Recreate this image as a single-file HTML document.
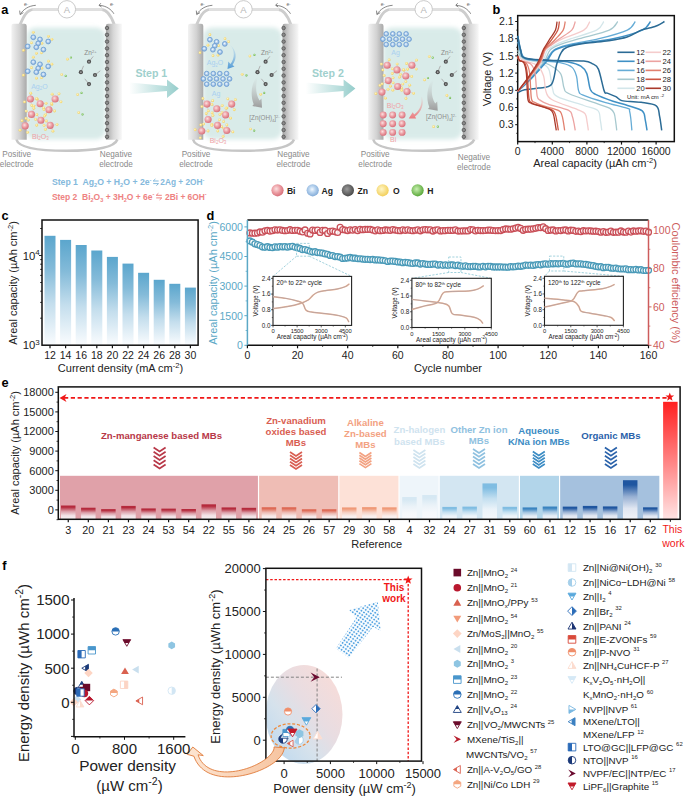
<!DOCTYPE html>
<html><head><meta charset="utf-8"><style>
html,body{margin:0;padding:0;background:#fff;}
svg{display:block;}
svg text{font-family:"Liberation Sans", sans-serif;}
</style></head><body>
<svg width="685" height="797" viewBox="0 0 685 797">
<defs>
<linearGradient id="gc" x1="0" y1="0" x2="0" y2="1"><stop offset="0" stop-color="#5ba6cd"/><stop offset="0.3" stop-color="#84bbd9"/><stop offset="0.62" stop-color="#c4deed"/><stop offset="1" stop-color="#fafcfe"/></linearGradient>
<linearGradient id="gthis" x1="0" y1="0" x2="0" y2="1"><stop offset="0" stop-color="#ff2020"/><stop offset="1" stop-color="#ffe4e4"/></linearGradient>
</defs>
<rect x="517.7" y="15.6" width="156.5999999999999" height="126.0" fill="none" stroke="#111" stroke-width="1.5"/>
<line x1="515.2" y1="124.70" x2="517.7" y2="124.70" stroke="#111" stroke-width="1"/>
<text x="513.70" y="128.30" font-size="10.5" fill="#222" text-anchor="end" font-weight="normal" >0.3</text>
<line x1="515.2" y1="107.50" x2="517.7" y2="107.50" stroke="#111" stroke-width="1"/>
<text x="513.70" y="111.10" font-size="10.5" fill="#222" text-anchor="end" font-weight="normal" >0.6</text>
<line x1="515.2" y1="90.30" x2="517.7" y2="90.30" stroke="#111" stroke-width="1"/>
<text x="513.70" y="93.90" font-size="10.5" fill="#222" text-anchor="end" font-weight="normal" >0.9</text>
<line x1="515.2" y1="73.10" x2="517.7" y2="73.10" stroke="#111" stroke-width="1"/>
<text x="513.70" y="76.70" font-size="10.5" fill="#222" text-anchor="end" font-weight="normal" >1.2</text>
<line x1="515.2" y1="55.91" x2="517.7" y2="55.91" stroke="#111" stroke-width="1"/>
<text x="513.70" y="59.51" font-size="10.5" fill="#222" text-anchor="end" font-weight="normal" >1.5</text>
<line x1="515.2" y1="38.71" x2="517.7" y2="38.71" stroke="#111" stroke-width="1"/>
<text x="513.70" y="42.31" font-size="10.5" fill="#222" text-anchor="end" font-weight="normal" >1.8</text>
<line x1="515.2" y1="21.51" x2="517.7" y2="21.51" stroke="#111" stroke-width="1"/>
<text x="513.70" y="25.11" font-size="10.5" fill="#222" text-anchor="end" font-weight="normal" >2.1</text>
<line x1="516.2" y1="133.30" x2="517.7" y2="133.30" stroke="#111" stroke-width="0.8"/>
<line x1="516.2" y1="116.10" x2="517.7" y2="116.10" stroke="#111" stroke-width="0.8"/>
<line x1="516.2" y1="98.90" x2="517.7" y2="98.90" stroke="#111" stroke-width="0.8"/>
<line x1="516.2" y1="81.70" x2="517.7" y2="81.70" stroke="#111" stroke-width="0.8"/>
<line x1="516.2" y1="64.50" x2="517.7" y2="64.50" stroke="#111" stroke-width="0.8"/>
<line x1="516.2" y1="47.31" x2="517.7" y2="47.31" stroke="#111" stroke-width="0.8"/>
<line x1="516.2" y1="30.11" x2="517.7" y2="30.11" stroke="#111" stroke-width="0.8"/>
<line x1="517.70" y1="141.6" x2="517.70" y2="144.6" stroke="#111" stroke-width="1.2"/>
<text x="517.70" y="155.20" font-size="10.5" fill="#222" text-anchor="middle" font-weight="normal" >0</text>
<line x1="552.30" y1="141.6" x2="552.30" y2="144.6" stroke="#111" stroke-width="1.2"/>
<text x="552.30" y="155.20" font-size="10.5" fill="#222" text-anchor="middle" font-weight="normal" >4000</text>
<line x1="586.90" y1="141.6" x2="586.90" y2="144.6" stroke="#111" stroke-width="1.2"/>
<text x="586.90" y="155.20" font-size="10.5" fill="#222" text-anchor="middle" font-weight="normal" >8000</text>
<line x1="621.50" y1="141.6" x2="621.50" y2="144.6" stroke="#111" stroke-width="1.2"/>
<text x="621.50" y="155.20" font-size="10.5" fill="#222" text-anchor="middle" font-weight="normal" >12000</text>
<line x1="656.10" y1="141.6" x2="656.10" y2="144.6" stroke="#111" stroke-width="1.2"/>
<text x="656.10" y="155.20" font-size="10.5" fill="#222" text-anchor="middle" font-weight="normal" >16000</text>
<line x1="535.00" y1="141.6" x2="535.00" y2="143.1" stroke="#111" stroke-width="0.8"/>
<line x1="569.60" y1="141.6" x2="569.60" y2="143.1" stroke="#111" stroke-width="0.8"/>
<line x1="604.20" y1="141.6" x2="604.20" y2="143.1" stroke="#111" stroke-width="0.8"/>
<line x1="638.80" y1="141.6" x2="638.80" y2="143.1" stroke="#111" stroke-width="0.8"/>
<text x="595.00" y="166.60" font-size="11" fill="#222" text-anchor="middle" font-weight="normal" >Areal capacity (µAh cm<tspan dy="-4" font-size="7.5">-2</tspan><tspan dy="4">)</tspan></text>
<text x="491.00" y="79.00" font-size="11" fill="#222" text-anchor="middle" font-weight="normal" transform="rotate(-90 491 79)">Voltage (V)</text>
<text x="492.60" y="14.00" font-size="12.8" fill="#000" text-anchor="start" font-weight="bold" >b</text>
<path d="M517.70 91.45 C519.77 89.16 525.99 82.66 530.13 77.69 C534.27 72.72 539.66 66.22 542.56 61.64 C545.46 57.05 545.20 53.04 547.54 50.17 C549.89 47.31 552.71 46.35 556.62 44.44 C560.54 42.53 564.41 41.09 571.06 38.71 C577.72 36.32 591.12 32.97 596.57 30.11 C602.02 27.24 602.56 22.94 603.76 21.51" fill="none" stroke="#d3e6ea" stroke-width="1.3"/>
<path d="M517.70 53.04 C518.13 53.71 519.00 55.91 520.30 57.05 C521.59 58.20 522.31 58.96 525.49 59.92 C528.66 60.87 535.45 61.26 539.33 62.78 C543.20 64.31 546.58 64.89 548.75 69.09 C550.93 73.30 550.93 83.42 552.39 88.01 C553.84 92.60 552.26 93.70 557.49 96.61 C562.72 99.52 577.08 103.20 583.79 105.50 C590.49 107.79 594.96 107.93 597.71 110.37 C600.47 112.81 599.63 116.77 600.31 120.11 C600.99 123.46 601.53 128.71 601.78 130.43" fill="none" stroke="#d3e6ea" stroke-width="1.3"/>
<path d="M517.70 91.45 C519.91 89.16 526.53 82.66 530.95 77.69 C535.36 72.72 541.01 66.22 544.19 61.64 C547.38 57.05 547.32 53.04 550.04 50.17 C552.77 47.31 555.69 46.35 560.55 44.44 C565.42 42.53 571.11 41.09 579.24 38.71 C587.36 36.32 602.88 32.97 609.30 30.11 C615.72 27.24 616.37 22.94 617.78 21.51" fill="none" stroke="#a7c9cf" stroke-width="1.3"/>
<path d="M517.70 50.17 C518.13 51.13 519.00 54.38 520.30 55.91 C521.59 57.43 522.31 58.39 525.49 59.34 C528.66 60.30 535.45 60.78 539.33 61.64 C543.20 62.50 545.24 62.55 548.75 64.50 C552.27 66.46 557.88 69.47 560.43 73.39 C562.98 77.31 562.61 84.62 564.06 88.01 C565.52 91.40 563.44 91.07 569.17 93.74 C574.89 96.42 591.60 101.63 598.40 104.06 C605.21 106.50 607.37 106.83 610.00 108.36 C612.62 109.89 613.20 110.99 614.15 113.24 C615.10 115.48 615.27 118.97 615.70 121.83 C616.14 124.70 616.57 129.00 616.74 130.43" fill="none" stroke="#a7c9cf" stroke-width="1.3"/>
<path d="M517.70 91.45 C520.01 89.16 526.92 82.66 531.53 77.69 C536.14 72.72 541.69 66.22 545.36 61.64 C549.03 57.05 549.46 53.04 553.55 50.17 C557.63 47.31 562.30 46.35 569.89 44.44 C577.48 42.53 589.52 41.09 599.09 38.71 C608.66 36.32 621.30 32.97 627.33 30.11 C633.37 27.24 633.97 22.94 635.30 21.51" fill="none" stroke="#66acd6" stroke-width="1.3"/>
<path d="M517.70 41.57 C518.20 43.48 519.43 50.17 520.73 53.04 C522.03 55.91 521.66 57.43 525.49 58.77 C529.31 60.11 537.58 60.35 543.65 61.06 C549.72 61.78 557.16 62.02 561.90 63.07 C566.64 64.12 569.67 65.17 572.11 67.37 C574.54 69.57 575.42 72.34 576.52 76.26 C577.62 80.17 577.47 87.68 578.68 90.88 C579.89 94.08 579.29 93.50 583.79 95.46 C588.28 97.42 598.38 100.48 605.67 102.63 C612.97 104.78 623.58 106.98 627.56 108.36 C631.53 109.75 629.00 109.17 629.54 110.94 C630.09 112.71 630.45 115.72 630.84 118.97 C631.23 122.22 631.71 128.52 631.88 130.43" fill="none" stroke="#66acd6" stroke-width="1.3"/>
<path d="M517.70 91.45 C520.10 89.16 527.31 82.66 532.12 77.69 C536.92 72.72 542.76 66.22 546.53 61.64 C550.30 57.05 550.24 53.04 554.71 50.17 C559.19 47.31 563.66 46.35 573.40 44.44 C583.13 42.53 601.63 41.09 613.11 38.71 C624.59 36.32 636.03 32.97 642.26 30.11 C648.48 27.24 649.11 22.94 650.48 21.51" fill="none" stroke="#3f90c5" stroke-width="1.5"/>
<path d="M517.70 35.84 C518.20 38.23 519.43 46.45 520.73 50.17 C522.03 53.90 520.94 56.48 525.49 58.20 C530.03 59.92 540.69 59.82 547.98 60.49 C555.26 61.16 563.69 61.26 569.17 62.21 C574.65 63.17 577.92 64.36 580.85 66.22 C583.77 68.09 585.14 69.52 586.73 73.39 C588.31 77.26 588.89 85.96 590.36 89.44 C591.83 92.93 591.77 92.36 595.55 94.32 C599.33 96.27 607.69 99.33 613.02 101.20 C618.36 103.06 622.68 103.87 627.56 105.50 C632.43 107.12 639.30 108.51 642.26 110.94 C645.22 113.38 644.49 116.87 645.29 120.11 C646.08 123.36 646.73 128.71 647.02 130.43" fill="none" stroke="#3f90c5" stroke-width="1.5"/>
<path d="M517.70 92.60 C518.85 92.12 521.16 90.49 524.62 89.73 C528.08 88.97 533.99 88.87 538.46 88.01 C542.93 87.15 548.41 88.49 551.44 84.57 C554.46 80.65 555.04 69.76 556.62 64.50 C558.21 59.25 559.22 55.91 560.95 53.04 C562.68 50.17 562.97 48.93 567.00 47.31 C571.04 45.68 578.25 44.39 585.17 43.29 C592.09 42.19 601.53 41.76 608.53 40.71 C615.52 39.66 621.69 38.75 627.12 36.99 C632.56 35.22 637.24 31.64 641.14 30.11 C645.03 28.58 647.75 28.58 650.48 27.81 C653.20 27.05 655.15 26.57 657.48 25.52 C659.82 24.47 663.32 22.18 664.49 21.51" fill="none" stroke="#2b6b95" stroke-width="1.5"/>
<path d="M517.70 35.84 C518.20 38.23 519.43 46.45 520.73 50.17 C522.03 53.90 519.50 56.48 525.49 58.20 C531.47 59.92 546.91 60.01 556.62 60.49 C566.34 60.97 577.79 60.49 583.79 61.06 C589.78 61.64 590.17 62.59 592.61 63.93 C595.05 65.27 596.47 64.60 598.40 69.09 C600.34 73.58 602.73 86.86 604.20 90.88 C605.67 94.89 605.28 92.21 607.23 93.17 C609.17 94.12 613.46 95.37 615.88 96.61 C618.30 97.85 618.83 99.76 621.76 100.62 C624.69 101.48 630.21 101.48 633.44 101.77 C636.67 102.06 637.33 101.67 641.14 102.34 C644.94 103.01 653.20 103.49 656.27 105.78 C659.34 108.08 658.65 111.99 659.56 116.10 C660.47 120.21 661.36 128.05 661.72 130.43" fill="none" stroke="#2b6b95" stroke-width="1.5"/>
<path d="M517.70 91.45 C519.65 89.16 525.52 82.66 529.43 77.69 C533.34 72.72 538.50 66.22 541.16 61.64 C543.81 57.05 543.49 53.04 545.36 50.17 C547.23 47.31 549.46 46.35 552.38 44.44 C555.30 42.53 557.64 41.09 562.89 38.71 C568.13 36.32 579.36 32.97 583.84 30.11 C588.31 27.24 588.76 22.94 589.75 21.51" fill="none" stroke="#f5cccc" stroke-width="1.3"/>
<path d="M517.70 55.91 C518.13 56.38 519.00 57.91 520.30 58.77 C521.59 59.63 522.60 59.92 525.49 61.06 C528.37 62.21 534.57 63.12 537.60 65.65 C540.62 68.18 542.28 72.05 543.65 76.26 C545.02 80.46 544.47 87.01 545.81 90.88 C547.15 94.75 546.33 96.32 551.69 99.48 C557.06 102.63 572.41 107.41 577.99 109.80 C583.57 112.18 583.66 111.80 585.17 113.81 C586.68 115.81 586.54 119.06 587.07 121.83 C587.61 124.61 588.15 129.00 588.37 130.43" fill="none" stroke="#f5cccc" stroke-width="1.3"/>
<path d="M517.70 91.45 C519.62 89.16 525.36 82.66 529.20 77.69 C533.03 72.72 538.07 66.22 540.69 61.64 C543.32 57.05 543.08 53.04 544.95 50.17 C546.81 47.31 549.46 46.35 551.87 44.44 C554.27 42.53 556.07 41.09 559.38 38.71 C562.70 36.32 569.12 32.97 571.77 30.11 C574.42 27.24 574.68 22.94 575.27 21.51" fill="none" stroke="#eca3a1" stroke-width="1.3"/>
<path d="M517.70 55.91 C517.99 56.67 517.27 59.15 519.43 60.49 C521.59 61.83 528.08 61.83 530.68 63.93 C533.27 66.03 533.92 67.75 535.00 73.10 C536.08 78.45 536.21 91.45 537.16 96.04 C538.11 100.62 538.91 99.28 540.71 100.62 C542.51 101.96 543.30 102.44 547.98 104.06 C552.65 105.69 564.70 108.36 568.74 110.37 C572.77 112.38 571.33 114.00 572.20 116.10 C573.06 118.20 573.42 120.59 573.93 122.98 C574.43 125.37 575.01 129.19 575.22 130.43" fill="none" stroke="#eca3a1" stroke-width="1.3"/>
<path d="M517.70 91.45 C519.58 89.16 525.21 82.66 528.96 77.69 C532.72 72.72 537.63 66.22 540.22 61.64 C542.82 57.05 542.86 53.04 544.52 50.17 C546.17 47.31 548.24 46.35 550.14 44.44 C552.03 42.53 553.71 41.09 555.88 38.71 C558.05 36.32 561.61 32.97 563.17 30.11 C564.72 27.24 564.88 22.94 565.22 21.51" fill="none" stroke="#e1806f" stroke-width="1.3"/>
<path d="M517.70 55.91 C517.99 56.67 517.99 59.25 519.43 60.49 C520.87 61.73 524.65 61.26 526.35 63.36 C528.05 65.46 528.80 67.28 529.64 73.10 C530.47 78.93 530.55 93.46 531.37 98.33 C532.19 103.20 532.95 101.20 534.57 102.34 C536.18 103.49 537.09 103.87 541.06 105.21 C545.02 106.55 554.89 108.74 558.36 110.37 C561.82 111.99 560.98 113.04 561.82 114.95 C562.65 116.87 562.90 119.25 563.37 121.83 C563.85 124.41 564.45 129.00 564.67 130.43" fill="none" stroke="#e1806f" stroke-width="1.3"/>
<path d="M517.70 91.45 C519.52 89.16 524.97 82.66 528.61 77.69 C532.25 72.72 537.02 66.22 539.52 61.64 C542.03 57.05 542.24 53.04 543.65 50.17 C545.06 47.31 546.52 46.35 547.98 44.44 C549.43 42.53 550.73 41.09 552.38 38.71 C554.02 36.32 556.68 32.97 557.84 30.11 C559.01 27.24 559.13 22.94 559.38 21.51" fill="none" stroke="#cd5642" stroke-width="1.3"/>
<path d="M517.70 55.91 C517.99 56.67 518.28 59.34 519.43 60.49 C520.58 61.64 523.32 60.68 524.62 62.78 C525.92 64.89 526.49 67.18 527.22 73.10 C527.94 79.03 528.15 93.36 528.95 98.33 C529.74 103.30 530.53 101.77 531.97 102.92 C533.41 104.06 534.28 104.06 537.60 105.21 C540.91 106.36 548.91 108.27 551.87 109.80 C554.82 111.32 554.48 112.38 555.33 114.38 C556.18 116.39 556.47 119.16 556.97 121.83 C557.48 124.51 558.12 129.00 558.36 130.43" fill="none" stroke="#cd5642" stroke-width="1.3"/>
<path d="M517.70 91.45 C519.42 89.16 524.59 82.66 528.03 77.69 C531.47 72.72 535.86 66.22 538.36 61.64 C540.86 57.05 541.66 53.04 543.03 50.17 C544.39 47.31 545.36 46.35 546.53 44.44 C547.70 42.53 548.55 41.09 550.04 38.71 C551.54 36.32 554.34 32.97 555.51 30.11 C556.68 27.24 556.79 22.94 557.05 21.51" fill="none" stroke="#a9392b" stroke-width="1.3"/>
<path d="M517.70 55.91 C517.99 56.67 518.42 59.34 519.43 60.49 C520.44 61.64 522.60 60.68 523.75 62.78 C524.91 64.89 525.67 67.08 526.35 73.10 C527.03 79.12 527.10 93.93 527.82 98.90 C528.54 103.87 529.32 101.91 530.68 102.92 C532.03 103.92 532.74 103.82 535.95 104.92 C539.17 106.02 547.05 107.93 549.96 109.51 C552.88 111.09 552.60 112.33 553.42 114.38 C554.25 116.44 554.42 119.16 554.90 121.83 C555.37 124.51 556.05 129.00 556.28 130.43" fill="none" stroke="#a9392b" stroke-width="1.3"/>
<line x1="617.4" y1="52.3" x2="634.6" y2="52.3" stroke="#2b6b95" stroke-width="1.6"/>
<text x="636.30" y="55.00" font-size="7.6" fill="#222" text-anchor="start" font-weight="normal" >12</text>
<line x1="645.5" y1="52.3" x2="661" y2="52.3" stroke="#f5cccc" stroke-width="1.6"/>
<text x="662.60" y="55.00" font-size="7.6" fill="#222" text-anchor="start" font-weight="normal" >22</text>
<line x1="617.4" y1="61.3" x2="634.6" y2="61.3" stroke="#3f90c5" stroke-width="1.6"/>
<text x="636.30" y="64.00" font-size="7.6" fill="#222" text-anchor="start" font-weight="normal" >14</text>
<line x1="645.5" y1="61.3" x2="661" y2="61.3" stroke="#eca3a1" stroke-width="1.6"/>
<text x="662.60" y="64.00" font-size="7.6" fill="#222" text-anchor="start" font-weight="normal" >24</text>
<line x1="617.4" y1="70.4" x2="634.6" y2="70.4" stroke="#66acd6" stroke-width="1.6"/>
<text x="636.30" y="73.10" font-size="7.6" fill="#222" text-anchor="start" font-weight="normal" >16</text>
<line x1="645.5" y1="70.4" x2="661" y2="70.4" stroke="#e1806f" stroke-width="1.6"/>
<text x="662.60" y="73.10" font-size="7.6" fill="#222" text-anchor="start" font-weight="normal" >26</text>
<line x1="617.4" y1="79.3" x2="634.6" y2="79.3" stroke="#a7c9cf" stroke-width="1.6"/>
<text x="636.30" y="82.00" font-size="7.6" fill="#222" text-anchor="start" font-weight="normal" >18</text>
<line x1="645.5" y1="79.3" x2="661" y2="79.3" stroke="#cd5642" stroke-width="1.6"/>
<text x="662.60" y="82.00" font-size="7.6" fill="#222" text-anchor="start" font-weight="normal" >28</text>
<line x1="617.4" y1="88.3" x2="634.6" y2="88.3" stroke="#d3e6ea" stroke-width="1.6"/>
<text x="636.30" y="91.00" font-size="7.6" fill="#222" text-anchor="start" font-weight="normal" >20</text>
<line x1="645.5" y1="88.3" x2="661" y2="88.3" stroke="#a9392b" stroke-width="1.6"/>
<text x="662.60" y="91.00" font-size="7.6" fill="#222" text-anchor="start" font-weight="normal" >30</text>
<text x="627.00" y="99.30" font-size="5.9" fill="#222" text-anchor="start" font-weight="normal" >Unit: mA cm<tspan dx="1.5" dy="-2.6" font-size="4.2">-2</tspan></text>
<rect x="44.50" y="235.8" width="11" height="109.40" fill="url(#gc)"/>
<rect x="60.10" y="239.9" width="11" height="105.30" fill="url(#gc)"/>
<rect x="75.70" y="245.0" width="11" height="100.20" fill="url(#gc)"/>
<rect x="91.30" y="250.5" width="11" height="94.70" fill="url(#gc)"/>
<rect x="106.90" y="256.9" width="11" height="88.30" fill="url(#gc)"/>
<rect x="122.50" y="263.6" width="11" height="81.60" fill="url(#gc)"/>
<rect x="138.10" y="272.8" width="11" height="72.40" fill="url(#gc)"/>
<rect x="153.70" y="279.8" width="11" height="65.40" fill="url(#gc)"/>
<rect x="169.30" y="283.8" width="11" height="61.40" fill="url(#gc)"/>
<rect x="184.90" y="287.6" width="11" height="57.60" fill="url(#gc)"/>
<rect x="42.0" y="220.0" width="156.1" height="125.19999999999999" fill="none" stroke="#111" stroke-width="1.5"/>
<line x1="40.2" y1="318.20" x2="42.0" y2="318.20" stroke="#111" stroke-width="0.9"/>
<line x1="40.2" y1="302.40" x2="42.0" y2="302.40" stroke="#111" stroke-width="0.9"/>
<line x1="40.2" y1="291.20" x2="42.0" y2="291.20" stroke="#111" stroke-width="0.9"/>
<line x1="40.2" y1="282.50" x2="42.0" y2="282.50" stroke="#111" stroke-width="0.9"/>
<line x1="40.2" y1="275.40" x2="42.0" y2="275.40" stroke="#111" stroke-width="0.9"/>
<line x1="40.2" y1="269.39" x2="42.0" y2="269.39" stroke="#111" stroke-width="0.9"/>
<line x1="40.2" y1="264.19" x2="42.0" y2="264.19" stroke="#111" stroke-width="0.9"/>
<line x1="40.2" y1="259.60" x2="42.0" y2="259.60" stroke="#111" stroke-width="0.9"/>
<line x1="39.0" y1="255.50" x2="42.0" y2="255.50" stroke="#111" stroke-width="0.9"/>
<line x1="40.2" y1="228.50" x2="42.0" y2="228.50" stroke="#111" stroke-width="0.9"/>
<text x="39.80" y="259.70" font-size="11.3" fill="#222" text-anchor="end" font-weight="normal" >10<tspan dy="-4.8" font-size="8">4</tspan></text>
<text x="39.80" y="349.40" font-size="11.3" fill="#222" text-anchor="end" font-weight="normal" >10<tspan dy="-4.8" font-size="8">3</tspan></text>
<line x1="50.00" y1="345.2" x2="50.00" y2="348.2" stroke="#111" stroke-width="1.2"/>
<text x="50.00" y="358.60" font-size="10.5" fill="#222" text-anchor="middle" font-weight="normal" >12</text>
<line x1="65.60" y1="345.2" x2="65.60" y2="348.2" stroke="#111" stroke-width="1.2"/>
<text x="65.60" y="358.60" font-size="10.5" fill="#222" text-anchor="middle" font-weight="normal" >14</text>
<line x1="81.20" y1="345.2" x2="81.20" y2="348.2" stroke="#111" stroke-width="1.2"/>
<text x="81.20" y="358.60" font-size="10.5" fill="#222" text-anchor="middle" font-weight="normal" >16</text>
<line x1="96.80" y1="345.2" x2="96.80" y2="348.2" stroke="#111" stroke-width="1.2"/>
<text x="96.80" y="358.60" font-size="10.5" fill="#222" text-anchor="middle" font-weight="normal" >18</text>
<line x1="112.40" y1="345.2" x2="112.40" y2="348.2" stroke="#111" stroke-width="1.2"/>
<text x="112.40" y="358.60" font-size="10.5" fill="#222" text-anchor="middle" font-weight="normal" >20</text>
<line x1="128.00" y1="345.2" x2="128.00" y2="348.2" stroke="#111" stroke-width="1.2"/>
<text x="128.00" y="358.60" font-size="10.5" fill="#222" text-anchor="middle" font-weight="normal" >22</text>
<line x1="143.60" y1="345.2" x2="143.60" y2="348.2" stroke="#111" stroke-width="1.2"/>
<text x="143.60" y="358.60" font-size="10.5" fill="#222" text-anchor="middle" font-weight="normal" >24</text>
<line x1="159.20" y1="345.2" x2="159.20" y2="348.2" stroke="#111" stroke-width="1.2"/>
<text x="159.20" y="358.60" font-size="10.5" fill="#222" text-anchor="middle" font-weight="normal" >26</text>
<line x1="174.80" y1="345.2" x2="174.80" y2="348.2" stroke="#111" stroke-width="1.2"/>
<text x="174.80" y="358.60" font-size="10.5" fill="#222" text-anchor="middle" font-weight="normal" >28</text>
<line x1="190.40" y1="345.2" x2="190.40" y2="348.2" stroke="#111" stroke-width="1.2"/>
<text x="190.40" y="358.60" font-size="10.5" fill="#222" text-anchor="middle" font-weight="normal" >30</text>
<text x="120.50" y="372.00" font-size="11" fill="#222" text-anchor="middle" font-weight="normal" >Current density (mA cm<tspan dy="-4" font-size="7.5">-2</tspan><tspan dy="4">)</tspan></text>
<text x="17.20" y="283.00" font-size="11" fill="#222" text-anchor="middle" font-weight="normal" transform="rotate(-90 17.2 283)">Areal capacity (µAh cm<tspan dy="-4" font-size="7.5">-2</tspan><tspan dy="4">)</tspan></text>
<text x="1.60" y="219.70" font-size="12.8" fill="#000" text-anchor="start" font-weight="bold" >c</text>
<polyline points="249.9,239.9 252.4,241.4 254.9,242.8 257.4,243.8 259.9,244.7 262.4,245.7 264.9,245.9 267.5,246.0 270.0,246.2 272.5,246.4 275.0,246.2 277.5,246.0 280.0,245.9 282.5,245.7 285.0,245.6 287.5,245.5 290.0,245.4 292.5,245.3 295.0,245.9 297.5,246.5 300.0,247.1 302.6,247.6 305.1,248.2 307.6,248.7 310.1,249.3 312.6,249.8 315.1,250.3 317.6,250.8 320.1,251.3 322.6,251.8 325.1,252.4 327.6,253.0 330.1,253.6 332.6,254.2 335.1,254.8 337.6,255.4 340.2,255.9 342.7,256.4 345.2,256.2 347.7,256.1 350.2,256.3 352.7,256.5 355.2,256.7 357.7,257.0 360.2,257.2 362.7,257.5 365.2,257.8 367.7,258.0 370.2,258.3 372.7,258.6 375.3,258.9 377.8,259.2 380.3,259.5 382.8,259.7 385.3,260.0 387.8,260.3 390.3,260.6 392.8,260.9 395.3,261.2 397.8,261.4 400.3,261.6 402.8,261.8 405.3,262.0 407.8,262.2 410.3,262.4 412.9,262.6 415.4,262.8 417.9,263.0 420.4,263.2 422.9,263.4 425.4,263.5 427.9,263.7 430.4,263.8 432.9,264.0 435.4,264.2 437.9,264.3 440.4,264.5 442.9,264.6 445.4,264.8 448.0,264.9 450.5,265.1 453.0,265.2 455.5,265.3 458.0,265.5 460.5,265.6 463.0,265.7 465.5,265.9 468.0,266.0 470.5,266.1 473.0,266.3 475.5,266.4 478.0,266.4 480.5,266.5 483.0,266.6 485.6,266.7 488.1,267.1 490.6,267.5 493.1,267.9 495.6,268.3 498.1,268.7 500.6,268.8 503.1,268.9 505.6,269.0 508.1,269.1 510.6,268.9 513.1,268.6 515.6,268.3 518.1,268.1 520.6,267.8 523.2,267.6 525.7,267.4 528.2,267.2 530.7,266.6 533.2,266.0 535.7,265.5 538.2,264.9 540.7,264.4 543.2,263.8 545.7,263.6 548.2,263.4 550.7,263.4 553.2,263.4 555.7,263.3 558.3,263.3 560.8,263.3 563.3,263.3 565.8,263.3 568.3,263.2 570.8,263.7 573.3,264.1 575.8,264.7 578.3,265.2 580.8,265.3 583.3,265.4 585.8,265.5 588.3,266.0 590.8,266.5 593.3,267.0 595.9,267.5 598.4,268.0 600.9,268.2 603.4,268.4 605.9,268.3 608.4,268.2 610.9,268.1 613.4,268.0 615.9,267.9 618.4,267.8 620.9,267.7 623.4,267.6 625.9,267.7 628.4,267.9 631.0,268.1 633.5,268.3 636.0,268.4 638.5,268.6 641.0,268.8 643.5,269.0 646.0,269.1 648.5,269.3" fill="none" stroke="#e8b850" stroke-width="1.6"/>
<circle cx="249.91" cy="240.97" r="2.95" fill="#fff" fill-opacity="0.8" stroke="#4a9ab8" stroke-width="1.3"/>
<circle cx="252.41" cy="242.15" r="2.95" fill="#fff" fill-opacity="0.8" stroke="#4a9ab8" stroke-width="1.3"/>
<circle cx="254.92" cy="243.80" r="2.95" fill="#fff" fill-opacity="0.8" stroke="#4a9ab8" stroke-width="1.3"/>
<circle cx="257.43" cy="244.56" r="2.95" fill="#fff" fill-opacity="0.8" stroke="#4a9ab8" stroke-width="1.3"/>
<circle cx="259.93" cy="245.52" r="2.95" fill="#fff" fill-opacity="0.8" stroke="#4a9ab8" stroke-width="1.3"/>
<circle cx="262.44" cy="247.06" r="2.95" fill="#fff" fill-opacity="0.8" stroke="#4a9ab8" stroke-width="1.3"/>
<circle cx="264.95" cy="247.31" r="2.95" fill="#fff" fill-opacity="0.8" stroke="#4a9ab8" stroke-width="1.3"/>
<circle cx="267.45" cy="246.70" r="2.95" fill="#fff" fill-opacity="0.8" stroke="#4a9ab8" stroke-width="1.3"/>
<circle cx="269.96" cy="247.46" r="2.95" fill="#fff" fill-opacity="0.8" stroke="#4a9ab8" stroke-width="1.3"/>
<circle cx="272.47" cy="247.68" r="2.95" fill="#fff" fill-opacity="0.8" stroke="#4a9ab8" stroke-width="1.3"/>
<circle cx="274.98" cy="246.79" r="2.95" fill="#fff" fill-opacity="0.8" stroke="#4a9ab8" stroke-width="1.3"/>
<circle cx="277.48" cy="247.16" r="2.95" fill="#fff" fill-opacity="0.8" stroke="#4a9ab8" stroke-width="1.3"/>
<circle cx="279.99" cy="246.65" r="2.95" fill="#fff" fill-opacity="0.8" stroke="#4a9ab8" stroke-width="1.3"/>
<circle cx="282.50" cy="246.85" r="2.95" fill="#fff" fill-opacity="0.8" stroke="#4a9ab8" stroke-width="1.3"/>
<circle cx="285.00" cy="246.64" r="2.95" fill="#fff" fill-opacity="0.8" stroke="#4a9ab8" stroke-width="1.3"/>
<circle cx="287.51" cy="247.08" r="2.95" fill="#fff" fill-opacity="0.8" stroke="#4a9ab8" stroke-width="1.3"/>
<circle cx="290.02" cy="246.55" r="2.95" fill="#fff" fill-opacity="0.8" stroke="#4a9ab8" stroke-width="1.3"/>
<circle cx="292.52" cy="246.27" r="2.95" fill="#fff" fill-opacity="0.8" stroke="#4a9ab8" stroke-width="1.3"/>
<circle cx="295.03" cy="247.27" r="2.95" fill="#fff" fill-opacity="0.8" stroke="#4a9ab8" stroke-width="1.3"/>
<circle cx="297.54" cy="247.71" r="2.95" fill="#fff" fill-opacity="0.8" stroke="#4a9ab8" stroke-width="1.3"/>
<circle cx="300.04" cy="248.44" r="2.95" fill="#fff" fill-opacity="0.8" stroke="#4a9ab8" stroke-width="1.3"/>
<circle cx="302.55" cy="249.65" r="2.95" fill="#fff" fill-opacity="0.8" stroke="#4a9ab8" stroke-width="1.3"/>
<circle cx="305.06" cy="249.59" r="2.95" fill="#fff" fill-opacity="0.8" stroke="#4a9ab8" stroke-width="1.3"/>
<circle cx="307.56" cy="250.37" r="2.95" fill="#fff" fill-opacity="0.8" stroke="#4a9ab8" stroke-width="1.3"/>
<circle cx="310.07" cy="251.27" r="2.95" fill="#fff" fill-opacity="0.8" stroke="#4a9ab8" stroke-width="1.3"/>
<circle cx="312.58" cy="252.03" r="2.95" fill="#fff" fill-opacity="0.8" stroke="#4a9ab8" stroke-width="1.3"/>
<circle cx="315.09" cy="251.70" r="2.95" fill="#fff" fill-opacity="0.8" stroke="#4a9ab8" stroke-width="1.3"/>
<circle cx="317.59" cy="252.58" r="2.95" fill="#fff" fill-opacity="0.8" stroke="#4a9ab8" stroke-width="1.3"/>
<circle cx="320.10" cy="252.83" r="2.95" fill="#fff" fill-opacity="0.8" stroke="#4a9ab8" stroke-width="1.3"/>
<circle cx="322.61" cy="253.17" r="2.95" fill="#fff" fill-opacity="0.8" stroke="#4a9ab8" stroke-width="1.3"/>
<circle cx="325.11" cy="253.92" r="2.95" fill="#fff" fill-opacity="0.8" stroke="#4a9ab8" stroke-width="1.3"/>
<circle cx="327.62" cy="254.31" r="2.95" fill="#fff" fill-opacity="0.8" stroke="#4a9ab8" stroke-width="1.3"/>
<circle cx="330.13" cy="255.42" r="2.95" fill="#fff" fill-opacity="0.8" stroke="#4a9ab8" stroke-width="1.3"/>
<circle cx="332.63" cy="255.61" r="2.95" fill="#fff" fill-opacity="0.8" stroke="#4a9ab8" stroke-width="1.3"/>
<circle cx="335.14" cy="256.55" r="2.95" fill="#fff" fill-opacity="0.8" stroke="#4a9ab8" stroke-width="1.3"/>
<circle cx="337.65" cy="256.60" r="2.95" fill="#fff" fill-opacity="0.8" stroke="#4a9ab8" stroke-width="1.3"/>
<circle cx="340.15" cy="257.18" r="2.95" fill="#fff" fill-opacity="0.8" stroke="#4a9ab8" stroke-width="1.3"/>
<circle cx="342.66" cy="258.48" r="2.95" fill="#fff" fill-opacity="0.8" stroke="#4a9ab8" stroke-width="1.3"/>
<circle cx="345.17" cy="258.24" r="2.95" fill="#fff" fill-opacity="0.8" stroke="#4a9ab8" stroke-width="1.3"/>
<circle cx="347.68" cy="257.96" r="2.95" fill="#fff" fill-opacity="0.8" stroke="#4a9ab8" stroke-width="1.3"/>
<circle cx="350.18" cy="257.44" r="2.95" fill="#fff" fill-opacity="0.8" stroke="#4a9ab8" stroke-width="1.3"/>
<circle cx="352.69" cy="258.18" r="2.95" fill="#fff" fill-opacity="0.8" stroke="#4a9ab8" stroke-width="1.3"/>
<circle cx="355.20" cy="258.21" r="2.95" fill="#fff" fill-opacity="0.8" stroke="#4a9ab8" stroke-width="1.3"/>
<circle cx="357.70" cy="258.75" r="2.95" fill="#fff" fill-opacity="0.8" stroke="#4a9ab8" stroke-width="1.3"/>
<circle cx="360.21" cy="258.76" r="2.95" fill="#fff" fill-opacity="0.8" stroke="#4a9ab8" stroke-width="1.3"/>
<circle cx="362.72" cy="259.10" r="2.95" fill="#fff" fill-opacity="0.8" stroke="#4a9ab8" stroke-width="1.3"/>
<circle cx="365.22" cy="259.35" r="2.95" fill="#fff" fill-opacity="0.8" stroke="#4a9ab8" stroke-width="1.3"/>
<circle cx="367.73" cy="259.34" r="2.95" fill="#fff" fill-opacity="0.8" stroke="#4a9ab8" stroke-width="1.3"/>
<circle cx="370.24" cy="259.55" r="2.95" fill="#fff" fill-opacity="0.8" stroke="#4a9ab8" stroke-width="1.3"/>
<circle cx="372.74" cy="259.46" r="2.95" fill="#fff" fill-opacity="0.8" stroke="#4a9ab8" stroke-width="1.3"/>
<circle cx="375.25" cy="259.89" r="2.95" fill="#fff" fill-opacity="0.8" stroke="#4a9ab8" stroke-width="1.3"/>
<circle cx="377.76" cy="259.87" r="2.95" fill="#fff" fill-opacity="0.8" stroke="#4a9ab8" stroke-width="1.3"/>
<circle cx="380.26" cy="260.15" r="2.95" fill="#fff" fill-opacity="0.8" stroke="#4a9ab8" stroke-width="1.3"/>
<circle cx="382.77" cy="260.24" r="2.95" fill="#fff" fill-opacity="0.8" stroke="#4a9ab8" stroke-width="1.3"/>
<circle cx="385.28" cy="260.77" r="2.95" fill="#fff" fill-opacity="0.8" stroke="#4a9ab8" stroke-width="1.3"/>
<circle cx="387.79" cy="261.49" r="2.95" fill="#fff" fill-opacity="0.8" stroke="#4a9ab8" stroke-width="1.3"/>
<circle cx="390.29" cy="261.02" r="2.95" fill="#fff" fill-opacity="0.8" stroke="#4a9ab8" stroke-width="1.3"/>
<circle cx="392.80" cy="261.13" r="2.95" fill="#fff" fill-opacity="0.8" stroke="#4a9ab8" stroke-width="1.3"/>
<circle cx="395.31" cy="261.41" r="2.95" fill="#fff" fill-opacity="0.8" stroke="#4a9ab8" stroke-width="1.3"/>
<circle cx="397.81" cy="261.96" r="2.95" fill="#fff" fill-opacity="0.8" stroke="#4a9ab8" stroke-width="1.3"/>
<circle cx="400.32" cy="261.99" r="2.95" fill="#fff" fill-opacity="0.8" stroke="#4a9ab8" stroke-width="1.3"/>
<circle cx="402.83" cy="262.67" r="2.95" fill="#fff" fill-opacity="0.8" stroke="#4a9ab8" stroke-width="1.3"/>
<circle cx="405.33" cy="262.23" r="2.95" fill="#fff" fill-opacity="0.8" stroke="#4a9ab8" stroke-width="1.3"/>
<circle cx="407.84" cy="262.66" r="2.95" fill="#fff" fill-opacity="0.8" stroke="#4a9ab8" stroke-width="1.3"/>
<circle cx="410.35" cy="263.13" r="2.95" fill="#fff" fill-opacity="0.8" stroke="#4a9ab8" stroke-width="1.3"/>
<circle cx="412.85" cy="263.52" r="2.95" fill="#fff" fill-opacity="0.8" stroke="#4a9ab8" stroke-width="1.3"/>
<circle cx="415.36" cy="262.92" r="2.95" fill="#fff" fill-opacity="0.8" stroke="#4a9ab8" stroke-width="1.3"/>
<circle cx="417.87" cy="262.96" r="2.95" fill="#fff" fill-opacity="0.8" stroke="#4a9ab8" stroke-width="1.3"/>
<circle cx="420.37" cy="264.03" r="2.95" fill="#fff" fill-opacity="0.8" stroke="#4a9ab8" stroke-width="1.3"/>
<circle cx="422.88" cy="263.50" r="2.95" fill="#fff" fill-opacity="0.8" stroke="#4a9ab8" stroke-width="1.3"/>
<circle cx="425.39" cy="264.03" r="2.95" fill="#fff" fill-opacity="0.8" stroke="#4a9ab8" stroke-width="1.3"/>
<circle cx="427.89" cy="264.42" r="2.95" fill="#fff" fill-opacity="0.8" stroke="#4a9ab8" stroke-width="1.3"/>
<circle cx="430.40" cy="264.42" r="2.95" fill="#fff" fill-opacity="0.8" stroke="#4a9ab8" stroke-width="1.3"/>
<circle cx="432.91" cy="264.09" r="2.95" fill="#fff" fill-opacity="0.8" stroke="#4a9ab8" stroke-width="1.3"/>
<circle cx="435.42" cy="264.12" r="2.95" fill="#fff" fill-opacity="0.8" stroke="#4a9ab8" stroke-width="1.3"/>
<circle cx="437.92" cy="265.08" r="2.95" fill="#fff" fill-opacity="0.8" stroke="#4a9ab8" stroke-width="1.3"/>
<circle cx="440.43" cy="264.66" r="2.95" fill="#fff" fill-opacity="0.8" stroke="#4a9ab8" stroke-width="1.3"/>
<circle cx="442.94" cy="265.36" r="2.95" fill="#fff" fill-opacity="0.8" stroke="#4a9ab8" stroke-width="1.3"/>
<circle cx="445.44" cy="264.83" r="2.95" fill="#fff" fill-opacity="0.8" stroke="#4a9ab8" stroke-width="1.3"/>
<circle cx="447.95" cy="265.35" r="2.95" fill="#fff" fill-opacity="0.8" stroke="#4a9ab8" stroke-width="1.3"/>
<circle cx="450.46" cy="264.93" r="2.95" fill="#fff" fill-opacity="0.8" stroke="#4a9ab8" stroke-width="1.3"/>
<circle cx="452.96" cy="264.95" r="2.95" fill="#fff" fill-opacity="0.8" stroke="#4a9ab8" stroke-width="1.3"/>
<circle cx="455.47" cy="265.53" r="2.95" fill="#fff" fill-opacity="0.8" stroke="#4a9ab8" stroke-width="1.3"/>
<circle cx="457.98" cy="265.16" r="2.95" fill="#fff" fill-opacity="0.8" stroke="#4a9ab8" stroke-width="1.3"/>
<circle cx="460.48" cy="265.96" r="2.95" fill="#fff" fill-opacity="0.8" stroke="#4a9ab8" stroke-width="1.3"/>
<circle cx="462.99" cy="266.31" r="2.95" fill="#fff" fill-opacity="0.8" stroke="#4a9ab8" stroke-width="1.3"/>
<circle cx="465.50" cy="265.91" r="2.95" fill="#fff" fill-opacity="0.8" stroke="#4a9ab8" stroke-width="1.3"/>
<circle cx="468.00" cy="266.59" r="2.95" fill="#fff" fill-opacity="0.8" stroke="#4a9ab8" stroke-width="1.3"/>
<circle cx="470.51" cy="266.55" r="2.95" fill="#fff" fill-opacity="0.8" stroke="#4a9ab8" stroke-width="1.3"/>
<circle cx="473.02" cy="266.46" r="2.95" fill="#fff" fill-opacity="0.8" stroke="#4a9ab8" stroke-width="1.3"/>
<circle cx="475.53" cy="266.32" r="2.95" fill="#fff" fill-opacity="0.8" stroke="#4a9ab8" stroke-width="1.3"/>
<circle cx="478.03" cy="266.82" r="2.95" fill="#fff" fill-opacity="0.8" stroke="#4a9ab8" stroke-width="1.3"/>
<circle cx="480.54" cy="267.00" r="2.95" fill="#fff" fill-opacity="0.8" stroke="#4a9ab8" stroke-width="1.3"/>
<circle cx="483.05" cy="266.24" r="2.95" fill="#fff" fill-opacity="0.8" stroke="#4a9ab8" stroke-width="1.3"/>
<circle cx="485.55" cy="266.85" r="2.95" fill="#fff" fill-opacity="0.8" stroke="#4a9ab8" stroke-width="1.3"/>
<circle cx="488.06" cy="266.27" r="2.95" fill="#fff" fill-opacity="0.8" stroke="#4a9ab8" stroke-width="1.3"/>
<circle cx="490.57" cy="266.39" r="2.95" fill="#fff" fill-opacity="0.8" stroke="#4a9ab8" stroke-width="1.3"/>
<circle cx="493.07" cy="266.96" r="2.95" fill="#fff" fill-opacity="0.8" stroke="#4a9ab8" stroke-width="1.3"/>
<circle cx="495.58" cy="266.94" r="2.95" fill="#fff" fill-opacity="0.8" stroke="#4a9ab8" stroke-width="1.3"/>
<circle cx="498.09" cy="266.94" r="2.95" fill="#fff" fill-opacity="0.8" stroke="#4a9ab8" stroke-width="1.3"/>
<circle cx="500.59" cy="266.92" r="2.95" fill="#fff" fill-opacity="0.8" stroke="#4a9ab8" stroke-width="1.3"/>
<circle cx="503.10" cy="267.06" r="2.95" fill="#fff" fill-opacity="0.8" stroke="#4a9ab8" stroke-width="1.3"/>
<circle cx="505.61" cy="267.20" r="2.95" fill="#fff" fill-opacity="0.8" stroke="#4a9ab8" stroke-width="1.3"/>
<circle cx="508.12" cy="267.23" r="2.95" fill="#fff" fill-opacity="0.8" stroke="#4a9ab8" stroke-width="1.3"/>
<circle cx="510.62" cy="266.66" r="2.95" fill="#fff" fill-opacity="0.8" stroke="#4a9ab8" stroke-width="1.3"/>
<circle cx="513.13" cy="266.82" r="2.95" fill="#fff" fill-opacity="0.8" stroke="#4a9ab8" stroke-width="1.3"/>
<circle cx="515.64" cy="266.63" r="2.95" fill="#fff" fill-opacity="0.8" stroke="#4a9ab8" stroke-width="1.3"/>
<circle cx="518.14" cy="266.08" r="2.95" fill="#fff" fill-opacity="0.8" stroke="#4a9ab8" stroke-width="1.3"/>
<circle cx="520.65" cy="266.30" r="2.95" fill="#fff" fill-opacity="0.8" stroke="#4a9ab8" stroke-width="1.3"/>
<circle cx="523.16" cy="265.97" r="2.95" fill="#fff" fill-opacity="0.8" stroke="#4a9ab8" stroke-width="1.3"/>
<circle cx="525.66" cy="265.11" r="2.95" fill="#fff" fill-opacity="0.8" stroke="#4a9ab8" stroke-width="1.3"/>
<circle cx="528.17" cy="265.36" r="2.95" fill="#fff" fill-opacity="0.8" stroke="#4a9ab8" stroke-width="1.3"/>
<circle cx="530.68" cy="265.13" r="2.95" fill="#fff" fill-opacity="0.8" stroke="#4a9ab8" stroke-width="1.3"/>
<circle cx="533.18" cy="265.47" r="2.95" fill="#fff" fill-opacity="0.8" stroke="#4a9ab8" stroke-width="1.3"/>
<circle cx="535.69" cy="264.87" r="2.95" fill="#fff" fill-opacity="0.8" stroke="#4a9ab8" stroke-width="1.3"/>
<circle cx="538.20" cy="264.51" r="2.95" fill="#fff" fill-opacity="0.8" stroke="#4a9ab8" stroke-width="1.3"/>
<circle cx="540.70" cy="264.87" r="2.95" fill="#fff" fill-opacity="0.8" stroke="#4a9ab8" stroke-width="1.3"/>
<circle cx="543.21" cy="264.08" r="2.95" fill="#fff" fill-opacity="0.8" stroke="#4a9ab8" stroke-width="1.3"/>
<circle cx="545.72" cy="263.87" r="2.95" fill="#fff" fill-opacity="0.8" stroke="#4a9ab8" stroke-width="1.3"/>
<circle cx="548.23" cy="264.24" r="2.95" fill="#fff" fill-opacity="0.8" stroke="#4a9ab8" stroke-width="1.3"/>
<circle cx="550.73" cy="263.66" r="2.95" fill="#fff" fill-opacity="0.8" stroke="#4a9ab8" stroke-width="1.3"/>
<circle cx="553.24" cy="263.80" r="2.95" fill="#fff" fill-opacity="0.8" stroke="#4a9ab8" stroke-width="1.3"/>
<circle cx="555.75" cy="263.57" r="2.95" fill="#fff" fill-opacity="0.8" stroke="#4a9ab8" stroke-width="1.3"/>
<circle cx="558.25" cy="263.87" r="2.95" fill="#fff" fill-opacity="0.8" stroke="#4a9ab8" stroke-width="1.3"/>
<circle cx="560.76" cy="263.50" r="2.95" fill="#fff" fill-opacity="0.8" stroke="#4a9ab8" stroke-width="1.3"/>
<circle cx="563.27" cy="263.45" r="2.95" fill="#fff" fill-opacity="0.8" stroke="#4a9ab8" stroke-width="1.3"/>
<circle cx="565.77" cy="264.13" r="2.95" fill="#fff" fill-opacity="0.8" stroke="#4a9ab8" stroke-width="1.3"/>
<circle cx="568.28" cy="264.08" r="2.95" fill="#fff" fill-opacity="0.8" stroke="#4a9ab8" stroke-width="1.3"/>
<circle cx="570.79" cy="263.45" r="2.95" fill="#fff" fill-opacity="0.8" stroke="#4a9ab8" stroke-width="1.3"/>
<circle cx="573.29" cy="263.15" r="2.95" fill="#fff" fill-opacity="0.8" stroke="#4a9ab8" stroke-width="1.3"/>
<circle cx="575.80" cy="263.97" r="2.95" fill="#fff" fill-opacity="0.8" stroke="#4a9ab8" stroke-width="1.3"/>
<circle cx="578.31" cy="263.88" r="2.95" fill="#fff" fill-opacity="0.8" stroke="#4a9ab8" stroke-width="1.3"/>
<circle cx="580.81" cy="263.87" r="2.95" fill="#fff" fill-opacity="0.8" stroke="#4a9ab8" stroke-width="1.3"/>
<circle cx="583.32" cy="264.26" r="2.95" fill="#fff" fill-opacity="0.8" stroke="#4a9ab8" stroke-width="1.3"/>
<circle cx="585.83" cy="264.33" r="2.95" fill="#fff" fill-opacity="0.8" stroke="#4a9ab8" stroke-width="1.3"/>
<circle cx="588.34" cy="264.89" r="2.95" fill="#fff" fill-opacity="0.8" stroke="#4a9ab8" stroke-width="1.3"/>
<circle cx="590.84" cy="265.35" r="2.95" fill="#fff" fill-opacity="0.8" stroke="#4a9ab8" stroke-width="1.3"/>
<circle cx="593.35" cy="265.64" r="2.95" fill="#fff" fill-opacity="0.8" stroke="#4a9ab8" stroke-width="1.3"/>
<circle cx="595.86" cy="266.45" r="2.95" fill="#fff" fill-opacity="0.8" stroke="#4a9ab8" stroke-width="1.3"/>
<circle cx="598.36" cy="266.88" r="2.95" fill="#fff" fill-opacity="0.8" stroke="#4a9ab8" stroke-width="1.3"/>
<circle cx="600.87" cy="266.71" r="2.95" fill="#fff" fill-opacity="0.8" stroke="#4a9ab8" stroke-width="1.3"/>
<circle cx="603.38" cy="267.66" r="2.95" fill="#fff" fill-opacity="0.8" stroke="#4a9ab8" stroke-width="1.3"/>
<circle cx="605.88" cy="267.34" r="2.95" fill="#fff" fill-opacity="0.8" stroke="#4a9ab8" stroke-width="1.3"/>
<circle cx="608.39" cy="267.40" r="2.95" fill="#fff" fill-opacity="0.8" stroke="#4a9ab8" stroke-width="1.3"/>
<circle cx="610.90" cy="268.03" r="2.95" fill="#fff" fill-opacity="0.8" stroke="#4a9ab8" stroke-width="1.3"/>
<circle cx="613.40" cy="268.34" r="2.95" fill="#fff" fill-opacity="0.8" stroke="#4a9ab8" stroke-width="1.3"/>
<circle cx="615.91" cy="267.98" r="2.95" fill="#fff" fill-opacity="0.8" stroke="#4a9ab8" stroke-width="1.3"/>
<circle cx="618.42" cy="268.76" r="2.95" fill="#fff" fill-opacity="0.8" stroke="#4a9ab8" stroke-width="1.3"/>
<circle cx="620.92" cy="269.02" r="2.95" fill="#fff" fill-opacity="0.8" stroke="#4a9ab8" stroke-width="1.3"/>
<circle cx="623.43" cy="269.00" r="2.95" fill="#fff" fill-opacity="0.8" stroke="#4a9ab8" stroke-width="1.3"/>
<circle cx="625.94" cy="268.89" r="2.95" fill="#fff" fill-opacity="0.8" stroke="#4a9ab8" stroke-width="1.3"/>
<circle cx="628.45" cy="269.64" r="2.95" fill="#fff" fill-opacity="0.8" stroke="#4a9ab8" stroke-width="1.3"/>
<circle cx="630.95" cy="269.58" r="2.95" fill="#fff" fill-opacity="0.8" stroke="#4a9ab8" stroke-width="1.3"/>
<circle cx="633.46" cy="269.73" r="2.95" fill="#fff" fill-opacity="0.8" stroke="#4a9ab8" stroke-width="1.3"/>
<circle cx="635.97" cy="269.39" r="2.95" fill="#fff" fill-opacity="0.8" stroke="#4a9ab8" stroke-width="1.3"/>
<circle cx="638.47" cy="269.94" r="2.95" fill="#fff" fill-opacity="0.8" stroke="#4a9ab8" stroke-width="1.3"/>
<circle cx="640.98" cy="269.69" r="2.95" fill="#fff" fill-opacity="0.8" stroke="#4a9ab8" stroke-width="1.3"/>
<circle cx="643.49" cy="270.52" r="2.95" fill="#fff" fill-opacity="0.8" stroke="#4a9ab8" stroke-width="1.3"/>
<circle cx="645.99" cy="270.51" r="2.95" fill="#fff" fill-opacity="0.8" stroke="#4a9ab8" stroke-width="1.3"/>
<circle cx="648.50" cy="270.36" r="2.95" fill="#fff" fill-opacity="0.8" stroke="#4a9ab8" stroke-width="1.3"/>
<circle cx="249.91" cy="232.96" r="2.95" fill="#fff" fill-opacity="0.8" stroke="#c94f58" stroke-width="1.3"/>
<circle cx="252.41" cy="233.25" r="2.95" fill="#fff" fill-opacity="0.8" stroke="#c94f58" stroke-width="1.3"/>
<circle cx="254.92" cy="233.21" r="2.95" fill="#fff" fill-opacity="0.8" stroke="#c94f58" stroke-width="1.3"/>
<circle cx="257.43" cy="232.99" r="2.95" fill="#fff" fill-opacity="0.8" stroke="#c94f58" stroke-width="1.3"/>
<circle cx="259.93" cy="231.97" r="2.95" fill="#fff" fill-opacity="0.8" stroke="#c94f58" stroke-width="1.3"/>
<circle cx="262.44" cy="232.15" r="2.95" fill="#fff" fill-opacity="0.8" stroke="#c94f58" stroke-width="1.3"/>
<circle cx="264.95" cy="230.86" r="2.95" fill="#fff" fill-opacity="0.8" stroke="#c94f58" stroke-width="1.3"/>
<circle cx="267.45" cy="230.46" r="2.95" fill="#fff" fill-opacity="0.8" stroke="#c94f58" stroke-width="1.3"/>
<circle cx="269.96" cy="231.12" r="2.95" fill="#fff" fill-opacity="0.8" stroke="#c94f58" stroke-width="1.3"/>
<circle cx="272.47" cy="230.63" r="2.95" fill="#fff" fill-opacity="0.8" stroke="#c94f58" stroke-width="1.3"/>
<circle cx="274.98" cy="229.80" r="2.95" fill="#fff" fill-opacity="0.8" stroke="#c94f58" stroke-width="1.3"/>
<circle cx="277.48" cy="230.04" r="2.95" fill="#fff" fill-opacity="0.8" stroke="#c94f58" stroke-width="1.3"/>
<circle cx="279.99" cy="229.76" r="2.95" fill="#fff" fill-opacity="0.8" stroke="#c94f58" stroke-width="1.3"/>
<circle cx="282.50" cy="230.45" r="2.95" fill="#fff" fill-opacity="0.8" stroke="#c94f58" stroke-width="1.3"/>
<circle cx="285.00" cy="230.76" r="2.95" fill="#fff" fill-opacity="0.8" stroke="#c94f58" stroke-width="1.3"/>
<circle cx="287.51" cy="230.50" r="2.95" fill="#fff" fill-opacity="0.8" stroke="#c94f58" stroke-width="1.3"/>
<circle cx="290.02" cy="229.71" r="2.95" fill="#fff" fill-opacity="0.8" stroke="#c94f58" stroke-width="1.3"/>
<circle cx="292.52" cy="230.49" r="2.95" fill="#fff" fill-opacity="0.8" stroke="#c94f58" stroke-width="1.3"/>
<circle cx="295.03" cy="230.36" r="2.95" fill="#fff" fill-opacity="0.8" stroke="#c94f58" stroke-width="1.3"/>
<circle cx="297.54" cy="230.23" r="2.95" fill="#fff" fill-opacity="0.8" stroke="#c94f58" stroke-width="1.3"/>
<circle cx="300.04" cy="231.21" r="2.95" fill="#fff" fill-opacity="0.8" stroke="#c94f58" stroke-width="1.3"/>
<circle cx="302.55" cy="232.02" r="2.95" fill="#fff" fill-opacity="0.8" stroke="#c94f58" stroke-width="1.3"/>
<circle cx="305.06" cy="229.93" r="2.95" fill="#fff" fill-opacity="0.8" stroke="#c94f58" stroke-width="1.3"/>
<circle cx="307.56" cy="233.23" r="2.95" fill="#fff" fill-opacity="0.8" stroke="#c94f58" stroke-width="1.3"/>
<circle cx="310.07" cy="233.94" r="2.95" fill="#fff" fill-opacity="0.8" stroke="#c94f58" stroke-width="1.3"/>
<circle cx="312.58" cy="230.05" r="2.95" fill="#fff" fill-opacity="0.8" stroke="#c94f58" stroke-width="1.3"/>
<circle cx="315.09" cy="230.39" r="2.95" fill="#fff" fill-opacity="0.8" stroke="#c94f58" stroke-width="1.3"/>
<circle cx="317.59" cy="230.01" r="2.95" fill="#fff" fill-opacity="0.8" stroke="#c94f58" stroke-width="1.3"/>
<circle cx="320.10" cy="232.42" r="2.95" fill="#fff" fill-opacity="0.8" stroke="#c94f58" stroke-width="1.3"/>
<circle cx="322.61" cy="230.31" r="2.95" fill="#fff" fill-opacity="0.8" stroke="#c94f58" stroke-width="1.3"/>
<circle cx="325.11" cy="230.47" r="2.95" fill="#fff" fill-opacity="0.8" stroke="#c94f58" stroke-width="1.3"/>
<circle cx="327.62" cy="233.51" r="2.95" fill="#fff" fill-opacity="0.8" stroke="#c94f58" stroke-width="1.3"/>
<circle cx="330.13" cy="231.37" r="2.95" fill="#fff" fill-opacity="0.8" stroke="#c94f58" stroke-width="1.3"/>
<circle cx="332.63" cy="231.05" r="2.95" fill="#fff" fill-opacity="0.8" stroke="#c94f58" stroke-width="1.3"/>
<circle cx="335.14" cy="231.84" r="2.95" fill="#fff" fill-opacity="0.8" stroke="#c94f58" stroke-width="1.3"/>
<circle cx="337.65" cy="232.52" r="2.95" fill="#fff" fill-opacity="0.8" stroke="#c94f58" stroke-width="1.3"/>
<circle cx="340.15" cy="227.35" r="2.95" fill="#fff" fill-opacity="0.8" stroke="#c94f58" stroke-width="1.3"/>
<circle cx="342.66" cy="229.58" r="2.95" fill="#fff" fill-opacity="0.8" stroke="#c94f58" stroke-width="1.3"/>
<circle cx="345.17" cy="230.04" r="2.95" fill="#fff" fill-opacity="0.8" stroke="#c94f58" stroke-width="1.3"/>
<circle cx="347.68" cy="230.57" r="2.95" fill="#fff" fill-opacity="0.8" stroke="#c94f58" stroke-width="1.3"/>
<circle cx="350.18" cy="229.79" r="2.95" fill="#fff" fill-opacity="0.8" stroke="#c94f58" stroke-width="1.3"/>
<circle cx="352.69" cy="230.27" r="2.95" fill="#fff" fill-opacity="0.8" stroke="#c94f58" stroke-width="1.3"/>
<circle cx="355.20" cy="229.49" r="2.95" fill="#fff" fill-opacity="0.8" stroke="#c94f58" stroke-width="1.3"/>
<circle cx="357.70" cy="230.68" r="2.95" fill="#fff" fill-opacity="0.8" stroke="#c94f58" stroke-width="1.3"/>
<circle cx="360.21" cy="229.38" r="2.95" fill="#fff" fill-opacity="0.8" stroke="#c94f58" stroke-width="1.3"/>
<circle cx="362.72" cy="229.73" r="2.95" fill="#fff" fill-opacity="0.8" stroke="#c94f58" stroke-width="1.3"/>
<circle cx="365.22" cy="229.39" r="2.95" fill="#fff" fill-opacity="0.8" stroke="#c94f58" stroke-width="1.3"/>
<circle cx="367.73" cy="229.45" r="2.95" fill="#fff" fill-opacity="0.8" stroke="#c94f58" stroke-width="1.3"/>
<circle cx="370.24" cy="229.47" r="2.95" fill="#fff" fill-opacity="0.8" stroke="#c94f58" stroke-width="1.3"/>
<circle cx="372.74" cy="229.98" r="2.95" fill="#fff" fill-opacity="0.8" stroke="#c94f58" stroke-width="1.3"/>
<circle cx="375.25" cy="230.87" r="2.95" fill="#fff" fill-opacity="0.8" stroke="#c94f58" stroke-width="1.3"/>
<circle cx="377.76" cy="229.76" r="2.95" fill="#fff" fill-opacity="0.8" stroke="#c94f58" stroke-width="1.3"/>
<circle cx="380.26" cy="230.66" r="2.95" fill="#fff" fill-opacity="0.8" stroke="#c94f58" stroke-width="1.3"/>
<circle cx="382.77" cy="230.48" r="2.95" fill="#fff" fill-opacity="0.8" stroke="#c94f58" stroke-width="1.3"/>
<circle cx="385.28" cy="229.95" r="2.95" fill="#fff" fill-opacity="0.8" stroke="#c94f58" stroke-width="1.3"/>
<circle cx="387.79" cy="230.18" r="2.95" fill="#fff" fill-opacity="0.8" stroke="#c94f58" stroke-width="1.3"/>
<circle cx="390.29" cy="230.37" r="2.95" fill="#fff" fill-opacity="0.8" stroke="#c94f58" stroke-width="1.3"/>
<circle cx="392.80" cy="229.58" r="2.95" fill="#fff" fill-opacity="0.8" stroke="#c94f58" stroke-width="1.3"/>
<circle cx="395.31" cy="230.10" r="2.95" fill="#fff" fill-opacity="0.8" stroke="#c94f58" stroke-width="1.3"/>
<circle cx="397.81" cy="230.54" r="2.95" fill="#fff" fill-opacity="0.8" stroke="#c94f58" stroke-width="1.3"/>
<circle cx="400.32" cy="230.67" r="2.95" fill="#fff" fill-opacity="0.8" stroke="#c94f58" stroke-width="1.3"/>
<circle cx="402.83" cy="229.74" r="2.95" fill="#fff" fill-opacity="0.8" stroke="#c94f58" stroke-width="1.3"/>
<circle cx="405.33" cy="230.33" r="2.95" fill="#fff" fill-opacity="0.8" stroke="#c94f58" stroke-width="1.3"/>
<circle cx="407.84" cy="229.86" r="2.95" fill="#fff" fill-opacity="0.8" stroke="#c94f58" stroke-width="1.3"/>
<circle cx="410.35" cy="230.52" r="2.95" fill="#fff" fill-opacity="0.8" stroke="#c94f58" stroke-width="1.3"/>
<circle cx="412.85" cy="230.76" r="2.95" fill="#fff" fill-opacity="0.8" stroke="#c94f58" stroke-width="1.3"/>
<circle cx="415.36" cy="230.24" r="2.95" fill="#fff" fill-opacity="0.8" stroke="#c94f58" stroke-width="1.3"/>
<circle cx="417.87" cy="229.81" r="2.95" fill="#fff" fill-opacity="0.8" stroke="#c94f58" stroke-width="1.3"/>
<circle cx="420.37" cy="230.80" r="2.95" fill="#fff" fill-opacity="0.8" stroke="#c94f58" stroke-width="1.3"/>
<circle cx="422.88" cy="229.84" r="2.95" fill="#fff" fill-opacity="0.8" stroke="#c94f58" stroke-width="1.3"/>
<circle cx="425.39" cy="229.64" r="2.95" fill="#fff" fill-opacity="0.8" stroke="#c94f58" stroke-width="1.3"/>
<circle cx="427.89" cy="229.82" r="2.95" fill="#fff" fill-opacity="0.8" stroke="#c94f58" stroke-width="1.3"/>
<circle cx="430.40" cy="229.80" r="2.95" fill="#fff" fill-opacity="0.8" stroke="#c94f58" stroke-width="1.3"/>
<circle cx="432.91" cy="231.05" r="2.95" fill="#fff" fill-opacity="0.8" stroke="#c94f58" stroke-width="1.3"/>
<circle cx="435.42" cy="230.09" r="2.95" fill="#fff" fill-opacity="0.8" stroke="#c94f58" stroke-width="1.3"/>
<circle cx="437.92" cy="229.74" r="2.95" fill="#fff" fill-opacity="0.8" stroke="#c94f58" stroke-width="1.3"/>
<circle cx="440.43" cy="230.98" r="2.95" fill="#fff" fill-opacity="0.8" stroke="#c94f58" stroke-width="1.3"/>
<circle cx="442.94" cy="230.64" r="2.95" fill="#fff" fill-opacity="0.8" stroke="#c94f58" stroke-width="1.3"/>
<circle cx="445.44" cy="230.65" r="2.95" fill="#fff" fill-opacity="0.8" stroke="#c94f58" stroke-width="1.3"/>
<circle cx="447.95" cy="230.25" r="2.95" fill="#fff" fill-opacity="0.8" stroke="#c94f58" stroke-width="1.3"/>
<circle cx="450.46" cy="230.41" r="2.95" fill="#fff" fill-opacity="0.8" stroke="#c94f58" stroke-width="1.3"/>
<circle cx="452.96" cy="230.33" r="2.95" fill="#fff" fill-opacity="0.8" stroke="#c94f58" stroke-width="1.3"/>
<circle cx="455.47" cy="229.87" r="2.95" fill="#fff" fill-opacity="0.8" stroke="#c94f58" stroke-width="1.3"/>
<circle cx="457.98" cy="231.06" r="2.95" fill="#fff" fill-opacity="0.8" stroke="#c94f58" stroke-width="1.3"/>
<circle cx="460.48" cy="230.98" r="2.95" fill="#fff" fill-opacity="0.8" stroke="#c94f58" stroke-width="1.3"/>
<circle cx="462.99" cy="230.87" r="2.95" fill="#fff" fill-opacity="0.8" stroke="#c94f58" stroke-width="1.3"/>
<circle cx="465.50" cy="230.87" r="2.95" fill="#fff" fill-opacity="0.8" stroke="#c94f58" stroke-width="1.3"/>
<circle cx="468.00" cy="230.95" r="2.95" fill="#fff" fill-opacity="0.8" stroke="#c94f58" stroke-width="1.3"/>
<circle cx="470.51" cy="229.56" r="2.95" fill="#fff" fill-opacity="0.8" stroke="#c94f58" stroke-width="1.3"/>
<circle cx="473.02" cy="229.75" r="2.95" fill="#fff" fill-opacity="0.8" stroke="#c94f58" stroke-width="1.3"/>
<circle cx="475.53" cy="230.93" r="2.95" fill="#fff" fill-opacity="0.8" stroke="#c94f58" stroke-width="1.3"/>
<circle cx="478.03" cy="230.29" r="2.95" fill="#fff" fill-opacity="0.8" stroke="#c94f58" stroke-width="1.3"/>
<circle cx="480.54" cy="230.57" r="2.95" fill="#fff" fill-opacity="0.8" stroke="#c94f58" stroke-width="1.3"/>
<circle cx="483.05" cy="230.58" r="2.95" fill="#fff" fill-opacity="0.8" stroke="#c94f58" stroke-width="1.3"/>
<circle cx="485.55" cy="230.52" r="2.95" fill="#fff" fill-opacity="0.8" stroke="#c94f58" stroke-width="1.3"/>
<circle cx="488.06" cy="230.07" r="2.95" fill="#fff" fill-opacity="0.8" stroke="#c94f58" stroke-width="1.3"/>
<circle cx="490.57" cy="230.16" r="2.95" fill="#fff" fill-opacity="0.8" stroke="#c94f58" stroke-width="1.3"/>
<circle cx="493.07" cy="230.51" r="2.95" fill="#fff" fill-opacity="0.8" stroke="#c94f58" stroke-width="1.3"/>
<circle cx="495.58" cy="230.77" r="2.95" fill="#fff" fill-opacity="0.8" stroke="#c94f58" stroke-width="1.3"/>
<circle cx="498.09" cy="230.55" r="2.95" fill="#fff" fill-opacity="0.8" stroke="#c94f58" stroke-width="1.3"/>
<circle cx="500.59" cy="230.53" r="2.95" fill="#fff" fill-opacity="0.8" stroke="#c94f58" stroke-width="1.3"/>
<circle cx="503.10" cy="229.53" r="2.95" fill="#fff" fill-opacity="0.8" stroke="#c94f58" stroke-width="1.3"/>
<circle cx="505.61" cy="228.95" r="2.95" fill="#fff" fill-opacity="0.8" stroke="#c94f58" stroke-width="1.3"/>
<circle cx="508.12" cy="229.13" r="2.95" fill="#fff" fill-opacity="0.8" stroke="#c94f58" stroke-width="1.3"/>
<circle cx="510.62" cy="229.26" r="2.95" fill="#fff" fill-opacity="0.8" stroke="#c94f58" stroke-width="1.3"/>
<circle cx="513.13" cy="228.77" r="2.95" fill="#fff" fill-opacity="0.8" stroke="#c94f58" stroke-width="1.3"/>
<circle cx="515.64" cy="228.13" r="2.95" fill="#fff" fill-opacity="0.8" stroke="#c94f58" stroke-width="1.3"/>
<circle cx="518.14" cy="227.44" r="2.95" fill="#fff" fill-opacity="0.8" stroke="#c94f58" stroke-width="1.3"/>
<circle cx="520.65" cy="228.42" r="2.95" fill="#fff" fill-opacity="0.8" stroke="#c94f58" stroke-width="1.3"/>
<circle cx="523.16" cy="230.28" r="2.95" fill="#fff" fill-opacity="0.8" stroke="#c94f58" stroke-width="1.3"/>
<circle cx="525.66" cy="229.28" r="2.95" fill="#fff" fill-opacity="0.8" stroke="#c94f58" stroke-width="1.3"/>
<circle cx="528.17" cy="229.19" r="2.95" fill="#fff" fill-opacity="0.8" stroke="#c94f58" stroke-width="1.3"/>
<circle cx="530.68" cy="229.13" r="2.95" fill="#fff" fill-opacity="0.8" stroke="#c94f58" stroke-width="1.3"/>
<circle cx="533.18" cy="228.86" r="2.95" fill="#fff" fill-opacity="0.8" stroke="#c94f58" stroke-width="1.3"/>
<circle cx="535.69" cy="228.31" r="2.95" fill="#fff" fill-opacity="0.8" stroke="#c94f58" stroke-width="1.3"/>
<circle cx="538.20" cy="227.63" r="2.95" fill="#fff" fill-opacity="0.8" stroke="#c94f58" stroke-width="1.3"/>
<circle cx="540.70" cy="227.70" r="2.95" fill="#fff" fill-opacity="0.8" stroke="#c94f58" stroke-width="1.3"/>
<circle cx="543.21" cy="226.92" r="2.95" fill="#fff" fill-opacity="0.8" stroke="#c94f58" stroke-width="1.3"/>
<circle cx="545.72" cy="228.72" r="2.95" fill="#fff" fill-opacity="0.8" stroke="#c94f58" stroke-width="1.3"/>
<circle cx="548.23" cy="230.49" r="2.95" fill="#fff" fill-opacity="0.8" stroke="#c94f58" stroke-width="1.3"/>
<circle cx="550.73" cy="230.12" r="2.95" fill="#fff" fill-opacity="0.8" stroke="#c94f58" stroke-width="1.3"/>
<circle cx="553.24" cy="229.95" r="2.95" fill="#fff" fill-opacity="0.8" stroke="#c94f58" stroke-width="1.3"/>
<circle cx="555.75" cy="230.99" r="2.95" fill="#fff" fill-opacity="0.8" stroke="#c94f58" stroke-width="1.3"/>
<circle cx="558.25" cy="230.52" r="2.95" fill="#fff" fill-opacity="0.8" stroke="#c94f58" stroke-width="1.3"/>
<circle cx="560.76" cy="230.60" r="2.95" fill="#fff" fill-opacity="0.8" stroke="#c94f58" stroke-width="1.3"/>
<circle cx="563.27" cy="229.98" r="2.95" fill="#fff" fill-opacity="0.8" stroke="#c94f58" stroke-width="1.3"/>
<circle cx="565.77" cy="229.97" r="2.95" fill="#fff" fill-opacity="0.8" stroke="#c94f58" stroke-width="1.3"/>
<circle cx="568.28" cy="230.91" r="2.95" fill="#fff" fill-opacity="0.8" stroke="#c94f58" stroke-width="1.3"/>
<circle cx="570.79" cy="230.18" r="2.95" fill="#fff" fill-opacity="0.8" stroke="#c94f58" stroke-width="1.3"/>
<circle cx="573.29" cy="230.42" r="2.95" fill="#fff" fill-opacity="0.8" stroke="#c94f58" stroke-width="1.3"/>
<circle cx="575.80" cy="231.31" r="2.95" fill="#fff" fill-opacity="0.8" stroke="#c94f58" stroke-width="1.3"/>
<circle cx="578.31" cy="231.08" r="2.95" fill="#fff" fill-opacity="0.8" stroke="#c94f58" stroke-width="1.3"/>
<circle cx="580.81" cy="231.68" r="2.95" fill="#fff" fill-opacity="0.8" stroke="#c94f58" stroke-width="1.3"/>
<circle cx="583.32" cy="230.69" r="2.95" fill="#fff" fill-opacity="0.8" stroke="#c94f58" stroke-width="1.3"/>
<circle cx="585.83" cy="231.00" r="2.95" fill="#fff" fill-opacity="0.8" stroke="#c94f58" stroke-width="1.3"/>
<circle cx="588.34" cy="230.73" r="2.95" fill="#fff" fill-opacity="0.8" stroke="#c94f58" stroke-width="1.3"/>
<circle cx="590.84" cy="230.96" r="2.95" fill="#fff" fill-opacity="0.8" stroke="#c94f58" stroke-width="1.3"/>
<circle cx="593.35" cy="231.23" r="2.95" fill="#fff" fill-opacity="0.8" stroke="#c94f58" stroke-width="1.3"/>
<circle cx="595.86" cy="231.20" r="2.95" fill="#fff" fill-opacity="0.8" stroke="#c94f58" stroke-width="1.3"/>
<circle cx="598.36" cy="231.54" r="2.95" fill="#fff" fill-opacity="0.8" stroke="#c94f58" stroke-width="1.3"/>
<circle cx="600.87" cy="232.24" r="2.95" fill="#fff" fill-opacity="0.8" stroke="#c94f58" stroke-width="1.3"/>
<circle cx="603.38" cy="231.48" r="2.95" fill="#fff" fill-opacity="0.8" stroke="#c94f58" stroke-width="1.3"/>
<circle cx="605.88" cy="232.37" r="2.95" fill="#fff" fill-opacity="0.8" stroke="#c94f58" stroke-width="1.3"/>
<circle cx="608.39" cy="232.15" r="2.95" fill="#fff" fill-opacity="0.8" stroke="#c94f58" stroke-width="1.3"/>
<circle cx="610.90" cy="231.17" r="2.95" fill="#fff" fill-opacity="0.8" stroke="#c94f58" stroke-width="1.3"/>
<circle cx="613.40" cy="232.28" r="2.95" fill="#fff" fill-opacity="0.8" stroke="#c94f58" stroke-width="1.3"/>
<circle cx="615.91" cy="232.20" r="2.95" fill="#fff" fill-opacity="0.8" stroke="#c94f58" stroke-width="1.3"/>
<circle cx="618.42" cy="232.17" r="2.95" fill="#fff" fill-opacity="0.8" stroke="#c94f58" stroke-width="1.3"/>
<circle cx="620.92" cy="230.97" r="2.95" fill="#fff" fill-opacity="0.8" stroke="#c94f58" stroke-width="1.3"/>
<circle cx="623.43" cy="232.03" r="2.95" fill="#fff" fill-opacity="0.8" stroke="#c94f58" stroke-width="1.3"/>
<circle cx="625.94" cy="232.26" r="2.95" fill="#fff" fill-opacity="0.8" stroke="#c94f58" stroke-width="1.3"/>
<circle cx="628.45" cy="231.00" r="2.95" fill="#fff" fill-opacity="0.8" stroke="#c94f58" stroke-width="1.3"/>
<circle cx="630.95" cy="232.09" r="2.95" fill="#fff" fill-opacity="0.8" stroke="#c94f58" stroke-width="1.3"/>
<circle cx="633.46" cy="230.97" r="2.95" fill="#fff" fill-opacity="0.8" stroke="#c94f58" stroke-width="1.3"/>
<circle cx="635.97" cy="231.23" r="2.95" fill="#fff" fill-opacity="0.8" stroke="#c94f58" stroke-width="1.3"/>
<circle cx="638.47" cy="230.97" r="2.95" fill="#fff" fill-opacity="0.8" stroke="#c94f58" stroke-width="1.3"/>
<circle cx="640.98" cy="230.78" r="2.95" fill="#fff" fill-opacity="0.8" stroke="#c94f58" stroke-width="1.3"/>
<circle cx="643.49" cy="231.34" r="2.95" fill="#fff" fill-opacity="0.8" stroke="#c94f58" stroke-width="1.3"/>
<circle cx="645.99" cy="230.99" r="2.95" fill="#fff" fill-opacity="0.8" stroke="#c94f58" stroke-width="1.3"/>
<circle cx="648.50" cy="232.16" r="2.95" fill="#fff" fill-opacity="0.8" stroke="#c94f58" stroke-width="1.3"/>
<line x1="247.4" y1="220.0" x2="648.5" y2="220.0" stroke="#111" stroke-width="1.5"/>
<line x1="247.4" y1="345.3" x2="648.5" y2="345.3" stroke="#111" stroke-width="1.5"/>
<line x1="247.4" y1="220.0" x2="247.4" y2="345.3" stroke="#5ba8c6" stroke-width="1.5"/>
<line x1="648.5" y1="220.0" x2="648.5" y2="345.3" stroke="#cd5c5c" stroke-width="1.5"/>
<line x1="244.4" y1="345.30" x2="247.4" y2="345.30" stroke="#5ba8c6" stroke-width="1"/>
<text x="242.90" y="349.10" font-size="10.5" fill="#5ba8c6" text-anchor="end" font-weight="normal" >0</text>
<line x1="244.4" y1="315.70" x2="247.4" y2="315.70" stroke="#5ba8c6" stroke-width="1"/>
<text x="242.90" y="319.50" font-size="10.5" fill="#5ba8c6" text-anchor="end" font-weight="normal" >1500</text>
<line x1="244.4" y1="286.10" x2="247.4" y2="286.10" stroke="#5ba8c6" stroke-width="1"/>
<text x="242.90" y="289.90" font-size="10.5" fill="#5ba8c6" text-anchor="end" font-weight="normal" >3000</text>
<line x1="244.4" y1="256.50" x2="247.4" y2="256.50" stroke="#5ba8c6" stroke-width="1"/>
<text x="242.90" y="260.30" font-size="10.5" fill="#5ba8c6" text-anchor="end" font-weight="normal" >4500</text>
<line x1="244.4" y1="226.90" x2="247.4" y2="226.90" stroke="#5ba8c6" stroke-width="1"/>
<text x="242.90" y="230.70" font-size="10.5" fill="#5ba8c6" text-anchor="end" font-weight="normal" >6000</text>
<line x1="245.6" y1="330.50" x2="247.4" y2="330.50" stroke="#5ba8c6" stroke-width="0.8"/>
<line x1="245.6" y1="300.90" x2="247.4" y2="300.90" stroke="#5ba8c6" stroke-width="0.8"/>
<line x1="245.6" y1="271.30" x2="247.4" y2="271.30" stroke="#5ba8c6" stroke-width="0.8"/>
<line x1="245.6" y1="241.70" x2="247.4" y2="241.70" stroke="#5ba8c6" stroke-width="0.8"/>
<line x1="648.5" y1="345.30" x2="651.5" y2="345.30" stroke="#cd5c5c" stroke-width="1"/>
<text x="653.00" y="349.10" font-size="10.5" fill="#cd5c5c" text-anchor="start" font-weight="normal" >40</text>
<line x1="648.5" y1="306.90" x2="651.5" y2="306.90" stroke="#cd5c5c" stroke-width="1"/>
<text x="653.00" y="310.70" font-size="10.5" fill="#cd5c5c" text-anchor="start" font-weight="normal" >60</text>
<line x1="648.5" y1="268.50" x2="651.5" y2="268.50" stroke="#cd5c5c" stroke-width="1"/>
<text x="653.00" y="272.30" font-size="10.5" fill="#cd5c5c" text-anchor="start" font-weight="normal" >80</text>
<line x1="648.5" y1="230.10" x2="651.5" y2="230.10" stroke="#cd5c5c" stroke-width="1"/>
<text x="653.00" y="233.90" font-size="10.5" fill="#cd5c5c" text-anchor="start" font-weight="normal" >100</text>
<line x1="648.5" y1="326.10" x2="650.3" y2="326.10" stroke="#cd5c5c" stroke-width="0.8"/>
<line x1="648.5" y1="287.70" x2="650.3" y2="287.70" stroke="#cd5c5c" stroke-width="0.8"/>
<line x1="648.5" y1="249.30" x2="650.3" y2="249.30" stroke="#cd5c5c" stroke-width="0.8"/>
<line x1="247.40" y1="345.3" x2="247.40" y2="348.3" stroke="#111" stroke-width="1.2"/>
<text x="247.40" y="358.50" font-size="10.5" fill="#222" text-anchor="middle" font-weight="normal" >0</text>
<line x1="297.54" y1="345.3" x2="297.54" y2="348.3" stroke="#111" stroke-width="1.2"/>
<text x="297.54" y="358.50" font-size="10.5" fill="#222" text-anchor="middle" font-weight="normal" >20</text>
<line x1="347.68" y1="345.3" x2="347.68" y2="348.3" stroke="#111" stroke-width="1.2"/>
<text x="347.68" y="358.50" font-size="10.5" fill="#222" text-anchor="middle" font-weight="normal" >40</text>
<line x1="397.81" y1="345.3" x2="397.81" y2="348.3" stroke="#111" stroke-width="1.2"/>
<text x="397.81" y="358.50" font-size="10.5" fill="#222" text-anchor="middle" font-weight="normal" >60</text>
<line x1="447.95" y1="345.3" x2="447.95" y2="348.3" stroke="#111" stroke-width="1.2"/>
<text x="447.95" y="358.50" font-size="10.5" fill="#222" text-anchor="middle" font-weight="normal" >80</text>
<line x1="498.09" y1="345.3" x2="498.09" y2="348.3" stroke="#111" stroke-width="1.2"/>
<text x="498.09" y="358.50" font-size="10.5" fill="#222" text-anchor="middle" font-weight="normal" >100</text>
<line x1="548.23" y1="345.3" x2="548.23" y2="348.3" stroke="#111" stroke-width="1.2"/>
<text x="548.23" y="358.50" font-size="10.5" fill="#222" text-anchor="middle" font-weight="normal" >120</text>
<line x1="598.36" y1="345.3" x2="598.36" y2="348.3" stroke="#111" stroke-width="1.2"/>
<text x="598.36" y="358.50" font-size="10.5" fill="#222" text-anchor="middle" font-weight="normal" >140</text>
<line x1="648.50" y1="345.3" x2="648.50" y2="348.3" stroke="#111" stroke-width="1.2"/>
<text x="648.50" y="358.50" font-size="10.5" fill="#222" text-anchor="middle" font-weight="normal" >160</text>
<line x1="272.47" y1="345.3" x2="272.47" y2="346.90000000000003" stroke="#111" stroke-width="0.8"/>
<line x1="322.61" y1="345.3" x2="322.61" y2="346.90000000000003" stroke="#111" stroke-width="0.8"/>
<line x1="372.74" y1="345.3" x2="372.74" y2="346.90000000000003" stroke="#111" stroke-width="0.8"/>
<line x1="422.88" y1="345.3" x2="422.88" y2="346.90000000000003" stroke="#111" stroke-width="0.8"/>
<line x1="473.02" y1="345.3" x2="473.02" y2="346.90000000000003" stroke="#111" stroke-width="0.8"/>
<line x1="523.16" y1="345.3" x2="523.16" y2="346.90000000000003" stroke="#111" stroke-width="0.8"/>
<line x1="573.29" y1="345.3" x2="573.29" y2="346.90000000000003" stroke="#111" stroke-width="0.8"/>
<line x1="623.43" y1="345.3" x2="623.43" y2="346.90000000000003" stroke="#111" stroke-width="0.8"/>
<text x="448.00" y="371.50" font-size="11" fill="#222" text-anchor="middle" font-weight="normal" >Cycle number</text>
<text x="216.50" y="283.00" font-size="11" fill="#5ba8c6" text-anchor="middle" font-weight="normal" transform="rotate(-90 216.5 283)">Areal capacity (µAh cm<tspan dy="-4" font-size="7.5">-2</tspan><tspan dy="4">)</tspan></text>
<text x="672.00" y="283.00" font-size="11" fill="#cd5c5c" text-anchor="middle" font-weight="normal" transform="rotate(90 672 283)">Coulombic efficiency (%)</text>
<text x="206.60" y="219.50" font-size="12.8" fill="#000" text-anchor="start" font-weight="bold" >d</text>
<rect x="296.53" y="243.4" width="12.79" height="12.799999999999983" fill="none" stroke="#8cc6d4" stroke-width="0.8" stroke-dasharray="2.2 1.4"/>
<line x1="296.53" y1="256.2" x2="273.0" y2="276.4" stroke="#8cc6d4" stroke-width="0.8" stroke-dasharray="2.2 1.4"/>
<line x1="309.32" y1="256.2" x2="351.6" y2="276.4" stroke="#8cc6d4" stroke-width="0.8" stroke-dasharray="2.2 1.4"/>
<rect x="273.0" y="276.4" width="78.60" height="49.00" fill="#fff" stroke="#222" stroke-width="1.1"/>
<line x1="271.0" y1="325.40" x2="273.0" y2="325.40" stroke="#222" stroke-width="0.7"/>
<text x="270.40" y="327.70" font-size="6.3" fill="#222" text-anchor="end" font-weight="normal" >0.0</text>
<line x1="271.0" y1="309.73" x2="273.0" y2="309.73" stroke="#222" stroke-width="0.7"/>
<text x="270.40" y="312.03" font-size="6.3" fill="#222" text-anchor="end" font-weight="normal" >0.8</text>
<line x1="271.0" y1="294.07" x2="273.0" y2="294.07" stroke="#222" stroke-width="0.7"/>
<text x="270.40" y="296.37" font-size="6.3" fill="#222" text-anchor="end" font-weight="normal" >1.6</text>
<line x1="271.0" y1="278.40" x2="273.0" y2="278.40" stroke="#222" stroke-width="0.7"/>
<text x="270.40" y="280.70" font-size="6.3" fill="#222" text-anchor="end" font-weight="normal" >2.4</text>
<line x1="271.8" y1="317.57" x2="273.0" y2="317.57" stroke="#222" stroke-width="0.6"/>
<line x1="271.8" y1="301.90" x2="273.0" y2="301.90" stroke="#222" stroke-width="0.6"/>
<line x1="271.8" y1="286.23" x2="273.0" y2="286.23" stroke="#222" stroke-width="0.6"/>
<line x1="273.00" y1="325.4" x2="273.00" y2="327.4" stroke="#222" stroke-width="0.7"/>
<text x="273.00" y="333.40" font-size="5.8" fill="#222" text-anchor="middle" font-weight="normal" >0</text>
<line x1="297.11" y1="325.4" x2="297.11" y2="327.4" stroke="#222" stroke-width="0.7"/>
<text x="297.11" y="333.40" font-size="5.8" fill="#222" text-anchor="middle" font-weight="normal" >1500</text>
<line x1="321.22" y1="325.4" x2="321.22" y2="327.4" stroke="#222" stroke-width="0.7"/>
<text x="321.22" y="333.40" font-size="5.8" fill="#222" text-anchor="middle" font-weight="normal" >3000</text>
<line x1="345.33" y1="325.4" x2="345.33" y2="327.4" stroke="#222" stroke-width="0.7"/>
<text x="345.33" y="333.40" font-size="5.8" fill="#222" text-anchor="middle" font-weight="normal" >4500</text>
<line x1="285.06" y1="325.4" x2="285.06" y2="326.59999999999997" stroke="#222" stroke-width="0.6"/>
<line x1="309.17" y1="325.4" x2="309.17" y2="326.59999999999997" stroke="#222" stroke-width="0.6"/>
<line x1="333.28" y1="325.4" x2="333.28" y2="326.59999999999997" stroke="#222" stroke-width="0.6"/>
<text x="312.30" y="339.40" font-size="6.3" fill="#222" text-anchor="middle" font-weight="normal" >Areal capacity (µAh cm<tspan dy="-2.5" font-size="4.5">-2</tspan><tspan dy="2.5">)</tspan></text>
<text x="258.20" y="300.90" font-size="6.3" fill="#222" text-anchor="middle" font-weight="normal" transform="rotate(-90 258.2 300.9)">Voltage (V)</text>
<text x="276.50" y="285.40" font-size="6.3" fill="#222" text-anchor="start" font-weight="normal" >20<tspan dy="-2.5" font-size="4">th</tspan><tspan dy="2.5"> to 22</tspan><tspan dy="-2.5" font-size="4">th</tspan><tspan dy="2.5"> cycle</tspan></text>
<path d="M273.00 308.56 C275.41 308.23 282.91 307.45 287.47 306.60 C292.02 305.75 296.84 304.58 300.33 303.47 C303.81 302.36 306.22 301.35 308.36 299.94 C310.51 298.54 311.58 296.35 313.18 295.05 C314.79 293.74 315.86 292.86 318.01 292.11 C320.15 291.36 322.83 291.06 326.04 290.54 C329.26 290.02 334.08 289.63 337.29 288.97 C340.51 288.32 343.32 287.47 345.33 286.62 C347.34 285.78 348.68 284.34 349.35 283.88" fill="none" stroke="#f0b08a" stroke-width="1.5"/>
<path d="M273.00 308.56 C275.41 308.23 282.91 307.45 287.47 306.60 C292.02 305.75 296.84 304.58 300.33 303.47 C303.81 302.36 306.22 301.35 308.36 299.94 C310.51 298.54 311.58 296.35 313.18 295.05 C314.79 293.74 315.86 292.86 318.01 292.11 C320.15 291.36 322.83 291.06 326.04 290.54 C329.26 290.02 334.08 289.63 337.29 288.97 C340.51 288.32 343.32 287.47 345.33 286.62 C347.34 285.78 348.68 284.34 349.35 283.88" fill="none" stroke="#8298bc" stroke-width="0.5"/>
<path d="M273.00 296.61 C275.14 296.91 281.84 297.66 285.86 298.38 C289.88 299.09 294.30 300.07 297.11 300.92 C299.92 301.77 301.26 301.93 302.74 303.47 C304.21 305.00 304.48 308.69 305.95 310.12 C307.42 311.56 308.23 311.50 311.58 312.08 C314.93 312.67 321.49 313.06 326.04 313.65 C330.60 314.24 335.55 314.89 338.90 315.61 C342.25 316.33 344.47 316.88 346.13 317.96 C347.80 319.04 348.41 321.39 348.87 322.07" fill="none" stroke="#f0b08a" stroke-width="1.5"/>
<path d="M273.00 296.61 C275.14 296.91 281.84 297.66 285.86 298.38 C289.88 299.09 294.30 300.07 297.11 300.92 C299.92 301.77 301.26 301.93 302.74 303.47 C304.21 305.00 304.48 308.69 305.95 310.12 C307.42 311.56 308.23 311.50 311.58 312.08 C314.93 312.67 321.49 313.06 326.04 313.65 C330.60 314.24 335.55 314.89 338.90 315.61 C342.25 316.33 344.47 316.88 346.13 317.96 C347.80 319.04 348.41 321.39 348.87 322.07" fill="none" stroke="#8298bc" stroke-width="0.5"/>
<rect x="448.70" y="257.0" width="12.28" height="15.5" fill="none" stroke="#8cc6d4" stroke-width="0.8" stroke-dasharray="2.2 1.4"/>
<line x1="448.70" y1="272.5" x2="411.9" y2="278.3" stroke="#8cc6d4" stroke-width="0.8" stroke-dasharray="2.2 1.4"/>
<line x1="460.99" y1="272.5" x2="491.3" y2="278.3" stroke="#8cc6d4" stroke-width="0.8" stroke-dasharray="2.2 1.4"/>
<rect x="411.9" y="278.3" width="79.40" height="49.20" fill="#fff" stroke="#222" stroke-width="1.1"/>
<line x1="409.9" y1="327.50" x2="411.9" y2="327.50" stroke="#222" stroke-width="0.7"/>
<text x="409.30" y="329.80" font-size="6.3" fill="#222" text-anchor="end" font-weight="normal" >0.0</text>
<line x1="409.9" y1="311.77" x2="411.9" y2="311.77" stroke="#222" stroke-width="0.7"/>
<text x="409.30" y="314.07" font-size="6.3" fill="#222" text-anchor="end" font-weight="normal" >0.8</text>
<line x1="409.9" y1="296.03" x2="411.9" y2="296.03" stroke="#222" stroke-width="0.7"/>
<text x="409.30" y="298.33" font-size="6.3" fill="#222" text-anchor="end" font-weight="normal" >1.6</text>
<line x1="409.9" y1="280.30" x2="411.9" y2="280.30" stroke="#222" stroke-width="0.7"/>
<text x="409.30" y="282.60" font-size="6.3" fill="#222" text-anchor="end" font-weight="normal" >2.4</text>
<line x1="410.7" y1="319.63" x2="411.9" y2="319.63" stroke="#222" stroke-width="0.6"/>
<line x1="410.7" y1="303.90" x2="411.9" y2="303.90" stroke="#222" stroke-width="0.6"/>
<line x1="410.7" y1="288.17" x2="411.9" y2="288.17" stroke="#222" stroke-width="0.6"/>
<line x1="411.90" y1="327.5" x2="411.90" y2="329.5" stroke="#222" stroke-width="0.7"/>
<text x="411.90" y="335.50" font-size="5.8" fill="#222" text-anchor="middle" font-weight="normal" >0</text>
<line x1="438.37" y1="327.5" x2="438.37" y2="329.5" stroke="#222" stroke-width="0.7"/>
<text x="438.37" y="335.50" font-size="5.8" fill="#222" text-anchor="middle" font-weight="normal" >1500</text>
<line x1="464.83" y1="327.5" x2="464.83" y2="329.5" stroke="#222" stroke-width="0.7"/>
<text x="464.83" y="335.50" font-size="5.8" fill="#222" text-anchor="middle" font-weight="normal" >3000</text>
<line x1="491.30" y1="327.5" x2="491.30" y2="329.5" stroke="#222" stroke-width="0.7"/>
<text x="491.30" y="335.50" font-size="5.8" fill="#222" text-anchor="middle" font-weight="normal" >4500</text>
<line x1="425.13" y1="327.5" x2="425.13" y2="328.7" stroke="#222" stroke-width="0.6"/>
<line x1="451.60" y1="327.5" x2="451.60" y2="328.7" stroke="#222" stroke-width="0.6"/>
<line x1="478.07" y1="327.5" x2="478.07" y2="328.7" stroke="#222" stroke-width="0.6"/>
<text x="451.60" y="341.50" font-size="6.3" fill="#222" text-anchor="middle" font-weight="normal" >Areal capacity (µAh cm<tspan dy="-2.5" font-size="4.5">-2</tspan><tspan dy="2.5">)</tspan></text>
<text x="397.10" y="302.90" font-size="6.3" fill="#222" text-anchor="middle" font-weight="normal" transform="rotate(-90 397.09999999999997 302.9)">Voltage (V)</text>
<text x="415.40" y="287.30" font-size="6.3" fill="#222" text-anchor="start" font-weight="normal" >80<tspan dy="-2.5" font-size="4">th</tspan><tspan dy="2.5"> to 82</tspan><tspan dy="-2.5" font-size="4">th</tspan><tspan dy="2.5"> cycle</tspan></text>
<path d="M411.90 309.41 C414.08 308.82 420.72 307.01 424.96 305.87 C429.19 304.72 434.37 304.56 437.31 302.52 C440.25 300.49 440.85 295.48 442.60 293.67 C444.35 291.87 443.44 292.17 447.81 291.71 C452.17 291.25 463.83 291.35 468.80 290.92 C473.77 290.49 475.14 290.03 477.63 289.15 C480.11 288.26 482.70 286.20 483.71 285.61" fill="none" stroke="#f0b08a" stroke-width="1.5"/>
<path d="M411.90 309.41 C414.08 308.82 420.72 307.01 424.96 305.87 C429.19 304.72 434.37 304.56 437.31 302.52 C440.25 300.49 440.85 295.48 442.60 293.67 C444.35 291.87 443.44 292.17 447.81 291.71 C452.17 291.25 463.83 291.35 468.80 290.92 C473.77 290.49 475.14 290.03 477.63 289.15 C480.11 288.26 482.70 286.20 483.71 285.61" fill="none" stroke="#8298bc" stroke-width="0.5"/>
<path d="M411.90 299.38 C414.08 299.64 419.84 300.29 424.96 300.95 C430.07 301.61 438.63 302.49 442.60 303.31 C446.57 304.13 447.16 304.13 448.78 305.87 C450.39 307.60 450.42 312.19 452.31 313.73 C454.19 315.27 456.44 314.52 460.07 315.11 C463.70 315.70 470.74 316.45 474.10 317.27 C477.45 318.09 478.71 318.98 480.18 320.03 C481.65 321.08 482.46 322.98 482.92 323.57" fill="none" stroke="#f0b08a" stroke-width="1.5"/>
<path d="M411.90 299.38 C414.08 299.64 419.84 300.29 424.96 300.95 C430.07 301.61 438.63 302.49 442.60 303.31 C446.57 304.13 447.16 304.13 448.78 305.87 C450.39 307.60 450.42 312.19 452.31 313.73 C454.19 315.27 456.44 314.52 460.07 315.11 C463.70 315.70 470.74 316.45 474.10 317.27 C477.45 318.09 478.71 318.98 480.18 320.03 C481.65 321.08 482.46 322.98 482.92 323.57" fill="none" stroke="#8298bc" stroke-width="0.5"/>
<rect x="549.48" y="256.1" width="14.29" height="14.899999999999977" fill="none" stroke="#8cc6d4" stroke-width="0.8" stroke-dasharray="2.2 1.4"/>
<line x1="549.48" y1="271.0" x2="544.5" y2="276.3" stroke="#8cc6d4" stroke-width="0.8" stroke-dasharray="2.2 1.4"/>
<line x1="563.77" y1="271.0" x2="623.4" y2="276.3" stroke="#8cc6d4" stroke-width="0.8" stroke-dasharray="2.2 1.4"/>
<rect x="544.5" y="276.3" width="78.90" height="49.00" fill="#fff" stroke="#222" stroke-width="1.1"/>
<line x1="542.5" y1="325.30" x2="544.5" y2="325.30" stroke="#222" stroke-width="0.7"/>
<text x="541.90" y="327.60" font-size="6.3" fill="#222" text-anchor="end" font-weight="normal" >0.0</text>
<line x1="542.5" y1="309.63" x2="544.5" y2="309.63" stroke="#222" stroke-width="0.7"/>
<text x="541.90" y="311.93" font-size="6.3" fill="#222" text-anchor="end" font-weight="normal" >0.8</text>
<line x1="542.5" y1="293.97" x2="544.5" y2="293.97" stroke="#222" stroke-width="0.7"/>
<text x="541.90" y="296.27" font-size="6.3" fill="#222" text-anchor="end" font-weight="normal" >1.6</text>
<line x1="542.5" y1="278.30" x2="544.5" y2="278.30" stroke="#222" stroke-width="0.7"/>
<text x="541.90" y="280.60" font-size="6.3" fill="#222" text-anchor="end" font-weight="normal" >2.4</text>
<line x1="543.3" y1="317.47" x2="544.5" y2="317.47" stroke="#222" stroke-width="0.6"/>
<line x1="543.3" y1="301.80" x2="544.5" y2="301.80" stroke="#222" stroke-width="0.6"/>
<line x1="543.3" y1="286.13" x2="544.5" y2="286.13" stroke="#222" stroke-width="0.6"/>
<line x1="544.50" y1="325.3" x2="544.50" y2="327.3" stroke="#222" stroke-width="0.7"/>
<text x="544.50" y="333.30" font-size="5.8" fill="#222" text-anchor="middle" font-weight="normal" >0</text>
<line x1="570.80" y1="325.3" x2="570.80" y2="327.3" stroke="#222" stroke-width="0.7"/>
<text x="570.80" y="333.30" font-size="5.8" fill="#222" text-anchor="middle" font-weight="normal" >1500</text>
<line x1="597.10" y1="325.3" x2="597.10" y2="327.3" stroke="#222" stroke-width="0.7"/>
<text x="597.10" y="333.30" font-size="5.8" fill="#222" text-anchor="middle" font-weight="normal" >3000</text>
<line x1="623.40" y1="325.3" x2="623.40" y2="327.3" stroke="#222" stroke-width="0.7"/>
<text x="623.40" y="333.30" font-size="5.8" fill="#222" text-anchor="middle" font-weight="normal" >4500</text>
<line x1="557.65" y1="325.3" x2="557.65" y2="326.5" stroke="#222" stroke-width="0.6"/>
<line x1="583.95" y1="325.3" x2="583.95" y2="326.5" stroke="#222" stroke-width="0.6"/>
<line x1="610.25" y1="325.3" x2="610.25" y2="326.5" stroke="#222" stroke-width="0.6"/>
<text x="583.95" y="339.30" font-size="6.3" fill="#222" text-anchor="middle" font-weight="normal" >Areal capacity (µAh cm<tspan dy="-2.5" font-size="4.5">-2</tspan><tspan dy="2.5">)</tspan></text>
<text x="529.70" y="300.80" font-size="6.3" fill="#222" text-anchor="middle" font-weight="normal" transform="rotate(-90 529.7 300.8)">Voltage (V)</text>
<text x="548.00" y="285.30" font-size="6.3" fill="#222" text-anchor="start" font-weight="normal" >120<tspan dy="-2.5" font-size="4">th</tspan><tspan dy="2.5"> to 122</tspan><tspan dy="-2.5" font-size="4">th</tspan><tspan dy="2.5"> cycle</tspan></text>
<path d="M544.50 307.09 C547.71 306.37 559.11 303.95 563.79 302.78 C568.46 301.60 570.22 301.80 572.55 300.04 C574.89 298.28 576.06 293.74 577.81 292.20 C579.57 290.67 578.98 291.42 583.07 290.83 C587.16 290.25 597.68 289.46 602.36 288.68 C607.04 287.90 609.08 286.85 611.13 286.13 C613.17 285.42 614.05 284.66 614.63 284.37" fill="none" stroke="#f0b08a" stroke-width="1.5"/>
<path d="M544.50 307.09 C547.71 306.37 559.11 303.95 563.79 302.78 C568.46 301.60 570.22 301.80 572.55 300.04 C574.89 298.28 576.06 293.74 577.81 292.20 C579.57 290.67 578.98 291.42 583.07 290.83 C587.16 290.25 597.68 289.46 602.36 288.68 C607.04 287.90 609.08 286.85 611.13 286.13 C613.17 285.42 614.05 284.66 614.63 284.37" fill="none" stroke="#8298bc" stroke-width="0.5"/>
<path d="M544.50 298.28 C547.71 298.57 558.82 299.45 563.79 300.04 C568.75 300.62 571.82 300.76 574.31 301.80 C576.79 302.84 577.52 304.70 578.69 306.30 C579.86 307.90 579.42 310.25 581.32 311.40 C583.22 312.54 586.29 312.44 590.09 313.16 C593.89 313.88 600.61 314.99 604.11 315.70 C607.62 316.42 609.37 316.59 611.13 317.47 C612.88 318.35 614.05 320.40 614.63 320.99" fill="none" stroke="#f0b08a" stroke-width="1.5"/>
<path d="M544.50 298.28 C547.71 298.57 558.82 299.45 563.79 300.04 C568.75 300.62 571.82 300.76 574.31 301.80 C576.79 302.84 577.52 304.70 578.69 306.30 C579.86 307.90 579.42 310.25 581.32 311.40 C583.22 312.54 586.29 312.44 590.09 313.16 C593.89 313.88 600.61 314.99 604.11 315.70 C607.62 316.42 609.37 316.59 611.13 317.47 C612.88 318.35 614.05 320.40 614.63 320.99" fill="none" stroke="#8298bc" stroke-width="0.5"/>
<rect x="60.00" y="475.8" width="197.93" height="43.50" fill="#e0a1a9"/>
<linearGradient id="eg0" x1="0" y1="0" x2="0" y2="1"><stop offset="0" stop-color="#b52a3c"/><stop offset="0.12" stop-color="#b52a3c"/><stop offset="0.42" stop-color="#db9ca6"/><stop offset="0.72" stop-color="#f2e1e5"/><stop offset="1" stop-color="#f7f2f4"/></linearGradient>
<rect x="61.00" y="505.5" width="14.5" height="13.80" fill="url(#eg0)"/>
<rect x="81.07" y="507.7" width="14.5" height="11.60" fill="url(#eg0)"/>
<rect x="101.14" y="509.1" width="14.5" height="10.20" fill="url(#eg0)"/>
<rect x="121.21" y="505.9" width="14.5" height="13.40" fill="url(#eg0)"/>
<rect x="141.28" y="508.4" width="14.5" height="10.90" fill="url(#eg0)"/>
<rect x="161.35" y="508.6" width="14.5" height="10.70" fill="url(#eg0)"/>
<rect x="181.42" y="509.0" width="14.5" height="10.30" fill="url(#eg0)"/>
<rect x="201.49" y="504.3" width="14.5" height="15.00" fill="url(#eg0)"/>
<rect x="221.56" y="507.4" width="14.5" height="11.90" fill="url(#eg0)"/>
<rect x="241.63" y="507.8" width="14.5" height="11.50" fill="url(#eg0)"/>
<rect x="259.10" y="475.8" width="79.11" height="43.50" fill="#efbdb5"/>
<linearGradient id="eg1" x1="0" y1="0" x2="0" y2="1"><stop offset="0" stop-color="#de6a55"/><stop offset="0.12" stop-color="#de6a55"/><stop offset="0.42" stop-color="#edb9b1"/><stop offset="0.72" stop-color="#f7e9e8"/><stop offset="1" stop-color="#f9f4f5"/></linearGradient>
<rect x="261.70" y="507.2" width="14.5" height="12.10" fill="url(#eg1)"/>
<rect x="281.77" y="507.2" width="14.5" height="12.10" fill="url(#eg1)"/>
<rect x="301.84" y="509.2" width="14.5" height="10.10" fill="url(#eg1)"/>
<rect x="321.91" y="509.2" width="14.5" height="10.10" fill="url(#eg1)"/>
<rect x="339.38" y="475.8" width="59.04" height="43.50" fill="#fde1d7"/>
<linearGradient id="eg2" x1="0" y1="0" x2="0" y2="1"><stop offset="0" stop-color="#f09a78"/><stop offset="0.12" stop-color="#f09a78"/><stop offset="0.42" stop-color="#f6cfc1"/><stop offset="0.72" stop-color="#f9eeec"/><stop offset="1" stop-color="#faf6f7"/></linearGradient>
<rect x="341.98" y="507.4" width="14.5" height="11.90" fill="url(#eg2)"/>
<rect x="362.05" y="507.1" width="14.5" height="12.20" fill="url(#eg2)"/>
<rect x="382.12" y="507.3" width="14.5" height="12.00" fill="url(#eg2)"/>
<rect x="399.59" y="475.8" width="38.97" height="43.50" fill="#eef5fa"/>
<linearGradient id="eg3" x1="0" y1="0" x2="0" y2="1"><stop offset="0" stop-color="#d6e8f3"/><stop offset="0.12" stop-color="#d6e8f3"/><stop offset="0.42" stop-color="#eaf2f8"/><stop offset="0.72" stop-color="#f6f8fb"/><stop offset="1" stop-color="#f9f9fc"/></linearGradient>
<rect x="402.19" y="497.0" width="14.5" height="22.30" fill="url(#eg3)"/>
<rect x="422.26" y="495.0" width="14.5" height="24.30" fill="url(#eg3)"/>
<rect x="439.73" y="475.8" width="79.11" height="43.50" fill="#d3e6f2"/>
<linearGradient id="eg4" x1="0" y1="0" x2="0" y2="1"><stop offset="0" stop-color="#80bde2"/><stop offset="0.12" stop-color="#80bde2"/><stop offset="0.42" stop-color="#c3dff0"/><stop offset="0.72" stop-color="#ebf3f9"/><stop offset="1" stop-color="#f5f8fb"/></linearGradient>
<rect x="442.33" y="506.9" width="14.5" height="12.40" fill="url(#eg4)"/>
<rect x="462.40" y="506.6" width="14.5" height="12.70" fill="url(#eg4)"/>
<rect x="482.47" y="483.4" width="14.5" height="35.90" fill="url(#eg4)"/>
<rect x="502.54" y="506.8" width="14.5" height="12.50" fill="url(#eg4)"/>
<rect x="520.01" y="475.8" width="38.97" height="43.50" fill="#b2d5ea"/>
<linearGradient id="eg5" x1="0" y1="0" x2="0" y2="1"><stop offset="0" stop-color="#3a84c0"/><stop offset="0.12" stop-color="#3a84c0"/><stop offset="0.42" stop-color="#a4c5e1"/><stop offset="0.72" stop-color="#e3ecf5"/><stop offset="1" stop-color="#f2f5fa"/></linearGradient>
<rect x="522.61" y="507.4" width="14.5" height="11.90" fill="url(#eg5)"/>
<rect x="542.68" y="506.5" width="14.5" height="12.80" fill="url(#eg5)"/>
<rect x="560.15" y="475.8" width="99.18" height="43.50" fill="#a5c1de"/>
<linearGradient id="eg6" x1="0" y1="0" x2="0" y2="1"><stop offset="0" stop-color="#1f56a0"/><stop offset="0.12" stop-color="#1f56a0"/><stop offset="0.42" stop-color="#97b0d3"/><stop offset="0.72" stop-color="#e0e6f1"/><stop offset="1" stop-color="#f1f3f8"/></linearGradient>
<rect x="562.75" y="506.6" width="14.5" height="12.70" fill="url(#eg6)"/>
<rect x="582.82" y="505.9" width="14.5" height="13.40" fill="url(#eg6)"/>
<rect x="602.89" y="506.4" width="14.5" height="12.90" fill="url(#eg6)"/>
<rect x="622.96" y="480.2" width="14.5" height="39.10" fill="url(#eg6)"/>
<rect x="643.03" y="507.3" width="14.5" height="12.00" fill="url(#eg6)"/>
<rect x="663.10" y="401.8" width="14.5" height="117.50" fill="url(#gthis)"/>
<line x1="64" y1="397.9" x2="667" y2="397.9" stroke="#f01818" stroke-width="1.6" stroke-dasharray="4.2 2.6"/>
<path d="M59.5 397.9 L66.5 393.9 L64.5 397.9 L66.5 401.9 Z" fill="#f01818"/>
<polygon points="669.80,392.40 670.92,395.46 674.17,395.58 671.61,397.59 672.50,400.72 669.80,398.90 667.10,400.72 667.99,397.59 665.43,395.58 668.68,395.46" fill="#f01818"/>
<rect x="58.3" y="386.9" width="621.8000000000001" height="132.39999999999998" fill="none" stroke="#111" stroke-width="1.5"/>
<line x1="55.3" y1="509.90" x2="58.3" y2="509.90" stroke="#111" stroke-width="1"/>
<text x="53.80" y="513.80" font-size="11.0" fill="#222" text-anchor="end" font-weight="normal" >0</text>
<line x1="55.3" y1="490.30" x2="58.3" y2="490.30" stroke="#111" stroke-width="1"/>
<text x="53.80" y="494.20" font-size="11.0" fill="#222" text-anchor="end" font-weight="normal" >3000</text>
<line x1="55.3" y1="470.70" x2="58.3" y2="470.70" stroke="#111" stroke-width="1"/>
<text x="53.80" y="474.60" font-size="11.0" fill="#222" text-anchor="end" font-weight="normal" >6000</text>
<line x1="55.3" y1="451.10" x2="58.3" y2="451.10" stroke="#111" stroke-width="1"/>
<text x="53.80" y="455.00" font-size="11.0" fill="#222" text-anchor="end" font-weight="normal" >9000</text>
<line x1="55.3" y1="431.50" x2="58.3" y2="431.50" stroke="#111" stroke-width="1"/>
<text x="53.80" y="435.40" font-size="11.0" fill="#222" text-anchor="end" font-weight="normal" >12000</text>
<line x1="55.3" y1="411.90" x2="58.3" y2="411.90" stroke="#111" stroke-width="1"/>
<text x="53.80" y="415.80" font-size="11.0" fill="#222" text-anchor="end" font-weight="normal" >15000</text>
<line x1="55.3" y1="392.30" x2="58.3" y2="392.30" stroke="#111" stroke-width="1"/>
<text x="53.80" y="396.20" font-size="11.0" fill="#222" text-anchor="end" font-weight="normal" >18000</text>
<line x1="56.5" y1="519.70" x2="58.3" y2="519.70" stroke="#111" stroke-width="0.8"/>
<line x1="56.5" y1="500.10" x2="58.3" y2="500.10" stroke="#111" stroke-width="0.8"/>
<line x1="56.5" y1="480.50" x2="58.3" y2="480.50" stroke="#111" stroke-width="0.8"/>
<line x1="56.5" y1="460.90" x2="58.3" y2="460.90" stroke="#111" stroke-width="0.8"/>
<line x1="56.5" y1="441.30" x2="58.3" y2="441.30" stroke="#111" stroke-width="0.8"/>
<line x1="56.5" y1="421.70" x2="58.3" y2="421.70" stroke="#111" stroke-width="0.8"/>
<line x1="56.5" y1="402.10" x2="58.3" y2="402.10" stroke="#111" stroke-width="0.8"/>
<line x1="68.25" y1="519.3" x2="68.25" y2="522.3" stroke="#111" stroke-width="1.2"/>
<text x="68.25" y="533.80" font-size="10.8" fill="#222" text-anchor="middle" font-weight="normal" >3</text>
<line x1="88.32" y1="519.3" x2="88.32" y2="522.3" stroke="#111" stroke-width="1.2"/>
<text x="88.32" y="533.80" font-size="10.8" fill="#222" text-anchor="middle" font-weight="normal" >20</text>
<line x1="108.39" y1="519.3" x2="108.39" y2="522.3" stroke="#111" stroke-width="1.2"/>
<text x="108.39" y="533.80" font-size="10.8" fill="#222" text-anchor="middle" font-weight="normal" >21</text>
<line x1="128.46" y1="519.3" x2="128.46" y2="522.3" stroke="#111" stroke-width="1.2"/>
<text x="128.46" y="533.80" font-size="10.8" fill="#222" text-anchor="middle" font-weight="normal" >23</text>
<line x1="148.53" y1="519.3" x2="148.53" y2="522.3" stroke="#111" stroke-width="1.2"/>
<text x="148.53" y="533.80" font-size="10.8" fill="#222" text-anchor="middle" font-weight="normal" >24</text>
<line x1="168.60" y1="519.3" x2="168.60" y2="522.3" stroke="#111" stroke-width="1.2"/>
<text x="168.60" y="533.80" font-size="10.8" fill="#222" text-anchor="middle" font-weight="normal" >53</text>
<line x1="188.67" y1="519.3" x2="188.67" y2="522.3" stroke="#111" stroke-width="1.2"/>
<text x="188.67" y="533.80" font-size="10.8" fill="#222" text-anchor="middle" font-weight="normal" >54</text>
<line x1="208.74" y1="519.3" x2="208.74" y2="522.3" stroke="#111" stroke-width="1.2"/>
<text x="208.74" y="533.80" font-size="10.8" fill="#222" text-anchor="middle" font-weight="normal" >22</text>
<line x1="228.81" y1="519.3" x2="228.81" y2="522.3" stroke="#111" stroke-width="1.2"/>
<text x="228.81" y="533.80" font-size="10.8" fill="#222" text-anchor="middle" font-weight="normal" >55</text>
<line x1="248.88" y1="519.3" x2="248.88" y2="522.3" stroke="#111" stroke-width="1.2"/>
<text x="248.88" y="533.80" font-size="10.8" fill="#222" text-anchor="middle" font-weight="normal" >56</text>
<line x1="268.95" y1="519.3" x2="268.95" y2="522.3" stroke="#111" stroke-width="1.2"/>
<text x="268.95" y="533.80" font-size="10.8" fill="#222" text-anchor="middle" font-weight="normal" >24</text>
<line x1="289.02" y1="519.3" x2="289.02" y2="522.3" stroke="#111" stroke-width="1.2"/>
<text x="289.02" y="533.80" font-size="10.8" fill="#222" text-anchor="middle" font-weight="normal" >25</text>
<line x1="309.09" y1="519.3" x2="309.09" y2="522.3" stroke="#111" stroke-width="1.2"/>
<text x="309.09" y="533.80" font-size="10.8" fill="#222" text-anchor="middle" font-weight="normal" >26</text>
<line x1="329.16" y1="519.3" x2="329.16" y2="522.3" stroke="#111" stroke-width="1.2"/>
<text x="329.16" y="533.80" font-size="10.8" fill="#222" text-anchor="middle" font-weight="normal" >57</text>
<line x1="349.23" y1="519.3" x2="349.23" y2="522.3" stroke="#111" stroke-width="1.2"/>
<text x="349.23" y="533.80" font-size="10.8" fill="#222" text-anchor="middle" font-weight="normal" >29</text>
<line x1="369.30" y1="519.3" x2="369.30" y2="522.3" stroke="#111" stroke-width="1.2"/>
<text x="369.30" y="533.80" font-size="10.8" fill="#222" text-anchor="middle" font-weight="normal" >30</text>
<line x1="389.37" y1="519.3" x2="389.37" y2="522.3" stroke="#111" stroke-width="1.2"/>
<text x="389.37" y="533.80" font-size="10.8" fill="#222" text-anchor="middle" font-weight="normal" >58</text>
<line x1="409.44" y1="519.3" x2="409.44" y2="522.3" stroke="#111" stroke-width="1.2"/>
<text x="409.44" y="533.80" font-size="10.8" fill="#222" text-anchor="middle" font-weight="normal" >4</text>
<line x1="429.51" y1="519.3" x2="429.51" y2="522.3" stroke="#111" stroke-width="1.2"/>
<text x="429.51" y="533.80" font-size="10.8" fill="#222" text-anchor="middle" font-weight="normal" >32</text>
<line x1="449.58" y1="519.3" x2="449.58" y2="522.3" stroke="#111" stroke-width="1.2"/>
<text x="449.58" y="533.80" font-size="10.8" fill="#222" text-anchor="middle" font-weight="normal" >24</text>
<line x1="469.65" y1="519.3" x2="469.65" y2="522.3" stroke="#111" stroke-width="1.2"/>
<text x="469.65" y="533.80" font-size="10.8" fill="#222" text-anchor="middle" font-weight="normal" >27</text>
<line x1="489.72" y1="519.3" x2="489.72" y2="522.3" stroke="#111" stroke-width="1.2"/>
<text x="489.72" y="533.80" font-size="10.8" fill="#222" text-anchor="middle" font-weight="normal" >31</text>
<line x1="509.79" y1="519.3" x2="509.79" y2="522.3" stroke="#111" stroke-width="1.2"/>
<text x="509.79" y="533.80" font-size="10.8" fill="#222" text-anchor="middle" font-weight="normal" >59</text>
<line x1="529.86" y1="519.3" x2="529.86" y2="522.3" stroke="#111" stroke-width="1.2"/>
<text x="529.86" y="533.80" font-size="10.8" fill="#222" text-anchor="middle" font-weight="normal" >60</text>
<line x1="549.93" y1="519.3" x2="549.93" y2="522.3" stroke="#111" stroke-width="1.2"/>
<text x="549.93" y="533.80" font-size="10.8" fill="#222" text-anchor="middle" font-weight="normal" >61</text>
<line x1="570.00" y1="519.3" x2="570.00" y2="522.3" stroke="#111" stroke-width="1.2"/>
<text x="570.00" y="533.80" font-size="10.8" fill="#222" text-anchor="middle" font-weight="normal" >12</text>
<line x1="590.07" y1="519.3" x2="590.07" y2="522.3" stroke="#111" stroke-width="1.2"/>
<text x="590.07" y="533.80" font-size="10.8" fill="#222" text-anchor="middle" font-weight="normal" >15</text>
<line x1="610.14" y1="519.3" x2="610.14" y2="522.3" stroke="#111" stroke-width="1.2"/>
<text x="610.14" y="533.80" font-size="10.8" fill="#222" text-anchor="middle" font-weight="normal" >16</text>
<line x1="630.21" y1="519.3" x2="630.21" y2="522.3" stroke="#111" stroke-width="1.2"/>
<text x="630.21" y="533.80" font-size="10.8" fill="#222" text-anchor="middle" font-weight="normal" >17</text>
<line x1="650.28" y1="519.3" x2="650.28" y2="522.3" stroke="#111" stroke-width="1.2"/>
<text x="650.28" y="533.80" font-size="10.8" fill="#222" text-anchor="middle" font-weight="normal" >62</text>
<line x1="670.35" y1="519.3" x2="670.35" y2="521.8" stroke="#111" stroke-width="1"/>
<text x="672.35" y="533.30" font-size="10.5" fill="#f01818" text-anchor="middle" font-weight="normal" >This</text>
<text x="673.35" y="547.30" font-size="10.5" fill="#f01818" text-anchor="middle" font-weight="normal" >work</text>
<text x="376.70" y="548.00" font-size="11" fill="#222" text-anchor="middle" font-weight="normal" >Reference</text>
<text x="18.70" y="453.00" font-size="11" fill="#222" text-anchor="middle" font-weight="normal" transform="rotate(-90 18.7 453)">Areal capacity (µAh cm<tspan dy="-4" font-size="7.5">-2</tspan><tspan dy="4">)</tspan></text>
<text x="1.40" y="386.60" font-size="12.8" fill="#000" text-anchor="start" font-weight="bold" >e</text>
<text x="161.50" y="438.50" font-size="9.6" fill="#b83848" text-anchor="middle" font-weight="bold" >Zn-manganese based MBs</text>
<polyline points="153.60,447.50 159.60,451.50 165.60,447.50" fill="none" stroke="#b83848" stroke-width="1.7"/>
<polyline points="153.60,451.75 159.60,455.75 165.60,451.75" fill="none" stroke="#b83848" stroke-width="1.7"/>
<polyline points="153.60,456.00 159.60,460.00 165.60,456.00" fill="none" stroke="#b83848" stroke-width="1.7"/>
<polyline points="153.60,460.25 159.60,464.25 165.60,460.25" fill="none" stroke="#b83848" stroke-width="1.7"/>
<polyline points="153.60,464.50 159.60,468.50 165.60,464.50" fill="none" stroke="#b83848" stroke-width="1.7"/>
<text x="296.00" y="423.60" font-size="9.6" fill="#d95e52" text-anchor="middle" font-weight="bold" >Zn-vanadium</text>
<text x="296.00" y="435.10" font-size="9.6" fill="#d95e52" text-anchor="middle" font-weight="bold" >oxides based</text>
<text x="296.00" y="446.00" font-size="9.6" fill="#d95e52" text-anchor="middle" font-weight="bold" >MBs</text>
<polyline points="290.00,452.00 296.00,456.00 302.00,452.00" fill="none" stroke="#d95e52" stroke-width="1.7"/>
<polyline points="290.00,455.25 296.00,459.25 302.00,455.25" fill="none" stroke="#d95e52" stroke-width="1.7"/>
<polyline points="290.00,458.50 296.00,462.50 302.00,458.50" fill="none" stroke="#d95e52" stroke-width="1.7"/>
<polyline points="290.00,461.75 296.00,465.75 302.00,461.75" fill="none" stroke="#d95e52" stroke-width="1.7"/>
<polyline points="290.00,465.00 296.00,469.00 302.00,465.00" fill="none" stroke="#d95e52" stroke-width="1.7"/>
<text x="365.40" y="425.60" font-size="9.6" fill="#f3a282" text-anchor="middle" font-weight="bold" >Alkaline</text>
<text x="365.40" y="437.10" font-size="9.6" fill="#f3a282" text-anchor="middle" font-weight="bold" >Zn-based</text>
<text x="365.40" y="448.10" font-size="9.6" fill="#f3a282" text-anchor="middle" font-weight="bold" >MBs</text>
<polyline points="359.40,452.50 365.40,456.50 371.40,452.50" fill="none" stroke="#f3a282" stroke-width="1.7"/>
<polyline points="359.40,455.27 365.40,459.27 371.40,455.27" fill="none" stroke="#f3a282" stroke-width="1.7"/>
<polyline points="359.40,458.05 365.40,462.05 371.40,458.05" fill="none" stroke="#f3a282" stroke-width="1.7"/>
<polyline points="359.40,460.83 365.40,464.83 371.40,460.83" fill="none" stroke="#f3a282" stroke-width="1.7"/>
<polyline points="359.40,463.60 365.40,467.60 371.40,463.60" fill="none" stroke="#f3a282" stroke-width="1.7"/>
<text x="419.40" y="433.40" font-size="9.6" fill="#cfe3ef" text-anchor="middle" font-weight="bold" >Zn-halogen</text>
<text x="419.40" y="444.90" font-size="9.6" fill="#cfe3ef" text-anchor="middle" font-weight="bold" >based MBs</text>
<polyline points="413.40,450.00 419.40,454.00 425.40,450.00" fill="none" stroke="#cfe3ef" stroke-width="1.7"/>
<polyline points="413.40,453.50 419.40,457.50 425.40,453.50" fill="none" stroke="#cfe3ef" stroke-width="1.7"/>
<polyline points="413.40,457.00 419.40,461.00 425.40,457.00" fill="none" stroke="#cfe3ef" stroke-width="1.7"/>
<polyline points="413.40,460.50 419.40,464.50 425.40,460.50" fill="none" stroke="#cfe3ef" stroke-width="1.7"/>
<polyline points="413.40,464.00 419.40,468.00 425.40,464.00" fill="none" stroke="#cfe3ef" stroke-width="1.7"/>
<text x="479.00" y="433.30" font-size="9.6" fill="#8fc1e0" text-anchor="middle" font-weight="bold" >Other Zn ion</text>
<text x="479.00" y="444.40" font-size="9.6" fill="#8fc1e0" text-anchor="middle" font-weight="bold" >MBs</text>
<polyline points="473.00,449.00 479.00,453.00 485.00,449.00" fill="none" stroke="#8fc1e0" stroke-width="1.7"/>
<polyline points="473.00,452.75 479.00,456.75 485.00,452.75" fill="none" stroke="#8fc1e0" stroke-width="1.7"/>
<polyline points="473.00,456.50 479.00,460.50 485.00,456.50" fill="none" stroke="#8fc1e0" stroke-width="1.7"/>
<polyline points="473.00,460.25 479.00,464.25 485.00,460.25" fill="none" stroke="#8fc1e0" stroke-width="1.7"/>
<polyline points="473.00,464.00 479.00,468.00 485.00,464.00" fill="none" stroke="#8fc1e0" stroke-width="1.7"/>
<text x="538.80" y="434.30" font-size="9.6" fill="#3c8cc4" text-anchor="middle" font-weight="bold" >Aqueous</text>
<text x="538.80" y="445.00" font-size="9.6" fill="#3c8cc4" text-anchor="middle" font-weight="bold" >K/Na ion MBs</text>
<polyline points="532.80,451.50 538.80,455.50 544.80,451.50" fill="none" stroke="#3c8cc4" stroke-width="1.7"/>
<polyline points="532.80,454.62 538.80,458.62 544.80,454.62" fill="none" stroke="#3c8cc4" stroke-width="1.7"/>
<polyline points="532.80,457.75 538.80,461.75 544.80,457.75" fill="none" stroke="#3c8cc4" stroke-width="1.7"/>
<polyline points="532.80,460.88 538.80,464.88 544.80,460.88" fill="none" stroke="#3c8cc4" stroke-width="1.7"/>
<polyline points="532.80,464.00 538.80,468.00 544.80,464.00" fill="none" stroke="#3c8cc4" stroke-width="1.7"/>
<text x="610.90" y="438.90" font-size="9.6" fill="#2a62aa" text-anchor="middle" font-weight="bold" >Organic MBs</text>
<polyline points="604.90,447.50 610.90,451.50 616.90,447.50" fill="none" stroke="#2a62aa" stroke-width="1.7"/>
<polyline points="604.90,451.62 610.90,455.62 616.90,451.62" fill="none" stroke="#2a62aa" stroke-width="1.7"/>
<polyline points="604.90,455.75 610.90,459.75 616.90,455.75" fill="none" stroke="#2a62aa" stroke-width="1.7"/>
<polyline points="604.90,459.88 610.90,463.88 616.90,459.88" fill="none" stroke="#2a62aa" stroke-width="1.7"/>
<polyline points="604.90,464.00 610.90,468.00 616.90,464.00" fill="none" stroke="#2a62aa" stroke-width="1.7"/>
<defs>
<clipPath id="ht" clipPathUnits="objectBoundingBox"><rect x="-0.1" y="-0.1" width="1.2" height="0.6"/></clipPath>
<clipPath id="hb" clipPathUnits="objectBoundingBox"><rect x="-0.1" y="0.5" width="1.2" height="0.6"/></clipPath>
<clipPath id="hl" clipPathUnits="objectBoundingBox"><rect x="-0.1" y="-0.1" width="0.6" height="1.2"/></clipPath>
<clipPath id="hr" clipPathUnits="objectBoundingBox"><rect x="0.5" y="-0.1" width="0.6" height="1.2"/></clipPath>
<linearGradient id="ellg" x1="0.15" y1="0.85" x2="0.85" y2="0.15"><stop offset="0" stop-color="#c4dbee"/><stop offset="0.3" stop-color="#d6e2ec"/><stop offset="0.6" stop-color="#e8dde2"/><stop offset="1" stop-color="#f5dcda"/></linearGradient>
<pattern id="dots" width="3.1" height="3.1" patternUnits="userSpaceOnUse" patternTransform="rotate(35)"><circle cx="1.55" cy="1.55" r="1.0" fill="#58a6e2"/></pattern>
<linearGradient id="arrg" x1="0" y1="0" x2="1" y2="0"><stop offset="0" stop-color="#fde5d2"/><stop offset="1" stop-color="#f6c4a0"/></linearGradient>
</defs>
<path d="M453.50 568.80h7.60v7.60h-7.60z" fill="#6b0b2b"/>
<text x="466.90" y="576.10" font-size="9.8" fill="#222" xml:space="preserve"><tspan dy="0.00" font-size="9.80">Zn||MnO</tspan><tspan dy="2.16" font-size="6.08">2</tspan><tspan dy="-2.16" font-size="9.80"> </tspan><tspan dy="-4.41" font-size="5.88">24</tspan></text>
<path d="M453.50 587.70a3.80 3.80 0 1 0 7.60 0a3.80 3.80 0 1 0 -7.60 0z" fill="#b9182f"/>
<text x="466.90" y="591.20" font-size="9.8" fill="#222" xml:space="preserve"><tspan dy="0.00" font-size="9.80">Zn||MnO</tspan><tspan dy="2.16" font-size="6.08">2</tspan><tspan dy="-2.16" font-size="9.80"> </tspan><tspan dy="-4.41" font-size="5.88">21</tspan></text>
<path d="M457.30 598.90L461.29 605.74L453.31 605.74z" fill="#d9614f"/>
<text x="466.90" y="606.20" font-size="9.8" fill="#222" xml:space="preserve"><tspan dy="0.00" font-size="9.80">Zn||MnO</tspan><tspan dy="2.16" font-size="6.08">x</tspan><tspan dy="-2.16" font-size="9.80">/PPy </tspan><tspan dy="-4.41" font-size="5.88">53</tspan></text>
<path d="M453.31 615.66L461.29 615.66L457.30 622.50z" fill="#f29b7a"/>
<text x="466.90" y="622.20" font-size="9.8" fill="#222" xml:space="preserve"><tspan dy="0.00" font-size="9.80">Zn||MnO</tspan><tspan dy="2.16" font-size="6.08">2</tspan><tspan dy="-2.16" font-size="9.80"> </tspan><tspan dy="-4.41" font-size="5.88">54</tspan></text>
<path d="M457.30 629.23L461.67 633.60L457.30 637.97L452.93 633.60z" fill="#fdd5c4"/>
<text x="466.90" y="637.10" font-size="9.8" fill="#222" xml:space="preserve"><tspan dy="0.00" font-size="9.80">Zn/MoS</tspan><tspan dy="2.16" font-size="6.08">2</tspan><tspan dy="-2.16" font-size="9.80">||MnO</tspan><tspan dy="2.16" font-size="6.08">2</tspan><tspan dy="-2.16" font-size="9.80"> </tspan><tspan dy="-4.41" font-size="5.88">55</tspan></text>
<path d="M453.50 649.00L460.34 645.01L460.34 652.99z" fill="#c9dfee"/>
<text x="466.90" y="652.50" font-size="9.8" fill="#222" xml:space="preserve"><tspan dy="0.00" font-size="9.80">Zn||MnO</tspan><tspan dy="2.16" font-size="6.08">2</tspan><tspan dy="-2.16" font-size="9.80"> </tspan><tspan dy="-4.41" font-size="5.88">20</tspan></text>
<path d="M460.76 665.70L457.30 667.69L453.84 665.70L453.84 661.71L457.30 659.71L460.76 661.71z" fill="#8ec5e2"/>
<text x="466.90" y="667.20" font-size="9.8" fill="#222" xml:space="preserve"><tspan dy="0.00" font-size="9.80">Zn||MnO</tspan><tspan dy="2.16" font-size="6.08">2</tspan><tspan dy="-2.16" font-size="9.80"> </tspan><tspan dy="-4.41" font-size="5.88">3</tspan></text>
<path d="M453.50 675.80h7.60v7.60h-7.60z" fill="#fff" stroke="#4996cc" stroke-width="0.9"/>
<path d="M453.50 675.80h7.60v7.60h-7.60z" fill="#4996cc" clip-path="url(#ht)"/>
<text x="466.90" y="683.10" font-size="9.8" fill="#222" xml:space="preserve"><tspan dy="0.00" font-size="9.80">Zn||MnO</tspan><tspan dy="2.16" font-size="6.08">2</tspan><tspan dy="-2.16" font-size="9.80"> </tspan><tspan dy="-4.41" font-size="5.88">23</tspan></text>
<path d="M453.50 694.50a3.80 3.80 0 1 0 7.60 0a3.80 3.80 0 1 0 -7.60 0z" fill="#fff" stroke="#2a6fb6" stroke-width="0.9"/>
<path d="M453.50 694.50a3.80 3.80 0 1 0 7.60 0a3.80 3.80 0 1 0 -7.60 0z" fill="#2a6fb6" clip-path="url(#ht)"/>
<text x="466.90" y="698.00" font-size="9.8" fill="#222" xml:space="preserve"><tspan dy="0.00" font-size="9.80">Zn||MnO</tspan><tspan dy="2.16" font-size="6.08">2</tspan><tspan dy="-2.16" font-size="9.80"> </tspan><tspan dy="-4.41" font-size="5.88">22</tspan></text>
<path d="M457.30 705.60L461.29 712.44L453.31 712.44z" fill="#fff" stroke="#1b3f80" stroke-width="0.9"/>
<path d="M457.30 705.60L461.29 712.44L453.31 712.44z" fill="#1b3f80" clip-path="url(#ht)"/>
<text x="466.90" y="712.90" font-size="9.8" fill="#222" xml:space="preserve"><tspan dy="0.00" font-size="9.80">Zn||V</tspan><tspan dy="2.16" font-size="6.08">6</tspan><tspan dy="-2.16" font-size="9.80">O</tspan><tspan dy="2.16" font-size="6.08">13</tspan><tspan dy="-2.16" font-size="9.80"> </tspan><tspan dy="-4.41" font-size="5.88">24</tspan></text>
<path d="M453.31 721.76L461.29 721.76L457.30 728.60z" fill="#fff" stroke="#6b0b2b" stroke-width="0.9"/>
<path d="M453.31 721.76L461.29 721.76L457.30 728.60z" fill="#6b0b2b" clip-path="url(#ht)"/>
<text x="466.90" y="728.30" font-size="9.8" fill="#222" xml:space="preserve"><tspan dy="0.00" font-size="9.80">Zn||VO</tspan><tspan dy="2.16" font-size="6.08">2</tspan><tspan dy="-2.16" font-size="9.80">/MWCNTs </tspan><tspan dy="-4.41" font-size="5.88">25</tspan></text>
<path d="M453.50 735.40L461.10 739.20L453.50 743.00L456.54 739.20z" fill="#b8202f"/>
<text x="466.90" y="742.70" font-size="9.8" fill="#222" xml:space="preserve"><tspan dy="0.00" font-size="9.80">MXene/TiS</tspan><tspan dy="2.16" font-size="6.08">2</tspan><tspan dy="-2.16" font-size="9.80">||</tspan></text>
<text x="466.00" y="757.60" font-size="9.8" fill="#222" xml:space="preserve"><tspan dy="0.00" font-size="9.80">MWCNTs/VO</tspan><tspan dy="2.16" font-size="6.08">2</tspan><tspan dy="-2.16" font-size="9.80"> </tspan><tspan dy="-4.41" font-size="5.88">57</tspan></text>
<path d="M453.50 769.50L460.34 765.51L460.34 773.49z" fill="#fff" stroke="#da604f" stroke-width="0.9"/>
<path d="M453.50 769.50L460.34 765.51L460.34 773.49z" fill="#da604f" clip-path="url(#hl)"/>
<text x="466.90" y="773.00" font-size="9.8" fill="#222" xml:space="preserve"><tspan dy="0.00" font-size="9.80">Zn||A-V</tspan><tspan dy="2.16" font-size="6.08">2</tspan><tspan dy="-2.16" font-size="9.80">O</tspan><tspan dy="2.16" font-size="6.08">5</tspan><tspan dy="-2.16" font-size="9.80">/GO </tspan><tspan dy="-4.41" font-size="5.88">28</tspan></text>
<path d="M460.76 786.20L457.30 788.19L453.84 786.20L453.84 782.21L457.30 780.21L460.76 782.21z" fill="#fff" stroke="#f4a680" stroke-width="0.9"/>
<path d="M460.76 786.20L457.30 788.19L453.84 786.20L453.84 782.21L457.30 780.21L460.76 782.21z" fill="#f4a680" clip-path="url(#ht)"/>
<text x="466.90" y="787.70" font-size="9.8" fill="#222" xml:space="preserve"><tspan dy="0.00" font-size="9.80">Zn||Ni/Co LDH </tspan><tspan dy="-4.41" font-size="5.88">29</tspan></text>
<path d="M568.20 563.80h7.60v7.60h-7.60z" fill="#fff" stroke="#d3e6f3" stroke-width="0.9"/>
<path d="M568.20 563.80h7.60v7.60h-7.60z" fill="#d3e6f3" clip-path="url(#hl)"/>
<text x="582.90" y="571.10" font-size="9.8" fill="#222" xml:space="preserve"><tspan dy="0.00" font-size="9.80">Zn||Ni@Ni(OH)</tspan><tspan dy="2.16" font-size="6.08">2</tspan><tspan dy="-2.16" font-size="9.80"> </tspan><tspan dy="-4.41" font-size="5.88">30</tspan></text>
<path d="M568.20 582.50a3.80 3.80 0 1 0 7.60 0a3.80 3.80 0 1 0 -7.60 0z" fill="#fff" stroke="#a5cfea" stroke-width="0.9"/>
<path d="M568.20 582.50a3.80 3.80 0 1 0 7.60 0a3.80 3.80 0 1 0 -7.60 0z" fill="#a5cfea" clip-path="url(#hl)"/>
<text x="582.90" y="586.00" font-size="9.8" fill="#222" xml:space="preserve"><tspan dy="0.00" font-size="9.80">Zn||NiCo−LDH@Ni </tspan><tspan dy="-4.41" font-size="5.88">58</tspan></text>
<path d="M568.01 593.16L575.99 593.16L572.00 600.00z" fill="#fff" stroke="#5aa9dc" stroke-width="0.9"/>
<path d="M568.01 593.16L575.99 593.16L572.00 600.00z" fill="#5aa9dc" clip-path="url(#ht)"/>
<text x="582.90" y="599.70" font-size="9.8" fill="#222" xml:space="preserve"><tspan dy="0.00" font-size="9.80">Zn||I</tspan><tspan dy="2.16" font-size="6.08">2</tspan><tspan dy="-2.16" font-size="9.80"> </tspan><tspan dy="-4.41" font-size="5.88">4</tspan></text>
<path d="M572.00 606.73L576.37 611.10L572.00 615.47L567.63 611.10z" fill="#fff" stroke="#2b6cb8" stroke-width="0.9"/>
<path d="M572.00 606.73L576.37 611.10L572.00 615.47L567.63 611.10z" fill="#2b6cb8" clip-path="url(#hr)"/>
<text x="582.90" y="614.60" font-size="9.8" fill="#222" xml:space="preserve"><tspan dy="0.00" font-size="9.80">Zn||Br</tspan><tspan dy="2.16" font-size="6.08">2</tspan><tspan dy="-2.16" font-size="9.80"> </tspan><tspan dy="-4.41" font-size="5.88">32</tspan></text>
<path d="M572.00 622.20L575.99 629.04L568.01 629.04z" fill="#fff" stroke="#1a3272" stroke-width="0.9"/>
<path d="M572.00 622.20L575.99 629.04L568.01 629.04z" fill="#1a3272" clip-path="url(#hr)"/>
<text x="582.90" y="629.50" font-size="9.8" fill="#222" xml:space="preserve"><tspan dy="0.00" font-size="9.80">Zn||PANI </tspan><tspan dy="-4.41" font-size="5.88">24</tspan></text>
<path d="M568.20 635.60h7.60v7.60h-7.60z" fill="#fff" stroke="#d9493a" stroke-width="0.9"/>
<path d="M568.20 635.60h7.60v7.60h-7.60z" fill="#d9493a" clip-path="url(#ht)"/>
<text x="582.90" y="642.90" font-size="9.8" fill="#222" xml:space="preserve"><tspan dy="0.00" font-size="9.80">Zn||E-ZVONFs </tspan><tspan dy="-4.41" font-size="5.88">59</tspan></text>
<path d="M568.20 652.20a3.80 3.80 0 1 0 7.60 0a3.80 3.80 0 1 0 -7.60 0z" fill="#fff" stroke="#f08e6a" stroke-width="0.9"/>
<path d="M568.20 652.20a3.80 3.80 0 1 0 7.60 0a3.80 3.80 0 1 0 -7.60 0z" fill="#f08e6a" clip-path="url(#ht)"/>
<text x="582.90" y="655.70" font-size="9.8" fill="#222" xml:space="preserve"><tspan dy="0.00" font-size="9.80">Zn||P-NVO </tspan><tspan dy="-4.41" font-size="5.88">31</tspan></text>
<path d="M572.00 661.60L575.99 668.44L568.01 668.44z" fill="#fff" stroke="#fcdccf" stroke-width="0.9"/>
<path d="M572.00 661.60L575.99 668.44L568.01 668.44z" fill="#fcdccf" clip-path="url(#hr)"/>
<text x="582.90" y="668.90" font-size="9.8" fill="#222" xml:space="preserve"><tspan dy="0.00" font-size="9.80">Zn||NH</tspan><tspan dy="2.16" font-size="6.08">4</tspan><tspan dy="-2.16" font-size="9.80">CuHCF-P </tspan><tspan dy="-4.41" font-size="5.88">27</tspan></text>
<path d="M568.01 676.56L575.99 676.56L572.00 683.40z" fill="#fff" stroke="#d6e9f6" stroke-width="0.9"/>
<path d="M568.01 676.56L575.99 676.56L572.00 683.40z" fill="#d6e9f6" clip-path="url(#ht)"/>
<text x="582.90" y="683.10" font-size="9.8" fill="#222" xml:space="preserve"><tspan dy="0.00" font-size="9.80">K</tspan><tspan dy="2.16" font-size="6.08">x</tspan><tspan dy="-2.16" font-size="9.80">V</tspan><tspan dy="2.16" font-size="6.08">2</tspan><tspan dy="-2.16" font-size="9.80">O</tspan><tspan dy="2.16" font-size="6.08">5</tspan><tspan dy="-2.16" font-size="9.80">·nH</tspan><tspan dy="2.16" font-size="6.08">2</tspan><tspan dy="-2.16" font-size="9.80">O||</tspan></text>
<text x="582.90" y="698.00" font-size="9.8" fill="#222" xml:space="preserve"><tspan dy="0.00" font-size="9.80">K</tspan><tspan dy="2.16" font-size="6.08">x</tspan><tspan dy="-2.16" font-size="9.80">MnO</tspan><tspan dy="2.16" font-size="6.08">2</tspan><tspan dy="-2.16" font-size="9.80">·nH</tspan><tspan dy="2.16" font-size="6.08">2</tspan><tspan dy="-2.16" font-size="9.80">O </tspan><tspan dy="-4.41" font-size="5.88">60</tspan></text>
<path d="M575.80 709.40L568.96 705.41L568.96 713.39z" fill="#fff" stroke="#7ab8e1" stroke-width="0.9"/>
<path d="M575.80 709.40L568.96 705.41L568.96 713.39z" fill="#7ab8e1" clip-path="url(#hb)"/>
<text x="582.90" y="712.90" font-size="9.8" fill="#222" xml:space="preserve"><tspan dy="0.00" font-size="9.80">NVP||NVP </tspan><tspan dy="-4.41" font-size="5.88">61</tspan></text>
<path d="M568.20 721.70L575.04 717.71L575.04 725.69z" fill="#fff" stroke="#3b80c1" stroke-width="0.9"/>
<path d="M568.20 721.70L575.04 717.71L575.04 725.69z" fill="#3b80c1" clip-path="url(#hr)"/>
<text x="582.90" y="725.20" font-size="9.8" fill="#222" xml:space="preserve"><tspan dy="0.00" font-size="9.80">MXene/LTO||</tspan></text>
<text x="582.90" y="738.00" font-size="9.8" fill="#222" xml:space="preserve"><tspan dy="0.00" font-size="9.80">MXene/LFP </tspan><tspan dy="-4.41" font-size="5.88">12</tspan></text>
<path d="M568.20 743.30h7.60v7.60h-7.60z" fill="#fff" stroke="#2a6ab8" stroke-width="0.9"/>
<path d="M568.20 743.30h7.60v7.60h-7.60z" fill="#2a6ab8" clip-path="url(#hl)"/>
<text x="582.90" y="750.60" font-size="9.8" fill="#222" xml:space="preserve"><tspan dy="0.00" font-size="9.80">LTO@GC||LFP@GC </tspan><tspan dy="-4.41" font-size="5.88">62</tspan></text>
<path d="M568.20 760.20a3.80 3.80 0 1 0 7.60 0a3.80 3.80 0 1 0 -7.60 0z" fill="#fff" stroke="#1a3878" stroke-width="0.9"/>
<path d="M568.20 760.20a3.80 3.80 0 1 0 7.60 0a3.80 3.80 0 1 0 -7.60 0z" fill="#1a3878" clip-path="url(#hl)"/>
<text x="582.90" y="763.70" font-size="9.8" fill="#222" xml:space="preserve"><tspan dy="0.00" font-size="9.80">NTO||NVP </tspan><tspan dy="-4.41" font-size="5.88">16</tspan></text>
<path d="M568.20 769.60L575.80 773.40L568.20 777.20L571.24 773.40z" fill="#6b0b30"/>
<text x="582.90" y="776.90" font-size="9.8" fill="#222" xml:space="preserve"><tspan dy="0.00" font-size="9.80">NVPF/EC||NTP/EC </tspan><tspan dy="-4.41" font-size="5.88">17</tspan></text>
<path d="M568.01 782.96L575.99 782.96L572.00 789.80z" fill="#fff" stroke="#c21a2a" stroke-width="0.9"/>
<path d="M568.01 782.96L575.99 782.96L572.00 789.80z" fill="#c21a2a" clip-path="url(#ht)"/>
<text x="582.90" y="789.50" font-size="9.8" fill="#222" xml:space="preserve"><tspan dy="0.00" font-size="9.80">LiPF</tspan><tspan dy="2.16" font-size="6.08">6</tspan><tspan dy="-2.16" font-size="9.80">||Graphite </tspan><tspan dy="-4.41" font-size="5.88">15</tspan></text>
<ellipse cx="304" cy="714.6" rx="38.5" ry="49.5" fill="url(#ellg)"/>
<line x1="265.9" y1="677.2" x2="342" y2="677.2" stroke="#777" stroke-width="0.9" stroke-dasharray="3 2"/>
<line x1="317.1" y1="668.5" x2="317.1" y2="761.1" stroke="#777" stroke-width="0.9" stroke-dasharray="3 2"/>
<line x1="265.9" y1="579.7" x2="408.2" y2="579.7" stroke="#f01818" stroke-width="1.3" stroke-dasharray="2.5 1.8"/>
<line x1="408.2" y1="579.7" x2="408.2" y2="761.1" stroke="#f01818" stroke-width="1.3" stroke-dasharray="2.5 1.8"/>
<polygon points="408.20,575.40 409.32,578.46 412.57,578.58 410.01,580.59 410.90,583.72 408.20,581.90 405.50,583.72 406.39,580.59 403.83,578.58 407.08,578.46" fill="#f01818"/>
<text x="394.00" y="590.80" font-size="10" fill="#f01818" text-anchor="middle" font-weight="bold" >This</text>
<text x="394.00" y="602.10" font-size="10" fill="#f01818" text-anchor="middle" font-weight="bold" >work</text>
<path d="M377.8 601.7 L380.7 630.9 L373.1 626.8 L349.2 657.7 L335.8 648.4 L356.2 618 L349.2 609.9 Z" fill="url(#dots)"/>
<path d="M284.40 711.50a3.60 3.60 0 1 0 7.20 0a3.60 3.60 0 1 0 -7.20 0z" fill="#fff" stroke="#f08e6a" stroke-width="0.9"/>
<path d="M284.40 711.50a3.60 3.60 0 1 0 7.20 0a3.60 3.60 0 1 0 -7.20 0z" fill="#f08e6a" clip-path="url(#ht)"/>
<path d="M316.00 704.56L320.14 708.70L316.00 712.84L311.86 708.70z" fill="#fff" stroke="#2b6cb8" stroke-width="0.9"/>
<path d="M316.00 704.56L320.14 708.70L316.00 712.84L311.86 708.70z" fill="#2b6cb8" clip-path="url(#hr)"/>
<path d="M301.99 717.64L310.81 717.64L306.40 725.20z" fill="#fff" stroke="#5aa9dc" stroke-width="0.9"/>
<path d="M301.99 717.64L310.81 717.64L306.40 725.20z" fill="#5aa9dc" clip-path="url(#ht)"/>
<path d="M317.60 731.30L322.01 738.86L313.19 738.86z" fill="#fff" stroke="#fcdccf" stroke-width="0.9"/>
<path d="M317.60 731.30L322.01 738.86L313.19 738.86z" fill="#fcdccf" clip-path="url(#hr)"/>
<path d="M310.60 672.60L319.80 677.20L310.60 681.80L314.28 677.20z" fill="#6b0b30"/>
<path d="M294.70 740.00a4.30 4.30 0 1 0 8.60 0a4.30 4.30 0 1 0 -8.60 0z" fill="#fff" stroke="#a5cfea" stroke-width="0.9"/>
<path d="M294.70 740.00a4.30 4.30 0 1 0 8.60 0a4.30 4.30 0 1 0 -8.60 0z" fill="#a5cfea" clip-path="url(#hl)"/>
<path d="M303.41 736.06L299.50 738.31L295.59 736.06L295.59 731.54L299.50 729.28L303.41 731.54z" fill="#8ec5e2"/>
<path d="M278.80 739.00a4.20 4.20 0 1 0 8.40 0a4.20 4.20 0 1 0 -8.40 0z" fill="#fff" stroke="#1a3878" stroke-width="0.9"/>
<path d="M278.80 739.00a4.20 4.20 0 1 0 8.40 0a4.20 4.20 0 1 0 -8.40 0z" fill="#1a3878" clip-path="url(#hl)"/>
<path d="M284.30 731.00L288.50 738.20L280.10 738.20z" fill="#fff" stroke="#1b3f80" stroke-width="0.9"/>
<path d="M284.30 731.00L288.50 738.20L280.10 738.20z" fill="#1b3f80" clip-path="url(#ht)"/>
<path d="M282.90 729.40h7.20v7.20h-7.20z" fill="#fff" stroke="#4996cc" stroke-width="0.9"/>
<path d="M282.90 729.40h7.20v7.20h-7.20z" fill="#4996cc" clip-path="url(#ht)"/>
<path d="M286.40 729.80a3.60 3.60 0 1 0 7.20 0a3.60 3.60 0 1 0 -7.20 0z" fill="#fff" stroke="#2a6fb6" stroke-width="0.9"/>
<path d="M286.40 729.80a3.60 3.60 0 1 0 7.20 0a3.60 3.60 0 1 0 -7.20 0z" fill="#2a6fb6" clip-path="url(#ht)"/>
<path d="M288.30 736.80L296.70 736.80L292.50 744.00z" fill="#fff" stroke="#d6e9f6" stroke-width="0.9"/>
<path d="M288.30 736.80L296.70 736.80L292.50 744.00z" fill="#d6e9f6" clip-path="url(#ht)"/>
<path d="M287.99 729.06L297.01 729.06L292.50 736.80z" fill="#fff" stroke="#c21a2a" stroke-width="0.9"/>
<path d="M287.99 729.06L297.01 729.06L292.50 736.80z" fill="#c21a2a" clip-path="url(#ht)"/>
<path d="M287.30 743.50L293.06 740.14L293.06 746.86z" fill="#fff" stroke="#da604f" stroke-width="0.9"/>
<path d="M287.30 743.50L293.06 740.14L293.06 746.86z" fill="#da604f" clip-path="url(#hl)"/>
<ellipse cx="290.6" cy="736" rx="19.5" ry="12.2" fill="none" stroke="#ee8a3c" stroke-width="1.3" stroke-dasharray="3 1.8"/>
<rect x="265.9" y="568.3" width="155.60000000000002" height="192.80000000000007" fill="none" stroke="#111" stroke-width="1.5"/>
<line x1="262.9" y1="740.20" x2="265.9" y2="740.20" stroke="#111" stroke-width="1"/>
<text x="260.70" y="744.90" font-size="13" fill="#222" text-anchor="end" font-weight="normal" >0</text>
<line x1="262.9" y1="697.30" x2="265.9" y2="697.30" stroke="#111" stroke-width="1"/>
<text x="260.70" y="702.00" font-size="13" fill="#222" text-anchor="end" font-weight="normal" >5000</text>
<line x1="262.9" y1="654.40" x2="265.9" y2="654.40" stroke="#111" stroke-width="1"/>
<text x="260.70" y="659.10" font-size="13" fill="#222" text-anchor="end" font-weight="normal" >10000</text>
<line x1="262.9" y1="611.50" x2="265.9" y2="611.50" stroke="#111" stroke-width="1"/>
<text x="260.70" y="616.20" font-size="13" fill="#222" text-anchor="end" font-weight="normal" >15000</text>
<line x1="262.9" y1="568.60" x2="265.9" y2="568.60" stroke="#111" stroke-width="1"/>
<text x="260.70" y="573.30" font-size="13" fill="#222" text-anchor="end" font-weight="normal" >20000</text>
<line x1="264.09999999999997" y1="718.75" x2="265.9" y2="718.75" stroke="#111" stroke-width="0.8"/>
<line x1="264.09999999999997" y1="675.85" x2="265.9" y2="675.85" stroke="#111" stroke-width="0.8"/>
<line x1="264.09999999999997" y1="632.95" x2="265.9" y2="632.95" stroke="#111" stroke-width="0.8"/>
<line x1="264.09999999999997" y1="590.05" x2="265.9" y2="590.05" stroke="#111" stroke-width="0.8"/>
<line x1="284.10" y1="761.1" x2="284.10" y2="764.1" stroke="#111" stroke-width="1"/>
<text x="284.10" y="777.90" font-size="13" fill="#222" text-anchor="middle" font-weight="normal" >0</text>
<line x1="330.40" y1="761.1" x2="330.40" y2="764.1" stroke="#111" stroke-width="1"/>
<text x="330.40" y="777.90" font-size="13" fill="#222" text-anchor="middle" font-weight="normal" >5000</text>
<line x1="376.70" y1="761.1" x2="376.70" y2="764.1" stroke="#111" stroke-width="1"/>
<text x="376.70" y="777.90" font-size="13" fill="#222" text-anchor="middle" font-weight="normal" >10000</text>
<line x1="423.00" y1="761.1" x2="423.00" y2="764.1" stroke="#111" stroke-width="1"/>
<text x="423.00" y="777.90" font-size="13" fill="#222" text-anchor="middle" font-weight="normal" >15000</text>
<line x1="307.25" y1="761.1" x2="307.25" y2="762.9" stroke="#111" stroke-width="0.8"/>
<line x1="353.55" y1="761.1" x2="353.55" y2="762.9" stroke="#111" stroke-width="0.8"/>
<line x1="399.85" y1="761.1" x2="399.85" y2="762.9" stroke="#111" stroke-width="0.8"/>
<text x="344.60" y="793.20" font-size="13" fill="#222" text-anchor="middle" font-weight="normal" >Power density (µW cm<tspan dy="-5" font-size="9">-2</tspan><tspan dy="5">)</tspan></text>
<text x="220.50" y="666.60" font-size="13" fill="#222" text-anchor="middle" font-weight="normal" transform="rotate(-90 220.5 666.6)">Energy density (µWh cm<tspan dy="-5" font-size="9">-2</tspan><tspan dy="5">)</tspan></text>
<path d="M274.02 746.93 L274.06 747.87 L273.95 748.80 L273.63 749.88 L273.09 751.09 L272.32 752.39 L271.32 753.74 L270.10 755.14 L268.69 756.55 L267.08 757.95 L265.30 759.34 L263.36 760.70 L261.27 762.02 L259.06 763.29 L256.73 764.50 L254.30 765.64 L251.78 766.72 L249.18 767.71 L246.52 768.61 L243.82 769.42 L241.08 770.12 L238.31 770.72 L235.54 771.21 L232.77 771.57 L230.01 771.82 L227.29 771.93 L224.61 771.90 L221.98 771.74 L219.43 771.43 L216.95 770.97 L214.57 770.36 L212.29 769.59 L210.13 768.66 L208.10 767.56 L206.20 766.30 L204.44 764.87 L202.84 763.25 L201.39 761.45 L200.11 759.45 L199.01 757.24 L198.08 754.77 L203.30 755.60 L192.80 747.00 L187.20 754.30 L193.92 756.23 L195.01 759.01 L196.33 761.61 L197.86 763.99 L199.59 766.15 L201.50 768.09 L203.58 769.81 L205.80 771.33 L208.16 772.65 L210.64 773.77 L213.22 774.70 L215.89 775.46 L218.65 776.05 L221.47 776.48 L224.35 776.76 L227.27 776.89 L230.24 776.88 L233.22 776.74 L236.22 776.48 L239.23 776.10 L242.22 775.60 L245.20 775.00 L248.15 774.30 L251.06 773.50 L253.92 772.61 L256.72 771.63 L259.45 770.58 L262.10 769.45 L264.66 768.25 L267.12 766.98 L269.46 765.64 L271.69 764.24 L273.79 762.77 L275.75 761.23 L277.57 759.62 L279.23 757.93 L280.72 756.15 L282.01 754.25 L283.09 752.21 L283.90 750.03 L284.38 747.87 Z" fill="url(#arrg)" stroke="#e07a3a" stroke-width="0.9" stroke-linejoin="round"/>
<path d="M111.90 631.40a3.70 3.70 0 1 0 7.40 0a3.70 3.70 0 1 0 -7.40 0z" fill="#fff" stroke="#2a6fb6" stroke-width="0.9"/>
<path d="M111.90 631.40a3.70 3.70 0 1 0 7.40 0a3.70 3.70 0 1 0 -7.40 0z" fill="#2a6fb6" clip-path="url(#ht)"/>
<path d="M122.91 639.64L130.69 639.64L126.80 646.30z" fill="#fff" stroke="#6b0b2b" stroke-width="0.9"/>
<path d="M122.91 639.64L130.69 639.64L126.80 646.30z" fill="#6b0b2b" clip-path="url(#ht)"/>
<path d="M175.06 647.34L171.70 649.28L168.34 647.34L168.34 643.46L171.70 641.51L175.06 643.46z" fill="#8ec5e2"/>
<path d="M77.90 650.50h7.40v7.40h-7.40z" fill="#fff" stroke="#2a6ab8" stroke-width="0.9"/>
<path d="M77.90 650.50h7.40v7.40h-7.40z" fill="#2a6ab8" clip-path="url(#hl)"/>
<path d="M88.10 646.60h7.40v7.40h-7.40z" fill="#fff" stroke="#4996cc" stroke-width="0.9"/>
<path d="M88.10 646.60h7.40v7.40h-7.40z" fill="#4996cc" clip-path="url(#ht)"/>
<path d="M81.80 668.20L88.46 664.32L88.46 672.09z" fill="#fff" stroke="#1a3a78" stroke-width="0.9"/>
<path d="M81.80 668.20L88.46 664.32L88.46 672.09z" fill="#1a3a78" clip-path="url(#hr)"/>
<path d="M88.50 668.85L92.75 673.10L88.50 677.36L84.25 673.10z" fill="#fdd5c4"/>
<path d="M125.00 667.40L128.88 674.06L121.11 674.06z" fill="#d9614f"/>
<path d="M132.10 669.60L138.76 665.72L138.76 673.49z" fill="#c9dfee"/>
<path d="M120.40 681.10h7.40v7.40h-7.40z" fill="#fff" stroke="#fcd4c4" stroke-width="0.9"/>
<path d="M120.40 681.10h7.40v7.40h-7.40z" fill="#fcd4c4" clip-path="url(#hr)"/>
<path d="M168.00 690.70a3.70 3.70 0 1 0 7.40 0a3.70 3.70 0 1 0 -7.40 0z" fill="#fff" stroke="#d2e6f4" stroke-width="0.9"/>
<path d="M168.00 690.70a3.70 3.70 0 1 0 7.40 0a3.70 3.70 0 1 0 -7.40 0z" fill="#d2e6f4" clip-path="url(#hr)"/>
<path d="M117.26 694.94L113.90 696.88L110.54 694.94L110.54 691.06L113.90 689.12L117.26 691.06z" fill="#fff" stroke="#f4a680" stroke-width="0.9"/>
<path d="M117.26 694.94L113.90 696.88L110.54 694.94L110.54 691.06L113.90 689.12L117.26 691.06z" fill="#f4a680" clip-path="url(#ht)"/>
<path d="M135.90 700.90L142.56 697.01L142.56 704.78z" fill="#fff" stroke="#da604f" stroke-width="0.9"/>
<path d="M135.90 700.90L142.56 697.01L142.56 704.78z" fill="#da604f" clip-path="url(#hl)"/>
<path d="M77.00 695.25L81.25 699.50L77.00 703.75L72.75 699.50z" fill="#cde3f2"/>
<path d="M73.80 698.04L78.05 702.30L73.80 706.55L69.55 702.30z" fill="#fdd5c4"/>
<path d="M80.00 700.30L83.89 706.96L76.11 706.96z" fill="#fff" stroke="#fcdccf" stroke-width="0.9"/>
<path d="M80.00 700.30L83.89 706.96L76.11 706.96z" fill="#fcdccf" clip-path="url(#hr)"/>
<path d="M81.80 681.30L85.69 687.96L77.91 687.96z" fill="#fff" stroke="#1b3f80" stroke-width="0.9"/>
<path d="M81.80 681.30L85.69 687.96L77.91 687.96z" fill="#1b3f80" clip-path="url(#ht)"/>
<path d="M82.80 683.80h7.40v7.40h-7.40z" fill="#6b0b2b"/>
<path d="M79.30 686.80h7.40v7.40h-7.40z" fill="#6b0b2b"/>
<path d="M80.80 693.50a3.70 3.70 0 1 0 7.40 0a3.70 3.70 0 1 0 -7.40 0z" fill="#b9182f"/>
<path d="M73.80 691.00a3.70 3.70 0 1 0 7.40 0a3.70 3.70 0 1 0 -7.40 0z" fill="#fff" stroke="#1a3878" stroke-width="0.9"/>
<path d="M73.80 691.00a3.70 3.70 0 1 0 7.40 0a3.70 3.70 0 1 0 -7.40 0z" fill="#1a3878" clip-path="url(#hl)"/>
<path d="M76.80 688.80h7.40v7.40h-7.40z" fill="#fff" stroke="#2a6ab8" stroke-width="0.9"/>
<path d="M76.80 688.80h7.40v7.40h-7.40z" fill="#2a6ab8" clip-path="url(#hl)"/>
<path d="M89.40 696.35L93.66 700.60L89.40 704.86L85.15 700.60z" fill="#fff" stroke="#b8182e" stroke-width="0.9"/>
<path d="M89.40 696.35L93.66 700.60L89.40 704.86L85.15 700.60z" fill="#b8182e" clip-path="url(#ht)"/>
<line x1="74" y1="598" x2="74" y2="737" stroke="#111" stroke-width="1.5"/>
<line x1="73.4" y1="736.8" x2="185.4" y2="736.8" stroke="#111" stroke-width="1.5"/>
<line x1="71" y1="600.00" x2="74" y2="600.00" stroke="#111" stroke-width="1"/>
<text x="69.50" y="605.30" font-size="15" fill="#222" text-anchor="end" font-weight="normal" >1500</text>
<line x1="71" y1="634.10" x2="74" y2="634.10" stroke="#111" stroke-width="1"/>
<text x="69.50" y="639.40" font-size="15" fill="#222" text-anchor="end" font-weight="normal" >1000</text>
<line x1="71" y1="668.20" x2="74" y2="668.20" stroke="#111" stroke-width="1"/>
<text x="69.50" y="673.50" font-size="15" fill="#222" text-anchor="end" font-weight="normal" >500</text>
<line x1="71" y1="702.30" x2="74" y2="702.30" stroke="#111" stroke-width="1"/>
<text x="69.50" y="707.60" font-size="15" fill="#222" text-anchor="end" font-weight="normal" >0</text>
<line x1="71" y1="736.40" x2="74" y2="736.40" stroke="#111" stroke-width="1"/>
<line x1="72.2" y1="617.05" x2="74" y2="617.05" stroke="#111" stroke-width="0.8"/>
<line x1="72.2" y1="651.15" x2="74" y2="651.15" stroke="#111" stroke-width="0.8"/>
<line x1="72.2" y1="685.25" x2="74" y2="685.25" stroke="#111" stroke-width="0.8"/>
<line x1="72.2" y1="719.35" x2="74" y2="719.35" stroke="#111" stroke-width="0.8"/>
<line x1="75.30" y1="736.8" x2="75.30" y2="739.8" stroke="#111" stroke-width="1"/>
<text x="75.30" y="753.60" font-size="15" fill="#222" text-anchor="middle" font-weight="normal" >0</text>
<line x1="124.50" y1="736.8" x2="124.50" y2="739.8" stroke="#111" stroke-width="1"/>
<text x="124.50" y="753.60" font-size="15" fill="#222" text-anchor="middle" font-weight="normal" >800</text>
<line x1="173.70" y1="736.8" x2="173.70" y2="739.8" stroke="#111" stroke-width="1"/>
<text x="173.70" y="753.60" font-size="15" fill="#222" text-anchor="middle" font-weight="normal" >1600</text>
<line x1="99.90" y1="736.8" x2="99.90" y2="738.6" stroke="#111" stroke-width="0.8"/>
<line x1="149.10" y1="736.8" x2="149.10" y2="738.6" stroke="#111" stroke-width="0.8"/>
<text x="127.60" y="771.00" font-size="15.4" fill="#222" text-anchor="middle" font-weight="normal" >Power density</text>
<text x="129.50" y="791.30" font-size="15" fill="#222" text-anchor="middle" font-weight="normal" >(µW cm<tspan dy="-6" font-size="10.5">-2</tspan><tspan dy="6">)</tspan></text>
<text x="29.00" y="673.00" font-size="15" fill="#222" text-anchor="middle" font-weight="normal" transform="rotate(-90 29 673)">Energy density (µWh cm<tspan dy="-6" font-size="10.5">-2</tspan><tspan dy="6">)</tspan></text>
<text x="2.30" y="569.50" font-size="12.8" fill="#000" text-anchor="start" font-weight="bold" >f</text>
<defs>
<radialGradient id="sBi" cx="0.4" cy="0.38" r="0.6"><stop offset="0" stop-color="#fbe0e0"/><stop offset="0.55" stop-color="#ec9ea4"/><stop offset="1" stop-color="#d9747e"/></radialGradient>
<radialGradient id="sAg" cx="0.45" cy="0.42" r="0.6"><stop offset="0" stop-color="#f4f9ff"/><stop offset="0.4" stop-color="#bcd6f0"/><stop offset="1" stop-color="#7ea8d6"/></radialGradient>
<radialGradient id="sZn" cx="0.42" cy="0.4" r="0.6"><stop offset="0" stop-color="#9a9a9a"/><stop offset="1" stop-color="#4a4a4a"/></radialGradient>
<radialGradient id="sO" cx="0.42" cy="0.4" r="0.6"><stop offset="0" stop-color="#fff6c8"/><stop offset="1" stop-color="#f2cf5a"/></radialGradient>
<radialGradient id="sH" cx="0.42" cy="0.4" r="0.6"><stop offset="0" stop-color="#c8f0b0"/><stop offset="1" stop-color="#5aa83a"/></radialGradient>
<linearGradient id="elL" x1="0" y1="0" x2="1" y2="0"><stop offset="0" stop-color="#f2f2f2"/><stop offset="0.55" stop-color="#d2d2d2"/><stop offset="1" stop-color="#a9a9a9"/></linearGradient>
<linearGradient id="elR" x1="0" y1="0" x2="1" y2="0"><stop offset="0" stop-color="#a4a4a4"/><stop offset="0.45" stop-color="#d6d6d6"/><stop offset="1" stop-color="#f8f8f8"/></linearGradient>
<linearGradient id="stepg" x1="0" y1="0" x2="1" y2="0"><stop offset="0" stop-color="#95cdcb" stop-opacity="0"/><stop offset="1" stop-color="#95cdcb"/></linearGradient>
<linearGradient id="grayarr" x1="0" y1="0" x2="0" y2="1"><stop offset="0" stop-color="#bdbdbd" stop-opacity="0"/><stop offset="1" stop-color="#9c9c9c"/></linearGradient>
<linearGradient id="pinkarr" x1="0" y1="0" x2="0" y2="1"><stop offset="0" stop-color="#f08c8c" stop-opacity="0"/><stop offset="1" stop-color="#ec7a7e"/></linearGradient>
<linearGradient id="bluearr" x1="0" y1="0" x2="0" y2="1"><stop offset="0" stop-color="#9cc8ec" stop-opacity="0.2"/><stop offset="1" stop-color="#4f98d4"/></linearGradient>
<filter id="blur2" x="-0.1" y="-0.1" width="1.2" height="1.2"><feGaussianBlur stdDeviation="2.2"/></filter>
</defs>
<rect x="26.4" y="27.5" width="79" height="112" rx="9" fill="#d9ebe9" filter="url(#blur2)"/>
<path d="M20.200000000000003 24.5 C22.9 18 26.4 9.5 33.9 9.4 L100.9 9.4 C108.4 9.5 111.9 18 114.2 24.5" fill="none" stroke="#cdcdcd" stroke-width="2.9"/>
<line x1="32.4" y1="9.4" x2="102.4" y2="9.4" stroke="#e0e0e0" stroke-width="2.9"/>
<circle cx="66.9" cy="9.3" r="8.7" fill="#fff" stroke="#c4c4c4" stroke-width="0.9"/>
<text x="66.90" y="12.80" font-size="9.5" fill="#b8b8b8" text-anchor="middle" font-weight="normal" >A</text>
<path d="M35.8 5.3 C28.4 5.8 23.4 9.5 20.6 13.8" fill="none" stroke="#555" stroke-width="0.7"/>
<path d="M19.700000000000003 10.6 L20.1 14.6 L23.4 12.6" fill="none" stroke="#555" stroke-width="0.7"/>
<path d="M99.4 5.3 C106.4 5.8 111.4 9.5 113.9 13.8" fill="none" stroke="#555" stroke-width="0.7"/>
<path d="M100.9 3.2 L99.0 5.3 L101.60000000000001 7.0" fill="none" stroke="#555" stroke-width="0.7"/>
<text x="24.00" y="6.20" font-size="5.2" fill="#666" text-anchor="start" font-weight="normal" >e<tspan dy="-1.5" font-size="3.5">-</tspan></text>
<text x="109.90" y="6.20" font-size="5.2" fill="#666" text-anchor="start" font-weight="normal" >e<tspan dy="-1.5" font-size="3.5">-</tspan></text>
<path d="M11.4 139.7 L11.4 26 Q11.4 23.8 13.600000000000001 23.8 L24.5 23.8 Q26.700000000000003 23.8 26.700000000000003 26 L26.700000000000003 139.7 Z" fill="url(#elL)"/>
<path d="M105.9 139.7 L105.9 26 Q105.9 23.8 108.10000000000001 23.8 L121.9 23.8 L121.9 139.7 Z" fill="url(#elR)"/>
<circle cx="107.00" cy="28.00" r="1.75" fill="#8a8a8a" stroke="#4a4a4a" stroke-width="0.7"/>
<circle cx="107.00" cy="34.80" r="1.75" fill="#8a8a8a" stroke="#4a4a4a" stroke-width="0.7"/>
<circle cx="107.00" cy="41.60" r="1.75" fill="#8a8a8a" stroke="#4a4a4a" stroke-width="0.7"/>
<circle cx="107.00" cy="48.40" r="1.75" fill="#8a8a8a" stroke="#4a4a4a" stroke-width="0.7"/>
<circle cx="107.00" cy="55.20" r="1.75" fill="#8a8a8a" stroke="#4a4a4a" stroke-width="0.7"/>
<circle cx="107.00" cy="62.00" r="1.75" fill="#8a8a8a" stroke="#4a4a4a" stroke-width="0.7"/>
<circle cx="107.00" cy="68.80" r="1.75" fill="#8a8a8a" stroke="#4a4a4a" stroke-width="0.7"/>
<circle cx="107.00" cy="75.60" r="1.75" fill="#8a8a8a" stroke="#4a4a4a" stroke-width="0.7"/>
<circle cx="107.00" cy="82.40" r="1.75" fill="#8a8a8a" stroke="#4a4a4a" stroke-width="0.7"/>
<circle cx="107.00" cy="89.20" r="1.75" fill="#8a8a8a" stroke="#4a4a4a" stroke-width="0.7"/>
<circle cx="107.00" cy="96.00" r="1.75" fill="#8a8a8a" stroke="#4a4a4a" stroke-width="0.7"/>
<circle cx="107.00" cy="102.80" r="1.75" fill="#8a8a8a" stroke="#4a4a4a" stroke-width="0.7"/>
<circle cx="107.00" cy="109.60" r="1.75" fill="#8a8a8a" stroke="#4a4a4a" stroke-width="0.7"/>
<circle cx="107.00" cy="116.40" r="1.75" fill="#8a8a8a" stroke="#4a4a4a" stroke-width="0.7"/>
<circle cx="107.00" cy="123.20" r="1.75" fill="#8a8a8a" stroke="#4a4a4a" stroke-width="0.7"/>
<circle cx="107.00" cy="130.00" r="1.75" fill="#8a8a8a" stroke="#4a4a4a" stroke-width="0.7"/>
<circle cx="107.00" cy="136.80" r="1.75" fill="#8a8a8a" stroke="#4a4a4a" stroke-width="0.7"/>
<path d="M16.4 139.5 Q19.4 150.8 66.4 150.8 Q113.4 150.8 117.4 139.5" fill="none" stroke="#c6c6c6" stroke-width="2.5"/>
<line x1="89.00" y1="61.70" x2="93.00" y2="56.70" stroke="#aaa" stroke-width="0.9" stroke-linecap="round"/>
<circle cx="89.00" cy="61.70" r="2.1" fill="#505050"/><circle cx="89.00" cy="61.70" r="0.85" fill="#a0a0a0"/>
<line x1="80.90" y1="72.20" x2="83.40" y2="66.20" stroke="#aaa" stroke-width="0.9" stroke-linecap="round"/>
<circle cx="80.90" cy="72.20" r="2.1" fill="#505050"/><circle cx="80.90" cy="72.20" r="0.85" fill="#a0a0a0"/>
<line x1="95.00" y1="75.00" x2="100.00" y2="71.00" stroke="#aaa" stroke-width="0.9" stroke-linecap="round"/>
<circle cx="95.00" cy="75.00" r="2.1" fill="#505050"/><circle cx="95.00" cy="75.00" r="0.85" fill="#a0a0a0"/>
<line x1="89.00" y1="84.10" x2="85.00" y2="79.10" stroke="#aaa" stroke-width="0.9" stroke-linecap="round"/>
<circle cx="89.00" cy="84.10" r="2.1" fill="#505050"/><circle cx="89.00" cy="84.10" r="0.85" fill="#a0a0a0"/>
<text x="90.40" y="54.50" font-size="6.5" fill="#888" text-anchor="middle" font-weight="normal" >Zn<tspan dy="-2" font-size="4">2+</tspan></text>
<rect x="203.0" y="27.5" width="79" height="112" rx="9" fill="#d9ebe9" filter="url(#blur2)"/>
<path d="M196.8 24.5 C199.5 18 203.0 9.5 210.5 9.4 L277.5 9.4 C285.0 9.5 288.5 18 290.8 24.5" fill="none" stroke="#cdcdcd" stroke-width="2.9"/>
<line x1="209.0" y1="9.4" x2="279.0" y2="9.4" stroke="#e0e0e0" stroke-width="2.9"/>
<circle cx="243.5" cy="9.3" r="8.7" fill="#fff" stroke="#c4c4c4" stroke-width="0.9"/>
<text x="243.50" y="12.80" font-size="9.5" fill="#b8b8b8" text-anchor="middle" font-weight="normal" >A</text>
<path d="M212.4 5.3 C205.0 5.8 200.0 9.5 197.2 13.8" fill="none" stroke="#555" stroke-width="0.7"/>
<path d="M196.3 10.6 L196.7 14.6 L200.0 12.6" fill="none" stroke="#555" stroke-width="0.7"/>
<path d="M276.0 5.3 C283.0 5.8 288.0 9.5 290.5 13.8" fill="none" stroke="#555" stroke-width="0.7"/>
<path d="M277.5 3.2 L275.6 5.3 L278.2 7.0" fill="none" stroke="#555" stroke-width="0.7"/>
<text x="200.60" y="6.20" font-size="5.2" fill="#666" text-anchor="start" font-weight="normal" >e<tspan dy="-1.5" font-size="3.5">-</tspan></text>
<text x="286.50" y="6.20" font-size="5.2" fill="#666" text-anchor="start" font-weight="normal" >e<tspan dy="-1.5" font-size="3.5">-</tspan></text>
<path d="M188.0 139.7 L188.0 26 Q188.0 23.8 190.2 23.8 L201.1 23.8 Q203.3 23.8 203.3 26 L203.3 139.7 Z" fill="url(#elL)"/>
<path d="M282.5 139.7 L282.5 26 Q282.5 23.8 284.7 23.8 L298.5 23.8 L298.5 139.7 Z" fill="url(#elR)"/>
<circle cx="283.60" cy="28.00" r="1.75" fill="#8a8a8a" stroke="#4a4a4a" stroke-width="0.7"/>
<circle cx="283.60" cy="34.80" r="1.75" fill="#8a8a8a" stroke="#4a4a4a" stroke-width="0.7"/>
<circle cx="283.60" cy="41.60" r="1.75" fill="#8a8a8a" stroke="#4a4a4a" stroke-width="0.7"/>
<circle cx="283.60" cy="48.40" r="1.75" fill="#8a8a8a" stroke="#4a4a4a" stroke-width="0.7"/>
<circle cx="283.60" cy="55.20" r="1.75" fill="#8a8a8a" stroke="#4a4a4a" stroke-width="0.7"/>
<circle cx="283.60" cy="62.00" r="1.75" fill="#8a8a8a" stroke="#4a4a4a" stroke-width="0.7"/>
<circle cx="283.60" cy="68.80" r="1.75" fill="#8a8a8a" stroke="#4a4a4a" stroke-width="0.7"/>
<circle cx="283.60" cy="75.60" r="1.75" fill="#8a8a8a" stroke="#4a4a4a" stroke-width="0.7"/>
<circle cx="283.60" cy="82.40" r="1.75" fill="#8a8a8a" stroke="#4a4a4a" stroke-width="0.7"/>
<circle cx="283.60" cy="89.20" r="1.75" fill="#8a8a8a" stroke="#4a4a4a" stroke-width="0.7"/>
<circle cx="283.60" cy="96.00" r="1.75" fill="#8a8a8a" stroke="#4a4a4a" stroke-width="0.7"/>
<circle cx="283.60" cy="102.80" r="1.75" fill="#8a8a8a" stroke="#4a4a4a" stroke-width="0.7"/>
<circle cx="283.60" cy="109.60" r="1.75" fill="#8a8a8a" stroke="#4a4a4a" stroke-width="0.7"/>
<circle cx="283.60" cy="116.40" r="1.75" fill="#8a8a8a" stroke="#4a4a4a" stroke-width="0.7"/>
<circle cx="283.60" cy="123.20" r="1.75" fill="#8a8a8a" stroke="#4a4a4a" stroke-width="0.7"/>
<circle cx="283.60" cy="130.00" r="1.75" fill="#8a8a8a" stroke="#4a4a4a" stroke-width="0.7"/>
<circle cx="283.60" cy="136.80" r="1.75" fill="#8a8a8a" stroke="#4a4a4a" stroke-width="0.7"/>
<path d="M193.0 139.5 Q196.0 150.8 243.0 150.8 Q290.0 150.8 294.0 139.5" fill="none" stroke="#c6c6c6" stroke-width="2.5"/>
<line x1="265.60" y1="61.70" x2="269.60" y2="56.70" stroke="#aaa" stroke-width="0.9" stroke-linecap="round"/>
<circle cx="265.60" cy="61.70" r="2.1" fill="#505050"/><circle cx="265.60" cy="61.70" r="0.85" fill="#a0a0a0"/>
<line x1="257.50" y1="72.20" x2="260.00" y2="66.20" stroke="#aaa" stroke-width="0.9" stroke-linecap="round"/>
<circle cx="257.50" cy="72.20" r="2.1" fill="#505050"/><circle cx="257.50" cy="72.20" r="0.85" fill="#a0a0a0"/>
<line x1="271.60" y1="75.00" x2="276.60" y2="71.00" stroke="#aaa" stroke-width="0.9" stroke-linecap="round"/>
<circle cx="271.60" cy="75.00" r="2.1" fill="#505050"/><circle cx="271.60" cy="75.00" r="0.85" fill="#a0a0a0"/>
<line x1="265.60" y1="84.10" x2="261.60" y2="79.10" stroke="#aaa" stroke-width="0.9" stroke-linecap="round"/>
<circle cx="265.60" cy="84.10" r="2.1" fill="#505050"/><circle cx="265.60" cy="84.10" r="0.85" fill="#a0a0a0"/>
<text x="267.00" y="54.50" font-size="6.5" fill="#888" text-anchor="middle" font-weight="normal" >Zn<tspan dy="-2" font-size="4">2+</tspan></text>
<rect x="383.2" y="27.5" width="79" height="112" rx="9" fill="#d9ebe9" filter="url(#blur2)"/>
<path d="M377.0 24.5 C379.7 18 383.2 9.5 390.7 9.4 L457.7 9.4 C465.2 9.5 468.7 18 471.0 24.5" fill="none" stroke="#cdcdcd" stroke-width="2.9"/>
<line x1="389.2" y1="9.4" x2="459.2" y2="9.4" stroke="#e0e0e0" stroke-width="2.9"/>
<circle cx="423.7" cy="9.3" r="8.7" fill="#fff" stroke="#c4c4c4" stroke-width="0.9"/>
<text x="423.70" y="12.80" font-size="9.5" fill="#b8b8b8" text-anchor="middle" font-weight="normal" >A</text>
<path d="M392.59999999999997 5.3 C385.2 5.8 380.2 9.5 377.4 13.8" fill="none" stroke="#555" stroke-width="0.7"/>
<path d="M376.5 10.6 L376.9 14.6 L380.2 12.6" fill="none" stroke="#555" stroke-width="0.7"/>
<path d="M456.2 5.3 C463.2 5.8 468.2 9.5 470.7 13.8" fill="none" stroke="#555" stroke-width="0.7"/>
<path d="M457.7 3.2 L455.79999999999995 5.3 L458.4 7.0" fill="none" stroke="#555" stroke-width="0.7"/>
<text x="380.80" y="6.20" font-size="5.2" fill="#666" text-anchor="start" font-weight="normal" >e<tspan dy="-1.5" font-size="3.5">-</tspan></text>
<text x="466.70" y="6.20" font-size="5.2" fill="#666" text-anchor="start" font-weight="normal" >e<tspan dy="-1.5" font-size="3.5">-</tspan></text>
<path d="M368.2 139.7 L368.2 26 Q368.2 23.8 370.4 23.8 L381.3 23.8 Q383.5 23.8 383.5 26 L383.5 139.7 Z" fill="url(#elL)"/>
<path d="M462.7 139.7 L462.7 26 Q462.7 23.8 464.9 23.8 L478.7 23.8 L478.7 139.7 Z" fill="url(#elR)"/>
<circle cx="463.80" cy="28.00" r="1.75" fill="#8a8a8a" stroke="#4a4a4a" stroke-width="0.7"/>
<circle cx="463.80" cy="34.80" r="1.75" fill="#8a8a8a" stroke="#4a4a4a" stroke-width="0.7"/>
<circle cx="463.80" cy="41.60" r="1.75" fill="#8a8a8a" stroke="#4a4a4a" stroke-width="0.7"/>
<circle cx="463.80" cy="48.40" r="1.75" fill="#8a8a8a" stroke="#4a4a4a" stroke-width="0.7"/>
<circle cx="463.80" cy="55.20" r="1.75" fill="#8a8a8a" stroke="#4a4a4a" stroke-width="0.7"/>
<circle cx="463.80" cy="62.00" r="1.75" fill="#8a8a8a" stroke="#4a4a4a" stroke-width="0.7"/>
<circle cx="463.80" cy="68.80" r="1.75" fill="#8a8a8a" stroke="#4a4a4a" stroke-width="0.7"/>
<circle cx="463.80" cy="75.60" r="1.75" fill="#8a8a8a" stroke="#4a4a4a" stroke-width="0.7"/>
<circle cx="463.80" cy="82.40" r="1.75" fill="#8a8a8a" stroke="#4a4a4a" stroke-width="0.7"/>
<circle cx="463.80" cy="89.20" r="1.75" fill="#8a8a8a" stroke="#4a4a4a" stroke-width="0.7"/>
<circle cx="463.80" cy="96.00" r="1.75" fill="#8a8a8a" stroke="#4a4a4a" stroke-width="0.7"/>
<circle cx="463.80" cy="102.80" r="1.75" fill="#8a8a8a" stroke="#4a4a4a" stroke-width="0.7"/>
<circle cx="463.80" cy="109.60" r="1.75" fill="#8a8a8a" stroke="#4a4a4a" stroke-width="0.7"/>
<circle cx="463.80" cy="116.40" r="1.75" fill="#8a8a8a" stroke="#4a4a4a" stroke-width="0.7"/>
<circle cx="463.80" cy="123.20" r="1.75" fill="#8a8a8a" stroke="#4a4a4a" stroke-width="0.7"/>
<circle cx="463.80" cy="130.00" r="1.75" fill="#8a8a8a" stroke="#4a4a4a" stroke-width="0.7"/>
<circle cx="463.80" cy="136.80" r="1.75" fill="#8a8a8a" stroke="#4a4a4a" stroke-width="0.7"/>
<path d="M373.2 139.5 Q376.2 150.8 423.2 150.8 Q470.2 150.8 474.2 139.5" fill="none" stroke="#c6c6c6" stroke-width="2.5"/>
<line x1="445.80" y1="61.70" x2="449.80" y2="56.70" stroke="#aaa" stroke-width="0.9" stroke-linecap="round"/>
<circle cx="445.80" cy="61.70" r="2.1" fill="#505050"/><circle cx="445.80" cy="61.70" r="0.85" fill="#a0a0a0"/>
<line x1="437.70" y1="72.20" x2="440.20" y2="66.20" stroke="#aaa" stroke-width="0.9" stroke-linecap="round"/>
<circle cx="437.70" cy="72.20" r="2.1" fill="#505050"/><circle cx="437.70" cy="72.20" r="0.85" fill="#a0a0a0"/>
<line x1="451.80" y1="75.00" x2="456.80" y2="71.00" stroke="#aaa" stroke-width="0.9" stroke-linecap="round"/>
<circle cx="451.80" cy="75.00" r="2.1" fill="#505050"/><circle cx="451.80" cy="75.00" r="0.85" fill="#a0a0a0"/>
<line x1="445.80" y1="84.10" x2="441.80" y2="79.10" stroke="#aaa" stroke-width="0.9" stroke-linecap="round"/>
<circle cx="445.80" cy="84.10" r="2.1" fill="#505050"/><circle cx="445.80" cy="84.10" r="0.85" fill="#a0a0a0"/>
<text x="447.20" y="54.50" font-size="6.5" fill="#888" text-anchor="middle" font-weight="normal" >Zn<tspan dy="-2" font-size="4">2+</tspan></text>
<circle cx="33.30" cy="32.30" r="1.35" fill="url(#sO)"/>
<circle cx="51.90" cy="39.30" r="1.35" fill="url(#sO)"/>
<circle cx="23.40" cy="50.30" r="1.35" fill="url(#sO)"/>
<circle cx="41.40" cy="52.80" r="1.35" fill="url(#sO)"/>
<circle cx="48.40" cy="36.30" r="1.35" fill="url(#sO)"/>
<circle cx="36.40" cy="53.30" r="1.35" fill="url(#sO)"/>
<circle cx="31.40" cy="42.80" r="1.35" fill="url(#sO)"/>
<circle cx="41.90" cy="43.30" r="1.35" fill="url(#sO)"/>
<circle cx="33.30" cy="37.30" r="2.4" fill="url(#sAg)" stroke="#6f9fd4" stroke-width="0.85"/>
<circle cx="40.00" cy="39.40" r="2.4" fill="url(#sAg)" stroke="#6f9fd4" stroke-width="0.85"/>
<circle cx="38.20" cy="43.40" r="2.4" fill="url(#sAg)" stroke="#6f9fd4" stroke-width="0.85"/>
<circle cx="48.20" cy="41.50" r="2.4" fill="url(#sAg)" stroke="#6f9fd4" stroke-width="0.85"/>
<circle cx="27.70" cy="46.40" r="2.4" fill="url(#sAg)" stroke="#6f9fd4" stroke-width="0.85"/>
<circle cx="36.30" cy="47.30" r="2.4" fill="url(#sAg)" stroke="#6f9fd4" stroke-width="0.85"/>
<circle cx="43.40" cy="49.60" r="2.4" fill="url(#sAg)" stroke="#6f9fd4" stroke-width="0.85"/>
<circle cx="33.30" cy="57.20" r="1.35" fill="url(#sO)"/>
<circle cx="51.90" cy="64.20" r="1.35" fill="url(#sO)"/>
<circle cx="23.40" cy="75.20" r="1.35" fill="url(#sO)"/>
<circle cx="41.40" cy="77.70" r="1.35" fill="url(#sO)"/>
<circle cx="48.40" cy="61.20" r="1.35" fill="url(#sO)"/>
<circle cx="36.40" cy="78.20" r="1.35" fill="url(#sO)"/>
<circle cx="31.40" cy="67.70" r="1.35" fill="url(#sO)"/>
<circle cx="41.90" cy="68.20" r="1.35" fill="url(#sO)"/>
<circle cx="33.30" cy="62.20" r="2.4" fill="url(#sAg)" stroke="#6f9fd4" stroke-width="0.85"/>
<circle cx="40.00" cy="64.30" r="2.4" fill="url(#sAg)" stroke="#6f9fd4" stroke-width="0.85"/>
<circle cx="38.20" cy="68.30" r="2.4" fill="url(#sAg)" stroke="#6f9fd4" stroke-width="0.85"/>
<circle cx="48.20" cy="66.40" r="2.4" fill="url(#sAg)" stroke="#6f9fd4" stroke-width="0.85"/>
<circle cx="27.70" cy="71.30" r="2.4" fill="url(#sAg)" stroke="#6f9fd4" stroke-width="0.85"/>
<circle cx="36.30" cy="72.20" r="2.4" fill="url(#sAg)" stroke="#6f9fd4" stroke-width="0.85"/>
<circle cx="43.40" cy="74.50" r="2.4" fill="url(#sAg)" stroke="#6f9fd4" stroke-width="0.85"/>
<text x="39.40" y="88.60" font-size="7" fill="#a9d0f0" text-anchor="middle" font-weight="normal" >Ag<tspan dy="1.5" font-size="4.5">2</tspan><tspan dy="-1.5">O</tspan></text>
<line x1="30.40" y1="99.00" x2="37.23" y2="99.27" stroke="#d8c0c0" stroke-width="0.6"/>
<circle cx="37.23" cy="99.27" r="1.4" fill="url(#sO)"/>
<line x1="30.40" y1="99.00" x2="31.78" y2="105.49" stroke="#d8c0c0" stroke-width="0.6"/>
<circle cx="31.78" cy="105.49" r="1.4" fill="url(#sO)"/>
<line x1="30.40" y1="99.00" x2="24.48" y2="101.91" stroke="#d8c0c0" stroke-width="0.6"/>
<circle cx="24.48" cy="101.91" r="1.4" fill="url(#sO)"/>
<line x1="30.40" y1="99.00" x2="30.76" y2="93.23" stroke="#d8c0c0" stroke-width="0.6"/>
<circle cx="30.76" cy="93.23" r="1.4" fill="url(#sO)"/>
<line x1="40.20" y1="103.70" x2="46.05" y2="103.33" stroke="#d8c0c0" stroke-width="0.6"/>
<circle cx="46.05" cy="103.33" r="1.4" fill="url(#sO)"/>
<line x1="40.20" y1="103.70" x2="43.91" y2="109.59" stroke="#d8c0c0" stroke-width="0.6"/>
<circle cx="43.91" cy="109.59" r="1.4" fill="url(#sO)"/>
<line x1="40.20" y1="103.70" x2="33.75" y2="106.09" stroke="#d8c0c0" stroke-width="0.6"/>
<circle cx="33.75" cy="106.09" r="1.4" fill="url(#sO)"/>
<line x1="40.20" y1="103.70" x2="36.63" y2="98.56" stroke="#d8c0c0" stroke-width="0.6"/>
<circle cx="36.63" cy="98.56" r="1.4" fill="url(#sO)"/>
<line x1="55.10" y1="99.00" x2="51.85" y2="104.61" stroke="#d8c0c0" stroke-width="0.6"/>
<circle cx="51.85" cy="104.61" r="1.4" fill="url(#sO)"/>
<line x1="55.10" y1="99.00" x2="52.17" y2="94.13" stroke="#d8c0c0" stroke-width="0.6"/>
<circle cx="52.17" cy="94.13" r="1.4" fill="url(#sO)"/>
<line x1="55.10" y1="99.00" x2="59.03" y2="93.86" stroke="#d8c0c0" stroke-width="0.6"/>
<circle cx="59.03" cy="93.86" r="1.4" fill="url(#sO)"/>
<line x1="55.10" y1="99.00" x2="60.99" y2="101.82" stroke="#d8c0c0" stroke-width="0.6"/>
<circle cx="60.99" cy="101.82" r="1.4" fill="url(#sO)"/>
<line x1="49.00" y1="109.80" x2="43.46" y2="107.84" stroke="#d8c0c0" stroke-width="0.6"/>
<circle cx="43.46" cy="107.84" r="1.4" fill="url(#sO)"/>
<line x1="49.00" y1="109.80" x2="51.66" y2="103.41" stroke="#d8c0c0" stroke-width="0.6"/>
<circle cx="51.66" cy="103.41" r="1.4" fill="url(#sO)"/>
<line x1="49.00" y1="109.80" x2="54.53" y2="111.01" stroke="#d8c0c0" stroke-width="0.6"/>
<circle cx="54.53" cy="111.01" r="1.4" fill="url(#sO)"/>
<line x1="49.00" y1="109.80" x2="45.59" y2="114.53" stroke="#d8c0c0" stroke-width="0.6"/>
<circle cx="45.59" cy="114.53" r="1.4" fill="url(#sO)"/>
<line x1="31.50" y1="114.40" x2="35.66" y2="119.39" stroke="#d8c0c0" stroke-width="0.6"/>
<circle cx="35.66" cy="119.39" r="1.4" fill="url(#sO)"/>
<line x1="31.50" y1="114.40" x2="26.01" y2="118.42" stroke="#d8c0c0" stroke-width="0.6"/>
<circle cx="26.01" cy="118.42" r="1.4" fill="url(#sO)"/>
<line x1="31.50" y1="114.40" x2="26.15" y2="111.11" stroke="#d8c0c0" stroke-width="0.6"/>
<circle cx="26.15" cy="111.11" r="1.4" fill="url(#sO)"/>
<line x1="31.50" y1="114.40" x2="33.82" y2="108.26" stroke="#d8c0c0" stroke-width="0.6"/>
<circle cx="33.82" cy="108.26" r="1.4" fill="url(#sO)"/>
<line x1="40.90" y1="120.30" x2="36.90" y2="114.65" stroke="#d8c0c0" stroke-width="0.6"/>
<circle cx="36.90" cy="114.65" r="1.4" fill="url(#sO)"/>
<line x1="40.90" y1="120.30" x2="44.44" y2="116.01" stroke="#d8c0c0" stroke-width="0.6"/>
<circle cx="44.44" cy="116.01" r="1.4" fill="url(#sO)"/>
<line x1="40.90" y1="120.30" x2="44.09" y2="125.46" stroke="#d8c0c0" stroke-width="0.6"/>
<circle cx="44.09" cy="125.46" r="1.4" fill="url(#sO)"/>
<line x1="40.90" y1="120.30" x2="36.66" y2="125.24" stroke="#d8c0c0" stroke-width="0.6"/>
<circle cx="36.66" cy="125.24" r="1.4" fill="url(#sO)"/>
<line x1="50.20" y1="125.40" x2="46.26" y2="121.00" stroke="#d8c0c0" stroke-width="0.6"/>
<circle cx="46.26" cy="121.00" r="1.4" fill="url(#sO)"/>
<line x1="50.20" y1="125.40" x2="57.04" y2="124.58" stroke="#d8c0c0" stroke-width="0.6"/>
<circle cx="57.04" cy="124.58" r="1.4" fill="url(#sO)"/>
<line x1="50.20" y1="125.40" x2="52.93" y2="131.16" stroke="#d8c0c0" stroke-width="0.6"/>
<circle cx="52.93" cy="131.16" r="1.4" fill="url(#sO)"/>
<line x1="50.20" y1="125.40" x2="45.39" y2="129.39" stroke="#d8c0c0" stroke-width="0.6"/>
<circle cx="45.39" cy="129.39" r="1.4" fill="url(#sO)"/>
<line x1="25.20" y1="125.90" x2="20.05" y2="130.14" stroke="#d8c0c0" stroke-width="0.6"/>
<circle cx="20.05" cy="130.14" r="1.4" fill="url(#sO)"/>
<line x1="25.20" y1="125.90" x2="21.99" y2="120.68" stroke="#d8c0c0" stroke-width="0.6"/>
<circle cx="21.99" cy="120.68" r="1.4" fill="url(#sO)"/>
<line x1="25.20" y1="125.90" x2="28.42" y2="120.09" stroke="#d8c0c0" stroke-width="0.6"/>
<circle cx="28.42" cy="120.09" r="1.4" fill="url(#sO)"/>
<line x1="25.20" y1="125.90" x2="27.62" y2="132.35" stroke="#d8c0c0" stroke-width="0.6"/>
<circle cx="27.62" cy="132.35" r="1.4" fill="url(#sO)"/>
<circle cx="30.40" cy="99.00" r="3.55" fill="url(#sBi)"/>
<circle cx="40.20" cy="103.70" r="3.55" fill="url(#sBi)"/>
<circle cx="55.10" cy="99.00" r="3.55" fill="url(#sBi)"/>
<circle cx="49.00" cy="109.80" r="3.55" fill="url(#sBi)"/>
<circle cx="31.50" cy="114.40" r="3.55" fill="url(#sBi)"/>
<circle cx="40.90" cy="120.30" r="3.55" fill="url(#sBi)"/>
<circle cx="50.20" cy="125.40" r="3.55" fill="url(#sBi)"/>
<circle cx="25.20" cy="125.90" r="3.55" fill="url(#sBi)"/>
<text x="40.40" y="138.80" font-size="7" fill="#f0a0a4" text-anchor="middle" font-weight="normal" >Bi<tspan dy="1.5" font-size="4.5">2</tspan><tspan dy="-1.5">O</tspan><tspan dy="1.5" font-size="4.5">3</tspan></text>
<circle cx="67.40" cy="59.20" r="1.35" fill="url(#sO)"/>
<circle cx="71.00" cy="57.50" r="1.1" fill="url(#sH)"/>
<circle cx="61.70" cy="74.50" r="1.35" fill="url(#sO)"/>
<circle cx="65.70" cy="75.90" r="1.1" fill="url(#sH)"/>
<circle cx="77.60" cy="94.60" r="1.35" fill="url(#sO)"/>
<circle cx="81.50" cy="92.90" r="1.1" fill="url(#sH)"/>
<circle cx="78.70" cy="112.60" r="1.35" fill="url(#sO)"/>
<circle cx="82.50" cy="114.40" r="1.1" fill="url(#sH)"/>
<circle cx="209.90" cy="34.70" r="1.35" fill="url(#sO)"/>
<circle cx="228.50" cy="41.70" r="1.35" fill="url(#sO)"/>
<circle cx="200.00" cy="52.70" r="1.35" fill="url(#sO)"/>
<circle cx="218.00" cy="55.20" r="1.35" fill="url(#sO)"/>
<circle cx="225.00" cy="38.70" r="1.35" fill="url(#sO)"/>
<circle cx="213.00" cy="55.70" r="1.35" fill="url(#sO)"/>
<circle cx="208.00" cy="45.20" r="1.35" fill="url(#sO)"/>
<circle cx="218.50" cy="45.70" r="1.35" fill="url(#sO)"/>
<circle cx="209.90" cy="39.70" r="2.4" fill="url(#sAg)" stroke="#6f9fd4" stroke-width="0.85"/>
<circle cx="216.60" cy="41.80" r="2.4" fill="url(#sAg)" stroke="#6f9fd4" stroke-width="0.85"/>
<circle cx="214.80" cy="45.80" r="2.4" fill="url(#sAg)" stroke="#6f9fd4" stroke-width="0.85"/>
<circle cx="224.80" cy="43.90" r="2.4" fill="url(#sAg)" stroke="#6f9fd4" stroke-width="0.85"/>
<circle cx="204.30" cy="48.80" r="2.4" fill="url(#sAg)" stroke="#6f9fd4" stroke-width="0.85"/>
<circle cx="212.90" cy="49.70" r="2.4" fill="url(#sAg)" stroke="#6f9fd4" stroke-width="0.85"/>
<circle cx="220.00" cy="52.00" r="2.4" fill="url(#sAg)" stroke="#6f9fd4" stroke-width="0.85"/>
<path d="M230.0 45 C235.0 50 235.0 58 230.5 64 L228.3 61.6 L227.5 69 L234.5 66.5 L232.5 65 C237.5 58 236.5 50 230.0 45 Z" fill="url(#bluearr)"/>
<text x="215.00" y="65.30" font-size="7" fill="#a9d0f0" text-anchor="middle" font-weight="normal" >Ag<tspan dy="1.5" font-size="4.5">2</tspan><tspan dy="-1.5">O</tspan></text>
<circle cx="206.70" cy="73.60" r="2.35" fill="url(#sAg)" stroke="#6f9fd4" stroke-width="0.85"/>
<circle cx="213.30" cy="73.60" r="2.35" fill="url(#sAg)" stroke="#6f9fd4" stroke-width="0.85"/>
<circle cx="219.80" cy="73.60" r="2.35" fill="url(#sAg)" stroke="#6f9fd4" stroke-width="0.85"/>
<circle cx="226.60" cy="73.60" r="2.35" fill="url(#sAg)" stroke="#6f9fd4" stroke-width="0.85"/>
<circle cx="203.40" cy="78.90" r="2.35" fill="url(#sAg)" stroke="#6f9fd4" stroke-width="0.85"/>
<circle cx="210.00" cy="78.90" r="2.35" fill="url(#sAg)" stroke="#6f9fd4" stroke-width="0.85"/>
<circle cx="216.50" cy="78.90" r="2.35" fill="url(#sAg)" stroke="#6f9fd4" stroke-width="0.85"/>
<circle cx="223.00" cy="78.90" r="2.35" fill="url(#sAg)" stroke="#6f9fd4" stroke-width="0.85"/>
<circle cx="229.60" cy="78.90" r="2.35" fill="url(#sAg)" stroke="#6f9fd4" stroke-width="0.85"/>
<circle cx="206.70" cy="84.20" r="2.35" fill="url(#sAg)" stroke="#6f9fd4" stroke-width="0.85"/>
<circle cx="213.30" cy="84.20" r="2.35" fill="url(#sAg)" stroke="#6f9fd4" stroke-width="0.85"/>
<circle cx="219.80" cy="84.20" r="2.35" fill="url(#sAg)" stroke="#6f9fd4" stroke-width="0.85"/>
<circle cx="226.60" cy="84.20" r="2.35" fill="url(#sAg)" stroke="#6f9fd4" stroke-width="0.85"/>
<text x="216.00" y="95.50" font-size="7" fill="#a9d0f0" text-anchor="middle" font-weight="normal" >Ag</text>
<line x1="207.00" y1="104.10" x2="212.71" y2="100.74" stroke="#d8c0c0" stroke-width="0.6"/>
<circle cx="212.71" cy="100.74" r="1.4" fill="url(#sO)"/>
<line x1="207.00" y1="104.10" x2="208.29" y2="110.88" stroke="#d8c0c0" stroke-width="0.6"/>
<circle cx="208.29" cy="110.88" r="1.4" fill="url(#sO)"/>
<line x1="207.00" y1="104.10" x2="201.85" y2="106.59" stroke="#d8c0c0" stroke-width="0.6"/>
<circle cx="201.85" cy="106.59" r="1.4" fill="url(#sO)"/>
<line x1="207.00" y1="104.10" x2="202.85" y2="98.50" stroke="#d8c0c0" stroke-width="0.6"/>
<circle cx="202.85" cy="98.50" r="1.4" fill="url(#sO)"/>
<line x1="216.80" y1="108.80" x2="222.24" y2="112.65" stroke="#d8c0c0" stroke-width="0.6"/>
<circle cx="222.24" cy="112.65" r="1.4" fill="url(#sO)"/>
<line x1="216.80" y1="108.80" x2="212.11" y2="112.88" stroke="#d8c0c0" stroke-width="0.6"/>
<circle cx="212.11" cy="112.88" r="1.4" fill="url(#sO)"/>
<line x1="216.80" y1="108.80" x2="211.94" y2="104.45" stroke="#d8c0c0" stroke-width="0.6"/>
<circle cx="211.94" cy="104.45" r="1.4" fill="url(#sO)"/>
<line x1="216.80" y1="108.80" x2="222.24" y2="105.60" stroke="#d8c0c0" stroke-width="0.6"/>
<circle cx="222.24" cy="105.60" r="1.4" fill="url(#sO)"/>
<line x1="231.70" y1="104.10" x2="226.89" y2="108.08" stroke="#d8c0c0" stroke-width="0.6"/>
<circle cx="226.89" cy="108.08" r="1.4" fill="url(#sO)"/>
<line x1="231.70" y1="104.10" x2="227.83" y2="98.78" stroke="#d8c0c0" stroke-width="0.6"/>
<circle cx="227.83" cy="98.78" r="1.4" fill="url(#sO)"/>
<line x1="231.70" y1="104.10" x2="235.33" y2="99.71" stroke="#d8c0c0" stroke-width="0.6"/>
<circle cx="235.33" cy="99.71" r="1.4" fill="url(#sO)"/>
<line x1="231.70" y1="104.10" x2="234.23" y2="109.73" stroke="#d8c0c0" stroke-width="0.6"/>
<circle cx="234.23" cy="109.73" r="1.4" fill="url(#sO)"/>
<line x1="225.60" y1="114.90" x2="226.16" y2="108.22" stroke="#d8c0c0" stroke-width="0.6"/>
<circle cx="226.16" cy="108.22" r="1.4" fill="url(#sO)"/>
<line x1="225.60" y1="114.90" x2="230.59" y2="118.19" stroke="#d8c0c0" stroke-width="0.6"/>
<circle cx="230.59" cy="118.19" r="1.4" fill="url(#sO)"/>
<line x1="225.60" y1="114.90" x2="223.55" y2="121.54" stroke="#d8c0c0" stroke-width="0.6"/>
<circle cx="223.55" cy="121.54" r="1.4" fill="url(#sO)"/>
<line x1="225.60" y1="114.90" x2="219.94" y2="114.40" stroke="#d8c0c0" stroke-width="0.6"/>
<circle cx="219.94" cy="114.40" r="1.4" fill="url(#sO)"/>
<line x1="208.10" y1="119.50" x2="203.63" y2="124.07" stroke="#d8c0c0" stroke-width="0.6"/>
<circle cx="203.63" cy="124.07" r="1.4" fill="url(#sO)"/>
<line x1="208.10" y1="119.50" x2="206.25" y2="113.50" stroke="#d8c0c0" stroke-width="0.6"/>
<circle cx="206.25" cy="113.50" r="1.4" fill="url(#sO)"/>
<line x1="208.10" y1="119.50" x2="212.96" y2="115.42" stroke="#d8c0c0" stroke-width="0.6"/>
<circle cx="212.96" cy="115.42" r="1.4" fill="url(#sO)"/>
<line x1="208.10" y1="119.50" x2="211.97" y2="124.51" stroke="#d8c0c0" stroke-width="0.6"/>
<circle cx="211.97" cy="124.51" r="1.4" fill="url(#sO)"/>
<line x1="217.50" y1="125.40" x2="223.75" y2="128.28" stroke="#d8c0c0" stroke-width="0.6"/>
<circle cx="223.75" cy="128.28" r="1.4" fill="url(#sO)"/>
<line x1="217.50" y1="125.40" x2="217.78" y2="131.02" stroke="#d8c0c0" stroke-width="0.6"/>
<circle cx="217.78" cy="131.02" r="1.4" fill="url(#sO)"/>
<line x1="217.50" y1="125.40" x2="211.75" y2="125.42" stroke="#d8c0c0" stroke-width="0.6"/>
<circle cx="211.75" cy="125.42" r="1.4" fill="url(#sO)"/>
<line x1="217.50" y1="125.40" x2="219.48" y2="119.81" stroke="#d8c0c0" stroke-width="0.6"/>
<circle cx="219.48" cy="119.81" r="1.4" fill="url(#sO)"/>
<line x1="226.80" y1="130.50" x2="221.63" y2="126.64" stroke="#d8c0c0" stroke-width="0.6"/>
<circle cx="221.63" cy="126.64" r="1.4" fill="url(#sO)"/>
<line x1="226.80" y1="130.50" x2="226.83" y2="125.00" stroke="#d8c0c0" stroke-width="0.6"/>
<circle cx="226.83" cy="125.00" r="1.4" fill="url(#sO)"/>
<line x1="226.80" y1="130.50" x2="232.85" y2="131.91" stroke="#d8c0c0" stroke-width="0.6"/>
<circle cx="232.85" cy="131.91" r="1.4" fill="url(#sO)"/>
<line x1="226.80" y1="130.50" x2="223.09" y2="136.39" stroke="#d8c0c0" stroke-width="0.6"/>
<circle cx="223.09" cy="136.39" r="1.4" fill="url(#sO)"/>
<line x1="201.80" y1="131.00" x2="200.33" y2="137.78" stroke="#d8c0c0" stroke-width="0.6"/>
<circle cx="200.33" cy="137.78" r="1.4" fill="url(#sO)"/>
<line x1="201.80" y1="131.00" x2="195.10" y2="129.76" stroke="#d8c0c0" stroke-width="0.6"/>
<circle cx="195.10" cy="129.76" r="1.4" fill="url(#sO)"/>
<line x1="201.80" y1="131.00" x2="200.80" y2="124.89" stroke="#d8c0c0" stroke-width="0.6"/>
<circle cx="200.80" cy="124.89" r="1.4" fill="url(#sO)"/>
<line x1="201.80" y1="131.00" x2="208.05" y2="131.00" stroke="#d8c0c0" stroke-width="0.6"/>
<circle cx="208.05" cy="131.00" r="1.4" fill="url(#sO)"/>
<circle cx="207.00" cy="104.10" r="3.55" fill="url(#sBi)"/>
<circle cx="216.80" cy="108.80" r="3.55" fill="url(#sBi)"/>
<circle cx="231.70" cy="104.10" r="3.55" fill="url(#sBi)"/>
<circle cx="225.60" cy="114.90" r="3.55" fill="url(#sBi)"/>
<circle cx="208.10" cy="119.50" r="3.55" fill="url(#sBi)"/>
<circle cx="217.50" cy="125.40" r="3.55" fill="url(#sBi)"/>
<circle cx="226.80" cy="130.50" r="3.55" fill="url(#sBi)"/>
<circle cx="201.80" cy="131.00" r="3.55" fill="url(#sBi)"/>
<text x="218.00" y="142.50" font-size="7" fill="#f0a0a4" text-anchor="middle" font-weight="normal" >Bi<tspan dy="1.5" font-size="4.5">2</tspan><tspan dy="-1.5">O</tspan><tspan dy="1.5" font-size="4.5">3</tspan></text>
<circle cx="249.90" cy="56.10" r="1.35" fill="url(#sO)"/>
<circle cx="254.40" cy="54.90" r="1.1" fill="url(#sH)"/>
<circle cx="242.20" cy="74.30" r="1.35" fill="url(#sO)"/>
<circle cx="246.40" cy="75.40" r="1.1" fill="url(#sH)"/>
<circle cx="260.70" cy="94.30" r="1.35" fill="url(#sO)"/>
<circle cx="264.20" cy="92.90" r="1.1" fill="url(#sH)"/>
<circle cx="250.50" cy="129.00" r="1.35" fill="url(#sO)"/>
<circle cx="254.20" cy="130.70" r="1.1" fill="url(#sH)"/>
<path d="M256.5 77 C251.5 83 250.0 95 253.7 104.2 L252.3 106 L262.0 107.8 L261.5 98.5 L259.5 100.6 C255.0 93 255.5 84 258.0 77 Z" fill="url(#grayarr)"/>
<text x="264.50" y="120.30" font-size="6.3" fill="#8c8c8c" text-anchor="middle" font-weight="normal" >[Zn(OH)<tspan dy="1.5" font-size="4">4</tspan><tspan dy="-1.5">]</tspan><tspan dy="-2.5" font-size="4">2-</tspan></text>
<circle cx="386.20" cy="33.90" r="2.35" fill="url(#sAg)" stroke="#6f9fd4" stroke-width="0.85"/>
<circle cx="392.80" cy="33.90" r="2.35" fill="url(#sAg)" stroke="#6f9fd4" stroke-width="0.85"/>
<circle cx="399.30" cy="33.90" r="2.35" fill="url(#sAg)" stroke="#6f9fd4" stroke-width="0.85"/>
<circle cx="406.10" cy="33.90" r="2.35" fill="url(#sAg)" stroke="#6f9fd4" stroke-width="0.85"/>
<circle cx="382.90" cy="39.20" r="2.35" fill="url(#sAg)" stroke="#6f9fd4" stroke-width="0.85"/>
<circle cx="389.50" cy="39.20" r="2.35" fill="url(#sAg)" stroke="#6f9fd4" stroke-width="0.85"/>
<circle cx="396.00" cy="39.20" r="2.35" fill="url(#sAg)" stroke="#6f9fd4" stroke-width="0.85"/>
<circle cx="402.50" cy="39.20" r="2.35" fill="url(#sAg)" stroke="#6f9fd4" stroke-width="0.85"/>
<circle cx="409.10" cy="39.20" r="2.35" fill="url(#sAg)" stroke="#6f9fd4" stroke-width="0.85"/>
<circle cx="386.20" cy="44.50" r="2.35" fill="url(#sAg)" stroke="#6f9fd4" stroke-width="0.85"/>
<circle cx="392.80" cy="44.50" r="2.35" fill="url(#sAg)" stroke="#6f9fd4" stroke-width="0.85"/>
<circle cx="399.30" cy="44.50" r="2.35" fill="url(#sAg)" stroke="#6f9fd4" stroke-width="0.85"/>
<circle cx="406.10" cy="44.50" r="2.35" fill="url(#sAg)" stroke="#6f9fd4" stroke-width="0.85"/>
<text x="395.50" y="55.00" font-size="7" fill="#a9d0f0" text-anchor="middle" font-weight="normal" >Ag</text>
<line x1="387.20" y1="65.20" x2="381.36" y2="64.09" stroke="#d8c0c0" stroke-width="0.6"/>
<circle cx="381.36" cy="64.09" r="1.4" fill="url(#sO)"/>
<line x1="387.20" y1="65.20" x2="389.14" y2="59.91" stroke="#d8c0c0" stroke-width="0.6"/>
<circle cx="389.14" cy="59.91" r="1.4" fill="url(#sO)"/>
<line x1="387.20" y1="65.20" x2="392.42" y2="68.87" stroke="#d8c0c0" stroke-width="0.6"/>
<circle cx="392.42" cy="68.87" r="1.4" fill="url(#sO)"/>
<line x1="387.20" y1="65.20" x2="382.82" y2="69.95" stroke="#d8c0c0" stroke-width="0.6"/>
<circle cx="382.82" cy="69.95" r="1.4" fill="url(#sO)"/>
<line x1="397.00" y1="69.90" x2="392.26" y2="73.52" stroke="#d8c0c0" stroke-width="0.6"/>
<circle cx="392.26" cy="73.52" r="1.4" fill="url(#sO)"/>
<line x1="397.00" y1="69.90" x2="397.13" y2="64.03" stroke="#d8c0c0" stroke-width="0.6"/>
<circle cx="397.13" cy="64.03" r="1.4" fill="url(#sO)"/>
<line x1="397.00" y1="69.90" x2="403.95" y2="70.32" stroke="#d8c0c0" stroke-width="0.6"/>
<circle cx="403.95" cy="70.32" r="1.4" fill="url(#sO)"/>
<line x1="397.00" y1="69.90" x2="400.42" y2="74.39" stroke="#d8c0c0" stroke-width="0.6"/>
<circle cx="400.42" cy="74.39" r="1.4" fill="url(#sO)"/>
<line x1="411.90" y1="65.20" x2="406.54" y2="63.48" stroke="#d8c0c0" stroke-width="0.6"/>
<circle cx="406.54" cy="63.48" r="1.4" fill="url(#sO)"/>
<line x1="411.90" y1="65.20" x2="416.44" y2="60.21" stroke="#d8c0c0" stroke-width="0.6"/>
<circle cx="416.44" cy="60.21" r="1.4" fill="url(#sO)"/>
<line x1="411.90" y1="65.20" x2="416.23" y2="69.12" stroke="#d8c0c0" stroke-width="0.6"/>
<circle cx="416.23" cy="69.12" r="1.4" fill="url(#sO)"/>
<line x1="411.90" y1="65.20" x2="407.60" y2="69.23" stroke="#d8c0c0" stroke-width="0.6"/>
<circle cx="407.60" cy="69.23" r="1.4" fill="url(#sO)"/>
<line x1="405.80" y1="76.00" x2="405.82" y2="81.59" stroke="#d8c0c0" stroke-width="0.6"/>
<circle cx="405.82" cy="81.59" r="1.4" fill="url(#sO)"/>
<line x1="405.80" y1="76.00" x2="399.42" y2="77.17" stroke="#d8c0c0" stroke-width="0.6"/>
<circle cx="399.42" cy="77.17" r="1.4" fill="url(#sO)"/>
<line x1="405.80" y1="76.00" x2="403.53" y2="69.72" stroke="#d8c0c0" stroke-width="0.6"/>
<circle cx="403.53" cy="69.72" r="1.4" fill="url(#sO)"/>
<line x1="405.80" y1="76.00" x2="411.67" y2="76.45" stroke="#d8c0c0" stroke-width="0.6"/>
<circle cx="411.67" cy="76.45" r="1.4" fill="url(#sO)"/>
<line x1="388.30" y1="80.60" x2="393.08" y2="77.85" stroke="#d8c0c0" stroke-width="0.6"/>
<circle cx="393.08" cy="77.85" r="1.4" fill="url(#sO)"/>
<line x1="388.30" y1="80.60" x2="390.43" y2="86.15" stroke="#d8c0c0" stroke-width="0.6"/>
<circle cx="390.43" cy="86.15" r="1.4" fill="url(#sO)"/>
<line x1="388.30" y1="80.60" x2="382.11" y2="83.84" stroke="#d8c0c0" stroke-width="0.6"/>
<circle cx="382.11" cy="83.84" r="1.4" fill="url(#sO)"/>
<line x1="388.30" y1="80.60" x2="384.10" y2="75.42" stroke="#d8c0c0" stroke-width="0.6"/>
<circle cx="384.10" cy="75.42" r="1.4" fill="url(#sO)"/>
<line x1="397.70" y1="86.50" x2="402.83" y2="84.10" stroke="#d8c0c0" stroke-width="0.6"/>
<circle cx="402.83" cy="84.10" r="1.4" fill="url(#sO)"/>
<line x1="397.70" y1="86.50" x2="401.69" y2="90.37" stroke="#d8c0c0" stroke-width="0.6"/>
<circle cx="401.69" cy="90.37" r="1.4" fill="url(#sO)"/>
<line x1="397.70" y1="86.50" x2="392.83" y2="90.17" stroke="#d8c0c0" stroke-width="0.6"/>
<circle cx="392.83" cy="90.17" r="1.4" fill="url(#sO)"/>
<line x1="397.70" y1="86.50" x2="393.08" y2="82.78" stroke="#d8c0c0" stroke-width="0.6"/>
<circle cx="393.08" cy="82.78" r="1.4" fill="url(#sO)"/>
<line x1="407.00" y1="91.60" x2="409.71" y2="85.16" stroke="#d8c0c0" stroke-width="0.6"/>
<circle cx="409.71" cy="85.16" r="1.4" fill="url(#sO)"/>
<line x1="407.00" y1="91.60" x2="413.59" y2="93.28" stroke="#d8c0c0" stroke-width="0.6"/>
<circle cx="413.59" cy="93.28" r="1.4" fill="url(#sO)"/>
<line x1="407.00" y1="91.60" x2="405.96" y2="98.43" stroke="#d8c0c0" stroke-width="0.6"/>
<circle cx="405.96" cy="98.43" r="1.4" fill="url(#sO)"/>
<line x1="407.00" y1="91.60" x2="401.51" y2="87.85" stroke="#d8c0c0" stroke-width="0.6"/>
<circle cx="401.51" cy="87.85" r="1.4" fill="url(#sO)"/>
<line x1="382.00" y1="92.10" x2="379.89" y2="85.46" stroke="#d8c0c0" stroke-width="0.6"/>
<circle cx="379.89" cy="85.46" r="1.4" fill="url(#sO)"/>
<line x1="382.00" y1="92.10" x2="388.09" y2="89.36" stroke="#d8c0c0" stroke-width="0.6"/>
<circle cx="388.09" cy="89.36" r="1.4" fill="url(#sO)"/>
<line x1="382.00" y1="92.10" x2="385.39" y2="98.17" stroke="#d8c0c0" stroke-width="0.6"/>
<circle cx="385.39" cy="98.17" r="1.4" fill="url(#sO)"/>
<line x1="382.00" y1="92.10" x2="375.82" y2="93.54" stroke="#d8c0c0" stroke-width="0.6"/>
<circle cx="375.82" cy="93.54" r="1.4" fill="url(#sO)"/>
<circle cx="387.20" cy="65.20" r="3.55" fill="url(#sBi)"/>
<circle cx="397.00" cy="69.90" r="3.55" fill="url(#sBi)"/>
<circle cx="411.90" cy="65.20" r="3.55" fill="url(#sBi)"/>
<circle cx="405.80" cy="76.00" r="3.55" fill="url(#sBi)"/>
<circle cx="388.30" cy="80.60" r="3.55" fill="url(#sBi)"/>
<circle cx="397.70" cy="86.50" r="3.55" fill="url(#sBi)"/>
<circle cx="407.00" cy="91.60" r="3.55" fill="url(#sBi)"/>
<circle cx="382.00" cy="92.10" r="3.55" fill="url(#sBi)"/>
<text x="395.20" y="107.70" font-size="7" fill="#f0a0a4" text-anchor="middle" font-weight="normal" >Bi<tspan dy="1.5" font-size="4.5">2</tspan><tspan dy="-1.5">O</tspan><tspan dy="1.5" font-size="4.5">3</tspan></text>
<circle cx="383.20" cy="115.00" r="3.45" fill="url(#sBi)"/>
<circle cx="392.65" cy="115.00" r="3.45" fill="url(#sBi)"/>
<circle cx="402.10" cy="115.00" r="3.45" fill="url(#sBi)"/>
<circle cx="383.20" cy="123.70" r="3.45" fill="url(#sBi)"/>
<circle cx="392.65" cy="123.70" r="3.45" fill="url(#sBi)"/>
<circle cx="402.10" cy="123.70" r="3.45" fill="url(#sBi)"/>
<circle cx="383.20" cy="132.40" r="3.45" fill="url(#sBi)"/>
<circle cx="392.65" cy="132.40" r="3.45" fill="url(#sBi)"/>
<circle cx="402.10" cy="132.40" r="3.45" fill="url(#sBi)"/>
<text x="393.20" y="141.80" font-size="7" fill="#f0a0a4" text-anchor="middle" font-weight="normal" >Bi</text>
<path d="M420.7 96 C423.2 104 419.2 111 414.2 114.5 L412.7 112.2 L408.7 118.5 L416.2 118.5 L415.0 116.5 C421.2 112 424.7 104 421.7 96 Z" fill="url(#pinkarr)"/>
<path d="M432.2 80 C427.2 86 425.7 98 429.4 107.2 L428.0 109 L437.7 110.8 L437.2 101.5 L435.2 103.6 C430.7 96 431.2 87 433.7 80 Z" fill="url(#grayarr)"/>
<text x="441.20" y="119.00" font-size="6.3" fill="#8c8c8c" text-anchor="middle" font-weight="normal" >[Zn(OH)<tspan dy="1.5" font-size="4">4</tspan><tspan dy="-1.5">]</tspan><tspan dy="-2.5" font-size="4">2-</tspan></text>
<circle cx="429.30" cy="56.50" r="1.35" fill="url(#sO)"/>
<circle cx="432.70" cy="57.70" r="1.1" fill="url(#sH)"/>
<circle cx="424.50" cy="79.90" r="1.35" fill="url(#sO)"/>
<circle cx="428.00" cy="78.00" r="1.1" fill="url(#sH)"/>
<circle cx="446.90" cy="95.40" r="1.35" fill="url(#sO)"/>
<circle cx="450.10" cy="97.90" r="1.1" fill="url(#sH)"/>
<circle cx="433.60" cy="126.70" r="1.35" fill="url(#sO)"/>
<circle cx="437.80" cy="126.70" r="1.1" fill="url(#sH)"/>
<text x="16.70" y="157.40" font-size="8.2" fill="#8a8a8a" text-anchor="middle" font-weight="normal" >Positive</text>
<text x="16.70" y="166.80" font-size="8.2" fill="#8a8a8a" text-anchor="middle" font-weight="normal" >electrode</text>
<text x="116.00" y="157.40" font-size="8.2" fill="#8a8a8a" text-anchor="middle" font-weight="normal" >Negative</text>
<text x="116.00" y="166.80" font-size="8.2" fill="#8a8a8a" text-anchor="middle" font-weight="normal" >electrode</text>
<text x="196.00" y="157.40" font-size="8.2" fill="#8a8a8a" text-anchor="middle" font-weight="normal" >Positive</text>
<text x="196.00" y="166.80" font-size="8.2" fill="#8a8a8a" text-anchor="middle" font-weight="normal" >electrode</text>
<text x="293.40" y="157.40" font-size="8.2" fill="#8a8a8a" text-anchor="middle" font-weight="normal" >Negative</text>
<text x="293.40" y="166.80" font-size="8.2" fill="#8a8a8a" text-anchor="middle" font-weight="normal" >electrode</text>
<text x="375.20" y="157.40" font-size="8.2" fill="#8a8a8a" text-anchor="middle" font-weight="normal" >Positive</text>
<text x="375.20" y="166.80" font-size="8.2" fill="#8a8a8a" text-anchor="middle" font-weight="normal" >electrode</text>
<text x="473.90" y="160.40" font-size="8.2" fill="#8a8a8a" text-anchor="middle" font-weight="normal" >Negative</text>
<text x="473.90" y="169.80" font-size="8.2" fill="#8a8a8a" text-anchor="middle" font-weight="normal" >electrode</text>
<path d="M129.20000000000002 82.6 L167.0 86 L167.0 79.5 L178.8 88.5 L167.0 97.9 L167.0 91 L129.20000000000002 94.3 Z" fill="url(#stepg)"/>
<text x="151.30" y="76.80" font-size="10.6" fill="#9fd0cd" text-anchor="middle" font-weight="bold" >Step 1</text>
<path d="M305.79999999999995 82.6 L343.59999999999997 86 L343.59999999999997 79.5 L355.4 88.5 L343.59999999999997 97.9 L343.59999999999997 91 L305.79999999999995 94.3 Z" fill="url(#stepg)"/>
<text x="327.90" y="76.80" font-size="10.6" fill="#9fd0cd" text-anchor="middle" font-weight="bold" >Step 2</text>
<text x="51.9" y="185.3" font-size="8.4" font-weight="bold" fill="#84b9dc" xml:space="preserve" textLength="99.6" lengthAdjust="spacingAndGlyphs"><tspan dy="0.00" font-size="8.40">Step 1  Ag</tspan><tspan dy="2.10" font-size="5.46">2</tspan><tspan dy="-2.10" font-size="8.40">O + H</tspan><tspan dy="2.10" font-size="5.46">2</tspan><tspan dy="-2.10" font-size="8.40">O + 2e</tspan><tspan dy="-3.36" font-size="5.46">-</tspan></text>
<path d="M153.20 181.00 L158.60 181.00 M153.20 181.00 L155.40 179.00 M153.20 183.60 L158.60 183.60 M158.60 183.60 L156.40 185.60" fill="none" stroke="#84b9dc" stroke-width="1.0"/>
<text x="160.3" y="185.3" font-size="8.4" font-weight="bold" fill="#84b9dc" xml:space="preserve" textLength="44.0" lengthAdjust="spacingAndGlyphs"><tspan dy="0.00" font-size="8.40">2Ag + 2OH</tspan><tspan dy="-3.36" font-size="5.46">-</tspan></text>
<text x="51.9" y="199.6" font-size="8.4" font-weight="bold" fill="#ee8282" xml:space="preserve" textLength="102.5" lengthAdjust="spacingAndGlyphs"><tspan dy="0.00" font-size="8.40">Step 2  Bi</tspan><tspan dy="2.10" font-size="5.46">2</tspan><tspan dy="-2.10" font-size="8.40">O</tspan><tspan dy="2.10" font-size="5.46">3</tspan><tspan dy="-2.10" font-size="8.40"> + 3H</tspan><tspan dy="2.10" font-size="5.46">2</tspan><tspan dy="-2.10" font-size="8.40">O + 6e</tspan><tspan dy="-3.36" font-size="5.46">-</tspan></text>
<path d="M156.20 195.30 L161.80 195.30 M156.20 195.30 L158.40 193.30 M156.20 197.90 L161.80 197.90 M161.80 197.90 L159.60 199.90" fill="none" stroke="#ee8282" stroke-width="1.0"/>
<text x="165.0" y="199.6" font-size="8.4" font-weight="bold" fill="#ee8282" xml:space="preserve" textLength="41.7" lengthAdjust="spacingAndGlyphs"><tspan dy="0.00" font-size="8.40">2Bi + 6OH</tspan><tspan dy="-3.36" font-size="5.46">-</tspan></text>
<circle cx="277.50" cy="190.30" r="6.1" fill="url(#sBi)"/>
<text x="286.90" y="193.60" font-size="8.6" fill="#222" text-anchor="start" font-weight="bold" >Bi</text>
<circle cx="312.70" cy="190.30" r="6.1" fill="url(#sAg)"/>
<text x="321.60" y="193.60" font-size="8.6" fill="#222" text-anchor="start" font-weight="bold" >Ag</text>
<circle cx="347.90" cy="190.30" r="6.1" fill="url(#sZn)"/>
<text x="357.60" y="193.60" font-size="8.6" fill="#222" text-anchor="start" font-weight="bold" >Zn</text>
<circle cx="382.60" cy="190.30" r="6.1" fill="url(#sO)"/>
<text x="393.10" y="193.60" font-size="8.6" fill="#222" text-anchor="start" font-weight="bold" >O</text>
<circle cx="417.60" cy="190.30" r="6.1" fill="url(#sH)"/>
<text x="427.30" y="193.60" font-size="8.6" fill="#222" text-anchor="start" font-weight="bold" >H</text>
<text x="1.20" y="14.00" font-size="12.8" fill="#000" text-anchor="start" font-weight="bold" >a</text>
</svg></body></html>
